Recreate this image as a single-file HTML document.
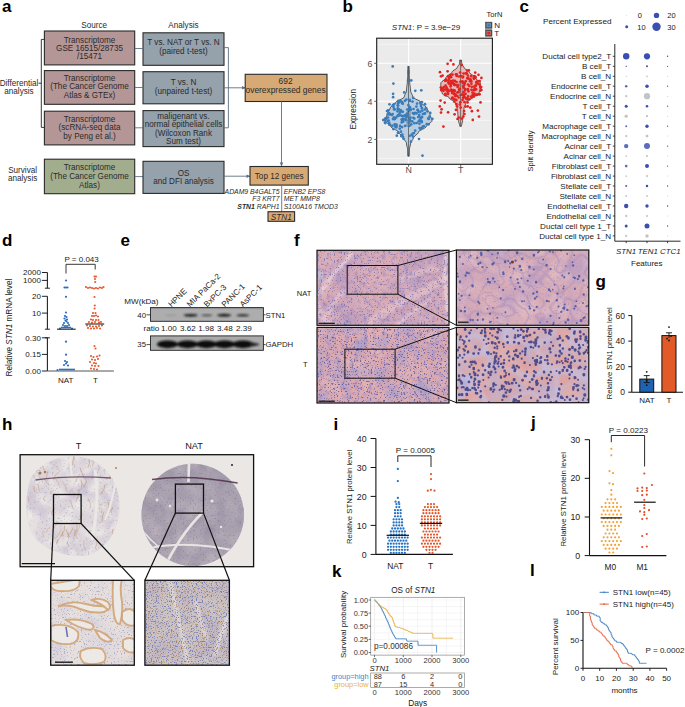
<!DOCTYPE html>
<html><head><meta charset="utf-8"><style>
html,body{margin:0;padding:0;background:#fff;}
svg{display:block;font-family:"Liberation Sans",sans-serif;}
</style></head><body>
<svg width="685" height="707" viewBox="0 0 685 707">
<text x="2.0" y="12.2" font-size="17" text-anchor="start" fill="#000" font-weight="bold">a</text>
<text x="94.2" y="28.2" font-size="8.15" text-anchor="middle" fill="#2b2b2b">Source</text>
<text x="183.5" y="27.6" font-size="8.15" text-anchor="middle" fill="#2b2b2b">Analysis</text>
<rect x="44.4" y="31.0" width="90.3" height="33.9" fill="#b49697" stroke="#2a2a2a" stroke-width="1.1"/>
<text x="89.5" y="42.7" font-size="8.15" text-anchor="middle" fill="#2b2b2b">Transcriptome</text>
<text x="89.5" y="51.1" font-size="8.15" text-anchor="middle" fill="#2b2b2b">GSE 16515/28735</text>
<text x="89.5" y="59.4" font-size="8.15" text-anchor="middle" fill="#2b2b2b">/15471</text>
<rect x="44.4" y="70.6" width="90.3" height="33.7" fill="#b49697" stroke="#2a2a2a" stroke-width="1.1"/>
<text x="89.5" y="80.6" font-size="8.15" text-anchor="middle" fill="#2b2b2b">Transcriptome</text>
<text x="89.5" y="89.1" font-size="8.15" text-anchor="middle" fill="#2b2b2b">(The Cancer Genome</text>
<text x="89.5" y="97.6" font-size="8.15" text-anchor="middle" fill="#2b2b2b">Atlas &amp; GTEx)</text>
<rect x="44.4" y="111.2" width="90.3" height="33.7" fill="#b49697" stroke="#2a2a2a" stroke-width="1.1"/>
<text x="89.5" y="121.5" font-size="8.15" text-anchor="middle" fill="#2b2b2b">Transcriptome</text>
<text x="89.5" y="130.1" font-size="8.15" text-anchor="middle" fill="#2b2b2b">(scRNA-seq data</text>
<text x="89.5" y="138.7" font-size="8.15" text-anchor="middle" fill="#2b2b2b">by Peng et al.)</text>
<rect x="143.0" y="32.8" width="81.0" height="32.5" fill="#95a1ab" stroke="#2a2a2a" stroke-width="1.1"/>
<text x="183.5" y="45.1" font-size="8.15" text-anchor="middle" fill="#2b2b2b">T vs. NAT or T vs. N</text>
<text x="183.5" y="53.8" font-size="8.15" text-anchor="middle" fill="#2b2b2b">(paired t-test)</text>
<rect x="143.0" y="71.7" width="81.0" height="32.1" fill="#95a1ab" stroke="#2a2a2a" stroke-width="1.1"/>
<text x="183.5" y="85.4" font-size="8.15" text-anchor="middle" fill="#2b2b2b">T vs. N</text>
<text x="183.5" y="94.1" font-size="8.15" text-anchor="middle" fill="#2b2b2b">(unpaired t-test)</text>
<rect x="143.0" y="110.6" width="81.0" height="36.0" fill="#95a1ab" stroke="#2a2a2a" stroke-width="1.1"/>
<text x="183.5" y="118.7" font-size="8.15" text-anchor="middle" fill="#2b2b2b">maligenant vs.</text>
<text x="183.5" y="127.1" font-size="8.15" text-anchor="middle" fill="#2b2b2b">normal epithelial cells</text>
<text x="183.5" y="135.6" font-size="8.15" text-anchor="middle" fill="#2b2b2b">(Wilcoxon Rank</text>
<text x="183.5" y="143.9" font-size="8.15" text-anchor="middle" fill="#2b2b2b">Sum test)</text>
<line x1="134.8" y1="48.5" x2="143.0" y2="48.5" stroke="#5f6f82" stroke-width="0.9"/>
<line x1="134.8" y1="87.5" x2="143.0" y2="87.5" stroke="#5f6f82" stroke-width="0.9"/>
<line x1="134.8" y1="127.8" x2="143.0" y2="127.8" stroke="#5f6f82" stroke-width="0.9"/>
<line x1="224.0" y1="47.6" x2="228.4" y2="47.6" stroke="#5f6f82" stroke-width="0.9"/>
<line x1="228.4" y1="47.6" x2="228.4" y2="127.8" stroke="#5f6f82" stroke-width="0.9"/>
<line x1="224.0" y1="127.8" x2="228.4" y2="127.8" stroke="#5f6f82" stroke-width="0.9"/>
<line x1="224.0" y1="87.8" x2="245.0" y2="87.8" stroke="#5f6f82" stroke-width="0.9"/>
<path d="M242,86 L245.5,87.8 L242,89.6" fill="#5f6f82" stroke="none" stroke-width="1"/>
<rect x="245.2" y="74.3" width="81.8" height="27.2" fill="#d7a974" stroke="#2a2a2a" stroke-width="1.1"/>
<text x="285.6" y="84.3" font-size="8.4" text-anchor="middle" fill="#2b2b2b">692</text>
<text x="285.6" y="93.0" font-size="8.4" text-anchor="middle" fill="#2b2b2b">overexpressed genes</text>
<line x1="281.5" y1="101.5" x2="281.5" y2="166.0" stroke="#5f6f82" stroke-width="0.9"/>
<path d="M279.7,162.5 L281.5,166.2 L283.3,162.5" fill="#5f6f82" stroke="none" stroke-width="1"/>
<path d="M44,39.4 L41.3,39.4 L41.3,127.4 L44,127.4" fill="none" stroke="#222" stroke-width="0.9"/>
<line x1="38.5" y1="83.2" x2="41.3" y2="83.2" stroke="#222" stroke-width="0.9"/>
<text x="19.0" y="85.6" font-size="8.15" text-anchor="middle" fill="#2b2b2b">Differential</text>
<text x="19.0" y="93.8" font-size="8.15" text-anchor="middle" fill="#2b2b2b">analysis</text>
<rect x="44.4" y="159.2" width="90.3" height="34.5" fill="#a2ad8e" stroke="#2a2a2a" stroke-width="1.1"/>
<text x="89.5" y="170.0" font-size="8.15" text-anchor="middle" fill="#2b2b2b">Transcriptome</text>
<text x="89.5" y="178.8" font-size="8.15" text-anchor="middle" fill="#2b2b2b">(The Cancer Genome</text>
<text x="89.5" y="187.5" font-size="8.15" text-anchor="middle" fill="#2b2b2b">Atlas)</text>
<text x="22.6" y="173.1" font-size="8.15" text-anchor="middle" fill="#2b2b2b">Survival</text>
<text x="22.6" y="181.4" font-size="8.15" text-anchor="middle" fill="#2b2b2b">analysis</text>
<line x1="134.8" y1="176.6" x2="143.0" y2="176.6" stroke="#5f6f82" stroke-width="0.9"/>
<rect x="143.0" y="161.3" width="81.0" height="32.1" fill="#95a1ab" stroke="#2a2a2a" stroke-width="1.1"/>
<text x="183.5" y="175.6" font-size="8.15" text-anchor="middle" fill="#2b2b2b">OS</text>
<text x="183.5" y="183.9" font-size="8.15" text-anchor="middle" fill="#2b2b2b">and DFI analysis</text>
<line x1="224.0" y1="176.2" x2="250.0" y2="176.2" stroke="#5f6f82" stroke-width="0.9"/>
<path d="M246.5,174.4 L250.2,176.2 L246.5,178" fill="#5f6f82" stroke="none" stroke-width="1"/>
<rect x="250.0" y="166.5" width="58.3" height="18.6" fill="#d7a974" stroke="#2a2a2a" stroke-width="1.1"/>
<text x="279.2" y="178.8" font-size="8.15" text-anchor="middle" fill="#2b2b2b">Top 12 genes</text>
<line x1="281.7" y1="185.1" x2="281.7" y2="211.7" stroke="#5f6f82" stroke-width="0.9"/>
<text x="279.6" y="194.2" font-size="6.85" text-anchor="end" fill="#2b2b2b" font-style="italic">ADAM9 B4GALT5</text>
<text x="279.6" y="200.9" font-size="6.85" text-anchor="end" fill="#2b2b2b" font-style="italic">F3 KRT7</text>
<text x="279.6" y="209.1" font-size="6.85" text-anchor="end" fill="#2b2b2b" font-style="italic"><tspan font-weight="bold">STN1</tspan> RAPH1</text>
<text x="283.8" y="194.2" font-size="6.85" text-anchor="start" fill="#2b2b2b" font-style="italic">EFNB2 EPS8</text>
<text x="283.8" y="200.9" font-size="6.85" text-anchor="start" fill="#2b2b2b" font-style="italic">MET MMP8</text>
<text x="283.8" y="209.1" font-size="6.85" text-anchor="start" fill="#2b2b2b" font-style="italic">S100A16 TMOD3</text>
<rect x="268.0" y="211.7" width="26.6" height="9.6" fill="#d7a974" stroke="#2a2a2a" stroke-width="1.1"/>
<text x="281.3" y="219.6" font-size="8.2" text-anchor="middle" fill="#2b2b2b" font-style="italic">STN1</text>
<text x="342.5" y="11.8" font-size="17" text-anchor="start" fill="#000" font-weight="bold">b</text>
<rect x="376.7" y="38.2" width="115.7" height="126.1" fill="#ebebeb" stroke="none" stroke-width="1"/>
<line x1="376.7" y1="158.4" x2="492.4" y2="158.4" stroke="#fafafa" stroke-width="0.6"/>
<line x1="376.7" y1="120.4" x2="492.4" y2="120.4" stroke="#fafafa" stroke-width="0.6"/>
<line x1="376.7" y1="82.3" x2="492.4" y2="82.3" stroke="#fafafa" stroke-width="0.6"/>
<line x1="376.7" y1="44.2" x2="492.4" y2="44.2" stroke="#fafafa" stroke-width="0.6"/>
<line x1="376.7" y1="139.4" x2="492.4" y2="139.4" stroke="#ffffff" stroke-width="1.1"/>
<line x1="376.7" y1="101.3" x2="492.4" y2="101.3" stroke="#ffffff" stroke-width="1.1"/>
<line x1="376.7" y1="63.3" x2="492.4" y2="63.3" stroke="#ffffff" stroke-width="1.1"/>
<line x1="408.6" y1="38.2" x2="408.6" y2="164.3" stroke="#ffffff" stroke-width="1.1"/>
<line x1="460.7" y1="38.2" x2="460.7" y2="164.3" stroke="#ffffff" stroke-width="1.1"/>
<path d="M408.5,66.4 L409.2,66.4 L409.2,67.5 L409.2,68.6 L409.2,69.8 L409.3,70.9 L409.3,72.0 L409.3,73.1 L409.3,74.3 L409.3,75.4 L409.4,76.5 L409.4,77.6 L409.5,78.7 L409.6,79.9 L409.7,81.0 L409.7,82.1 L409.8,83.2 L409.8,84.4 L410.0,85.5 L410.3,86.6 L410.3,87.7 L410.4,88.8 L410.5,90.0 L410.6,91.1 L410.9,92.2 L411.5,93.3 L412.0,94.5 L412.5,95.6 L412.7,96.7 L413.4,97.8 L415.4,99.0 L417.9,100.1 L420.1,101.2 L421.2,102.3 L421.6,103.4 L423.0,104.6 L424.6,105.7 L426.1,106.8 L426.9,107.9 L427.1,109.1 L427.7,110.2 L428.5,111.3 L429.3,112.4 L429.9,113.5 L430.1,114.7 L430.3,115.8 L430.7,116.9 L431.2,118.0 L431.7,119.2 L432.0,120.3 L431.8,121.4 L430.7,122.5 L429.1,123.6 L427.5,124.8 L426.4,125.9 L426.0,127.0 L424.6,128.1 L422.5,129.3 L420.3,130.4 L418.7,131.5 L418.3,132.6 L417.5,133.8 L416.1,134.9 L414.7,136.0 L413.7,137.1 L413.4,138.2 L412.9,139.4 L412.1,140.5 L411.3,141.6 L410.6,142.7 L410.5,143.9 L410.3,145.0 L410.1,146.1 L409.8,147.2 L409.5,148.3 L409.5,149.5 L409.5,150.6 L409.4,151.7 L409.3,152.8 L409.3,154.0 L409.2,155.1 L409.2,156.2 L407.8,156.2 L407.8,155.1 L407.7,154.0 L407.7,152.8 L407.6,151.7 L407.5,150.6 L407.5,149.5 L407.5,148.3 L407.2,147.2 L406.9,146.1 L406.7,145.0 L406.5,143.9 L406.4,142.7 L405.7,141.6 L404.9,140.5 L404.1,139.4 L403.6,138.2 L403.3,137.1 L402.3,136.0 L400.9,134.9 L399.5,133.8 L398.7,132.6 L398.3,131.5 L396.7,130.4 L394.5,129.3 L392.4,128.1 L391.0,127.0 L390.6,125.9 L389.5,124.8 L387.9,123.6 L386.3,122.5 L385.2,121.4 L385.0,120.3 L385.3,119.2 L385.8,118.0 L386.3,116.9 L386.7,115.8 L386.9,114.7 L387.1,113.5 L387.7,112.4 L388.5,111.3 L389.3,110.2 L389.9,109.1 L390.1,107.9 L390.9,106.8 L392.4,105.7 L394.0,104.6 L395.4,103.4 L395.8,102.3 L396.9,101.2 L399.1,100.1 L401.6,99.0 L403.6,97.8 L404.3,96.7 L404.5,95.6 L405.0,94.5 L405.5,93.3 L406.1,92.2 L406.4,91.1 L406.5,90.0 L406.6,88.8 L406.7,87.7 L406.7,86.6 L407.0,85.5 L407.2,84.4 L407.2,83.2 L407.3,82.1 L407.3,81.0 L407.4,79.9 L407.5,78.7 L407.6,77.6 L407.6,76.5 L407.7,75.4 L407.7,74.3 L407.7,73.1 L407.7,72.0 L407.7,70.9 L407.8,69.8 L407.8,68.6 L407.8,67.5 L407.8,66.4 Z" fill="#b9cde0" stroke="#2a2a2a" stroke-width="0.75"/>
<path d="M460.6,60.1 L461.5,60.1 L461.5,60.9 L461.6,61.8 L461.7,62.6 L461.8,63.4 L461.8,64.2 L462.2,65.1 L463.0,65.9 L463.7,66.7 L464.0,67.5 L464.5,68.4 L465.6,69.2 L467.0,70.0 L468.3,70.9 L469.0,71.7 L469.2,72.5 L470.0,73.3 L471.2,74.2 L472.5,75.0 L473.8,75.8 L474.8,76.7 L475.3,77.5 L475.5,78.3 L476.2,79.1 L477.2,80.0 L478.3,80.8 L479.3,81.6 L480.1,82.4 L480.4,83.3 L480.4,84.1 L480.4,84.9 L480.4,85.8 L480.4,86.6 L480.4,87.4 L480.4,88.2 L480.4,89.1 L480.3,89.9 L479.9,90.7 L479.6,91.5 L479.2,92.4 L479.0,93.2 L478.7,94.0 L477.5,94.9 L475.6,95.7 L473.7,96.5 L472.3,97.3 L471.9,98.2 L471.2,99.0 L469.8,99.8 L468.2,100.6 L466.8,101.5 L466.0,102.3 L465.9,103.1 L465.7,104.0 L465.3,104.8 L464.9,105.6 L464.5,106.4 L464.1,107.3 L464.0,108.1 L464.0,108.9 L463.9,109.8 L463.8,110.6 L463.6,111.4 L463.5,112.2 L463.4,113.1 L463.4,113.9 L463.4,114.7 L463.3,115.5 L463.2,116.4 L463.0,117.2 L462.9,118.0 L462.7,118.9 L462.6,119.7 L462.6,120.5 L462.6,121.3 L462.4,122.2 L462.2,123.0 L461.9,123.8 L461.7,124.6 L461.5,125.5 L461.4,126.3 L459.8,126.3 L459.7,125.5 L459.5,124.6 L459.3,123.8 L459.0,123.0 L458.8,122.2 L458.6,121.3 L458.6,120.5 L458.6,119.7 L458.5,118.9 L458.3,118.0 L458.2,117.2 L458.0,116.4 L457.9,115.5 L457.8,114.7 L457.8,113.9 L457.8,113.1 L457.7,112.2 L457.6,111.4 L457.4,110.6 L457.3,109.8 L457.2,108.9 L457.2,108.1 L457.1,107.3 L456.7,106.4 L456.3,105.6 L455.9,104.8 L455.5,104.0 L455.3,103.1 L455.2,102.3 L454.4,101.5 L453.0,100.6 L451.4,99.8 L450.0,99.0 L449.3,98.2 L448.9,97.3 L447.5,96.5 L445.6,95.7 L443.7,94.9 L442.5,94.0 L442.2,93.2 L442.0,92.4 L441.6,91.5 L441.3,90.7 L440.9,89.9 L440.8,89.1 L440.8,88.2 L440.8,87.4 L440.8,86.6 L440.8,85.8 L440.8,84.9 L440.8,84.1 L440.8,83.3 L441.1,82.4 L441.9,81.6 L442.9,80.8 L444.0,80.0 L445.0,79.1 L445.7,78.3 L445.9,77.5 L446.4,76.7 L447.4,75.8 L448.7,75.0 L450.0,74.2 L451.2,73.3 L452.0,72.5 L452.2,71.7 L452.9,70.9 L454.2,70.0 L455.6,69.2 L456.7,68.4 L457.2,67.5 L457.5,66.7 L458.2,65.9 L459.0,65.1 L459.4,64.2 L459.4,63.4 L459.5,62.6 L459.6,61.8 L459.7,60.9 L459.7,60.1 Z" fill="#ebb6b6" stroke="#2a2a2a" stroke-width="0.75"/>
<line x1="408.5" y1="66.4" x2="408.5" y2="156.2" stroke="#333" stroke-width="0.6"/>
<line x1="460.6" y1="60.1" x2="460.6" y2="126.3" stroke="#333" stroke-width="0.6"/>
<rect x="407.0" y="111.8" width="3.0" height="14.3" fill="none" stroke="#333" stroke-width="0.5"/>
<rect x="459.1" y="81.4" width="3.0" height="14.3" fill="none" stroke="#333" stroke-width="0.5"/>
<circle cx="385.0" cy="122.6" r="1.35" fill="#3b7cb9"/>
<circle cx="394.1" cy="109.2" r="1.35" fill="#3b7cb9"/>
<circle cx="416.5" cy="113.4" r="1.35" fill="#3b7cb9"/>
<circle cx="384.8" cy="119.5" r="1.35" fill="#3b7cb9"/>
<circle cx="408.8" cy="122.7" r="1.35" fill="#3b7cb9"/>
<circle cx="428.8" cy="118.9" r="1.35" fill="#3b7cb9"/>
<circle cx="422.7" cy="126.7" r="1.35" fill="#3b7cb9"/>
<circle cx="394.4" cy="117.5" r="1.35" fill="#3b7cb9"/>
<circle cx="402.3" cy="103.3" r="1.35" fill="#3b7cb9"/>
<circle cx="412.9" cy="113.1" r="1.35" fill="#3b7cb9"/>
<circle cx="429.7" cy="116.6" r="1.35" fill="#3b7cb9"/>
<circle cx="418.4" cy="111.9" r="1.35" fill="#3b7cb9"/>
<circle cx="404.5" cy="115.6" r="1.35" fill="#3b7cb9"/>
<circle cx="414.3" cy="118.5" r="1.35" fill="#3b7cb9"/>
<circle cx="414.4" cy="123.2" r="1.35" fill="#3b7cb9"/>
<circle cx="398.1" cy="132.7" r="1.35" fill="#3b7cb9"/>
<circle cx="401.6" cy="119.6" r="1.35" fill="#3b7cb9"/>
<circle cx="402.3" cy="119.9" r="1.35" fill="#3b7cb9"/>
<circle cx="409.7" cy="135.8" r="1.35" fill="#3b7cb9"/>
<circle cx="393.5" cy="106.9" r="1.35" fill="#3b7cb9"/>
<circle cx="422.9" cy="114.0" r="1.35" fill="#3b7cb9"/>
<circle cx="411.3" cy="80.4" r="1.35" fill="#3b7cb9"/>
<circle cx="400.1" cy="125.9" r="1.35" fill="#3b7cb9"/>
<circle cx="420.7" cy="118.2" r="1.35" fill="#3b7cb9"/>
<circle cx="405.1" cy="125.9" r="1.35" fill="#3b7cb9"/>
<circle cx="407.2" cy="113.7" r="1.35" fill="#3b7cb9"/>
<circle cx="401.3" cy="136.1" r="1.35" fill="#3b7cb9"/>
<circle cx="400.3" cy="111.5" r="1.35" fill="#3b7cb9"/>
<circle cx="393.0" cy="119.1" r="1.35" fill="#3b7cb9"/>
<circle cx="402.8" cy="116.3" r="1.35" fill="#3b7cb9"/>
<circle cx="408.4" cy="105.2" r="1.35" fill="#3b7cb9"/>
<circle cx="399.8" cy="128.7" r="1.35" fill="#3b7cb9"/>
<circle cx="388.3" cy="114.5" r="1.35" fill="#3b7cb9"/>
<circle cx="421.0" cy="104.6" r="1.35" fill="#3b7cb9"/>
<circle cx="401.7" cy="135.9" r="1.35" fill="#3b7cb9"/>
<circle cx="385.4" cy="118.4" r="1.35" fill="#3b7cb9"/>
<circle cx="415.2" cy="130.6" r="1.35" fill="#3b7cb9"/>
<circle cx="403.2" cy="121.7" r="1.35" fill="#3b7cb9"/>
<circle cx="412.8" cy="133.5" r="1.35" fill="#3b7cb9"/>
<circle cx="415.1" cy="112.8" r="1.35" fill="#3b7cb9"/>
<circle cx="394.3" cy="118.9" r="1.35" fill="#3b7cb9"/>
<circle cx="404.9" cy="100.8" r="1.35" fill="#3b7cb9"/>
<circle cx="407.2" cy="109.5" r="1.35" fill="#3b7cb9"/>
<circle cx="419.1" cy="116.4" r="1.35" fill="#3b7cb9"/>
<circle cx="397.7" cy="108.4" r="1.35" fill="#3b7cb9"/>
<circle cx="402.1" cy="127.1" r="1.35" fill="#3b7cb9"/>
<circle cx="398.1" cy="105.6" r="1.35" fill="#3b7cb9"/>
<circle cx="403.0" cy="118.9" r="1.35" fill="#3b7cb9"/>
<circle cx="397.8" cy="115.3" r="1.35" fill="#3b7cb9"/>
<circle cx="423.8" cy="126.2" r="1.35" fill="#3b7cb9"/>
<circle cx="408.2" cy="114.5" r="1.35" fill="#3b7cb9"/>
<circle cx="396.3" cy="127.3" r="1.35" fill="#3b7cb9"/>
<circle cx="394.7" cy="124.4" r="1.35" fill="#3b7cb9"/>
<circle cx="406.5" cy="116.2" r="1.35" fill="#3b7cb9"/>
<circle cx="420.5" cy="111.7" r="1.35" fill="#3b7cb9"/>
<circle cx="401.0" cy="131.7" r="1.35" fill="#3b7cb9"/>
<circle cx="403.4" cy="119.6" r="1.35" fill="#3b7cb9"/>
<circle cx="396.3" cy="117.4" r="1.35" fill="#3b7cb9"/>
<circle cx="413.1" cy="136.6" r="1.35" fill="#3b7cb9"/>
<circle cx="432.4" cy="118.8" r="1.35" fill="#3b7cb9"/>
<circle cx="421.7" cy="128.1" r="1.35" fill="#3b7cb9"/>
<circle cx="418.0" cy="109.9" r="1.35" fill="#3b7cb9"/>
<circle cx="409.4" cy="125.8" r="1.35" fill="#3b7cb9"/>
<circle cx="409.7" cy="107.8" r="1.35" fill="#3b7cb9"/>
<circle cx="411.3" cy="124.4" r="1.35" fill="#3b7cb9"/>
<circle cx="401.7" cy="122.4" r="1.35" fill="#3b7cb9"/>
<circle cx="420.6" cy="128.8" r="1.35" fill="#3b7cb9"/>
<circle cx="419.5" cy="120.4" r="1.35" fill="#3b7cb9"/>
<circle cx="383.2" cy="120.0" r="1.35" fill="#3b7cb9"/>
<circle cx="388.1" cy="110.4" r="1.35" fill="#3b7cb9"/>
<circle cx="416.4" cy="106.6" r="1.35" fill="#3b7cb9"/>
<circle cx="422.0" cy="102.0" r="1.35" fill="#3b7cb9"/>
<circle cx="413.5" cy="109.0" r="1.35" fill="#3b7cb9"/>
<circle cx="389.2" cy="122.9" r="1.35" fill="#3b7cb9"/>
<circle cx="384.7" cy="119.6" r="1.35" fill="#3b7cb9"/>
<circle cx="387.5" cy="120.9" r="1.35" fill="#3b7cb9"/>
<circle cx="417.1" cy="103.6" r="1.35" fill="#3b7cb9"/>
<circle cx="394.7" cy="109.6" r="1.35" fill="#3b7cb9"/>
<circle cx="417.4" cy="110.1" r="1.35" fill="#3b7cb9"/>
<circle cx="406.4" cy="99.6" r="1.35" fill="#3b7cb9"/>
<circle cx="388.0" cy="117.5" r="1.35" fill="#3b7cb9"/>
<circle cx="389.5" cy="124.7" r="1.35" fill="#3b7cb9"/>
<circle cx="394.9" cy="119.0" r="1.35" fill="#3b7cb9"/>
<circle cx="422.1" cy="116.9" r="1.35" fill="#3b7cb9"/>
<circle cx="410.3" cy="120.7" r="1.35" fill="#3b7cb9"/>
<circle cx="421.9" cy="108.2" r="1.35" fill="#3b7cb9"/>
<circle cx="421.6" cy="121.7" r="1.35" fill="#3b7cb9"/>
<circle cx="388.7" cy="120.6" r="1.35" fill="#3b7cb9"/>
<circle cx="419.3" cy="114.8" r="1.35" fill="#3b7cb9"/>
<circle cx="410.7" cy="109.9" r="1.35" fill="#3b7cb9"/>
<circle cx="396.4" cy="124.6" r="1.35" fill="#3b7cb9"/>
<circle cx="419.5" cy="123.8" r="1.35" fill="#3b7cb9"/>
<circle cx="398.1" cy="103.3" r="1.35" fill="#3b7cb9"/>
<circle cx="410.2" cy="108.0" r="1.35" fill="#3b7cb9"/>
<circle cx="403.5" cy="138.8" r="1.35" fill="#3b7cb9"/>
<circle cx="392.7" cy="114.1" r="1.35" fill="#3b7cb9"/>
<circle cx="392.9" cy="105.2" r="1.35" fill="#3b7cb9"/>
<circle cx="399.6" cy="115.4" r="1.35" fill="#3b7cb9"/>
<circle cx="394.2" cy="104.0" r="1.35" fill="#3b7cb9"/>
<circle cx="426.0" cy="108.4" r="1.35" fill="#3b7cb9"/>
<circle cx="401.5" cy="115.5" r="1.35" fill="#3b7cb9"/>
<circle cx="424.9" cy="113.3" r="1.35" fill="#3b7cb9"/>
<circle cx="412.3" cy="121.4" r="1.35" fill="#3b7cb9"/>
<circle cx="398.0" cy="115.8" r="1.35" fill="#3b7cb9"/>
<circle cx="426.8" cy="124.2" r="1.35" fill="#3b7cb9"/>
<circle cx="398.0" cy="101.6" r="1.35" fill="#3b7cb9"/>
<circle cx="424.4" cy="113.7" r="1.35" fill="#3b7cb9"/>
<circle cx="385.3" cy="123.1" r="1.35" fill="#3b7cb9"/>
<circle cx="410.4" cy="109.8" r="1.35" fill="#3b7cb9"/>
<circle cx="389.5" cy="124.5" r="1.35" fill="#3b7cb9"/>
<circle cx="402.3" cy="134.6" r="1.35" fill="#3b7cb9"/>
<circle cx="390.0" cy="114.4" r="1.35" fill="#3b7cb9"/>
<circle cx="400.6" cy="110.0" r="1.35" fill="#3b7cb9"/>
<circle cx="410.4" cy="117.5" r="1.35" fill="#3b7cb9"/>
<circle cx="421.0" cy="106.1" r="1.35" fill="#3b7cb9"/>
<circle cx="389.4" cy="113.6" r="1.35" fill="#3b7cb9"/>
<circle cx="391.8" cy="114.9" r="1.35" fill="#3b7cb9"/>
<circle cx="408.8" cy="120.3" r="1.35" fill="#3b7cb9"/>
<circle cx="401.5" cy="111.4" r="1.35" fill="#3b7cb9"/>
<circle cx="428.6" cy="124.3" r="1.35" fill="#3b7cb9"/>
<circle cx="409.8" cy="107.1" r="1.35" fill="#3b7cb9"/>
<circle cx="414.0" cy="113.9" r="1.35" fill="#3b7cb9"/>
<circle cx="405.2" cy="115.7" r="1.35" fill="#3b7cb9"/>
<circle cx="402.8" cy="111.8" r="1.35" fill="#3b7cb9"/>
<circle cx="394.5" cy="118.9" r="1.35" fill="#3b7cb9"/>
<circle cx="384.5" cy="120.2" r="1.35" fill="#3b7cb9"/>
<circle cx="413.2" cy="97.9" r="1.35" fill="#3b7cb9"/>
<circle cx="392.3" cy="125.7" r="1.35" fill="#3b7cb9"/>
<circle cx="424.9" cy="109.5" r="1.35" fill="#3b7cb9"/>
<circle cx="412.5" cy="101.6" r="1.35" fill="#3b7cb9"/>
<circle cx="389.1" cy="113.4" r="1.35" fill="#3b7cb9"/>
<circle cx="396.6" cy="125.8" r="1.35" fill="#3b7cb9"/>
<circle cx="421.8" cy="122.1" r="1.35" fill="#3b7cb9"/>
<circle cx="398.1" cy="132.7" r="1.35" fill="#3b7cb9"/>
<circle cx="397.8" cy="105.3" r="1.35" fill="#3b7cb9"/>
<circle cx="399.4" cy="102.1" r="1.35" fill="#3b7cb9"/>
<circle cx="418.2" cy="117.1" r="1.35" fill="#3b7cb9"/>
<circle cx="421.3" cy="121.1" r="1.35" fill="#3b7cb9"/>
<circle cx="405.6" cy="120.1" r="1.35" fill="#3b7cb9"/>
<circle cx="428.3" cy="118.4" r="1.35" fill="#3b7cb9"/>
<circle cx="420.2" cy="128.0" r="1.35" fill="#3b7cb9"/>
<circle cx="409.9" cy="118.8" r="1.35" fill="#3b7cb9"/>
<circle cx="406.0" cy="114.8" r="1.35" fill="#3b7cb9"/>
<circle cx="422.4" cy="110.6" r="1.35" fill="#3b7cb9"/>
<circle cx="398.1" cy="109.4" r="1.35" fill="#3b7cb9"/>
<circle cx="409.9" cy="101.0" r="1.35" fill="#3b7cb9"/>
<circle cx="386.4" cy="118.2" r="1.35" fill="#3b7cb9"/>
<circle cx="408.7" cy="109.7" r="1.35" fill="#3b7cb9"/>
<circle cx="402.0" cy="102.1" r="1.35" fill="#3b7cb9"/>
<circle cx="398.7" cy="109.2" r="1.35" fill="#3b7cb9"/>
<circle cx="393.7" cy="117.7" r="1.35" fill="#3b7cb9"/>
<circle cx="411.7" cy="134.9" r="1.35" fill="#3b7cb9"/>
<circle cx="419.6" cy="128.1" r="1.35" fill="#3b7cb9"/>
<circle cx="385.7" cy="119.0" r="1.35" fill="#3b7cb9"/>
<circle cx="409.7" cy="99.9" r="1.35" fill="#3b7cb9"/>
<circle cx="395.1" cy="126.4" r="1.35" fill="#3b7cb9"/>
<circle cx="418.7" cy="121.3" r="1.35" fill="#3b7cb9"/>
<circle cx="393.3" cy="129.1" r="1.35" fill="#3b7cb9"/>
<circle cx="430.3" cy="112.9" r="1.35" fill="#3b7cb9"/>
<circle cx="402.8" cy="103.7" r="1.35" fill="#3b7cb9"/>
<circle cx="413.3" cy="117.8" r="1.35" fill="#3b7cb9"/>
<circle cx="404.2" cy="92.4" r="1.35" fill="#3b7cb9"/>
<circle cx="421.3" cy="117.5" r="1.35" fill="#3b7cb9"/>
<circle cx="420.5" cy="120.4" r="1.35" fill="#3b7cb9"/>
<circle cx="399.6" cy="113.2" r="1.35" fill="#3b7cb9"/>
<circle cx="427.3" cy="111.3" r="1.35" fill="#3b7cb9"/>
<circle cx="405.4" cy="118.7" r="1.35" fill="#3b7cb9"/>
<circle cx="397.4" cy="111.3" r="1.35" fill="#3b7cb9"/>
<circle cx="416.7" cy="123.0" r="1.35" fill="#3b7cb9"/>
<circle cx="406.8" cy="116.7" r="1.35" fill="#3b7cb9"/>
<circle cx="392.7" cy="66.4" r="1.35" fill="#3b7cb9"/>
<circle cx="393.4" cy="83.6" r="1.35" fill="#3b7cb9"/>
<circle cx="393.1" cy="93.8" r="1.35" fill="#3b7cb9"/>
<circle cx="393.1" cy="97.2" r="1.35" fill="#3b7cb9"/>
<circle cx="389.5" cy="104.3" r="1.35" fill="#3b7cb9"/>
<circle cx="387.0" cy="111.0" r="1.35" fill="#3b7cb9"/>
<circle cx="415.3" cy="90.8" r="1.35" fill="#3b7cb9"/>
<circle cx="421.3" cy="90.3" r="1.35" fill="#3b7cb9"/>
<circle cx="414.0" cy="133.0" r="1.35" fill="#3b7cb9"/>
<circle cx="419.0" cy="139.0" r="1.35" fill="#3b7cb9"/>
<circle cx="411.0" cy="141.7" r="1.35" fill="#3b7cb9"/>
<circle cx="422.5" cy="155.7" r="1.35" fill="#3b7cb9"/>
<circle cx="403.0" cy="136.8" r="1.35" fill="#3b7cb9"/>
<circle cx="396.8" cy="135.7" r="1.35" fill="#3b7cb9"/>
<circle cx="425.0" cy="104.2" r="1.35" fill="#3b7cb9"/>
<circle cx="420.3" cy="102.8" r="1.35" fill="#3b7cb9"/>
<circle cx="398.5" cy="100.8" r="1.35" fill="#3b7cb9"/>
<circle cx="400.6" cy="101.2" r="1.35" fill="#3b7cb9"/>
<circle cx="456.3" cy="99.9" r="1.35" fill="#df2422"/>
<circle cx="454.6" cy="91.4" r="1.35" fill="#df2422"/>
<circle cx="448.1" cy="76.1" r="1.35" fill="#df2422"/>
<circle cx="458.7" cy="97.5" r="1.35" fill="#df2422"/>
<circle cx="452.5" cy="74.6" r="1.35" fill="#df2422"/>
<circle cx="457.7" cy="85.2" r="1.35" fill="#df2422"/>
<circle cx="477.7" cy="81.0" r="1.35" fill="#df2422"/>
<circle cx="475.4" cy="76.9" r="1.35" fill="#df2422"/>
<circle cx="479.7" cy="81.1" r="1.35" fill="#df2422"/>
<circle cx="474.0" cy="78.8" r="1.35" fill="#df2422"/>
<circle cx="474.4" cy="76.2" r="1.35" fill="#df2422"/>
<circle cx="448.5" cy="82.2" r="1.35" fill="#df2422"/>
<circle cx="457.3" cy="96.0" r="1.35" fill="#df2422"/>
<circle cx="474.4" cy="93.7" r="1.35" fill="#df2422"/>
<circle cx="449.4" cy="76.7" r="1.35" fill="#df2422"/>
<circle cx="475.5" cy="77.7" r="1.35" fill="#df2422"/>
<circle cx="445.2" cy="80.7" r="1.35" fill="#df2422"/>
<circle cx="464.7" cy="82.9" r="1.35" fill="#df2422"/>
<circle cx="463.1" cy="76.7" r="1.35" fill="#df2422"/>
<circle cx="453.1" cy="82.9" r="1.35" fill="#df2422"/>
<circle cx="455.3" cy="96.1" r="1.35" fill="#df2422"/>
<circle cx="470.5" cy="79.4" r="1.35" fill="#df2422"/>
<circle cx="459.8" cy="89.1" r="1.35" fill="#df2422"/>
<circle cx="475.7" cy="85.4" r="1.35" fill="#df2422"/>
<circle cx="454.8" cy="84.9" r="1.35" fill="#df2422"/>
<circle cx="458.6" cy="91.8" r="1.35" fill="#df2422"/>
<circle cx="447.4" cy="91.4" r="1.35" fill="#df2422"/>
<circle cx="473.4" cy="90.0" r="1.35" fill="#df2422"/>
<circle cx="456.5" cy="104.0" r="1.35" fill="#df2422"/>
<circle cx="460.7" cy="107.5" r="1.35" fill="#df2422"/>
<circle cx="457.0" cy="106.3" r="1.35" fill="#df2422"/>
<circle cx="468.0" cy="89.6" r="1.35" fill="#df2422"/>
<circle cx="449.1" cy="78.7" r="1.35" fill="#df2422"/>
<circle cx="469.3" cy="85.9" r="1.35" fill="#df2422"/>
<circle cx="471.3" cy="81.2" r="1.35" fill="#df2422"/>
<circle cx="457.6" cy="86.9" r="1.35" fill="#df2422"/>
<circle cx="456.7" cy="74.4" r="1.35" fill="#df2422"/>
<circle cx="465.0" cy="90.4" r="1.35" fill="#df2422"/>
<circle cx="473.3" cy="94.7" r="1.35" fill="#df2422"/>
<circle cx="447.6" cy="89.4" r="1.35" fill="#df2422"/>
<circle cx="462.7" cy="77.5" r="1.35" fill="#df2422"/>
<circle cx="452.1" cy="98.3" r="1.35" fill="#df2422"/>
<circle cx="451.5" cy="90.2" r="1.35" fill="#df2422"/>
<circle cx="459.8" cy="104.5" r="1.35" fill="#df2422"/>
<circle cx="472.5" cy="92.5" r="1.35" fill="#df2422"/>
<circle cx="465.7" cy="81.2" r="1.35" fill="#df2422"/>
<circle cx="462.9" cy="82.8" r="1.35" fill="#df2422"/>
<circle cx="453.9" cy="84.2" r="1.35" fill="#df2422"/>
<circle cx="467.1" cy="70.6" r="1.35" fill="#df2422"/>
<circle cx="466.1" cy="98.5" r="1.35" fill="#df2422"/>
<circle cx="464.4" cy="102.1" r="1.35" fill="#df2422"/>
<circle cx="465.5" cy="106.6" r="1.35" fill="#df2422"/>
<circle cx="448.4" cy="80.3" r="1.35" fill="#df2422"/>
<circle cx="468.0" cy="84.5" r="1.35" fill="#df2422"/>
<circle cx="471.4" cy="83.7" r="1.35" fill="#df2422"/>
<circle cx="448.8" cy="83.6" r="1.35" fill="#df2422"/>
<circle cx="461.8" cy="118.6" r="1.35" fill="#df2422"/>
<circle cx="463.5" cy="92.2" r="1.35" fill="#df2422"/>
<circle cx="478.2" cy="83.7" r="1.35" fill="#df2422"/>
<circle cx="464.6" cy="97.2" r="1.35" fill="#df2422"/>
<circle cx="479.6" cy="94.3" r="1.35" fill="#df2422"/>
<circle cx="468.5" cy="78.5" r="1.35" fill="#df2422"/>
<circle cx="464.0" cy="94.7" r="1.35" fill="#df2422"/>
<circle cx="471.5" cy="89.8" r="1.35" fill="#df2422"/>
<circle cx="463.3" cy="116.6" r="1.35" fill="#df2422"/>
<circle cx="446.0" cy="80.7" r="1.35" fill="#df2422"/>
<circle cx="476.8" cy="94.9" r="1.35" fill="#df2422"/>
<circle cx="474.2" cy="94.8" r="1.35" fill="#df2422"/>
<circle cx="457.4" cy="92.4" r="1.35" fill="#df2422"/>
<circle cx="454.9" cy="80.9" r="1.35" fill="#df2422"/>
<circle cx="467.0" cy="99.2" r="1.35" fill="#df2422"/>
<circle cx="481.2" cy="87.1" r="1.35" fill="#df2422"/>
<circle cx="466.7" cy="73.4" r="1.35" fill="#df2422"/>
<circle cx="474.4" cy="90.2" r="1.35" fill="#df2422"/>
<circle cx="440.8" cy="87.6" r="1.35" fill="#df2422"/>
<circle cx="454.3" cy="101.6" r="1.35" fill="#df2422"/>
<circle cx="442.7" cy="88.3" r="1.35" fill="#df2422"/>
<circle cx="448.3" cy="76.6" r="1.35" fill="#df2422"/>
<circle cx="443.8" cy="87.1" r="1.35" fill="#df2422"/>
<circle cx="467.9" cy="75.6" r="1.35" fill="#df2422"/>
<circle cx="451.8" cy="91.2" r="1.35" fill="#df2422"/>
<circle cx="451.0" cy="81.0" r="1.35" fill="#df2422"/>
<circle cx="445.6" cy="85.5" r="1.35" fill="#df2422"/>
<circle cx="468.1" cy="96.3" r="1.35" fill="#df2422"/>
<circle cx="462.5" cy="81.3" r="1.35" fill="#df2422"/>
<circle cx="463.3" cy="86.4" r="1.35" fill="#df2422"/>
<circle cx="449.2" cy="90.8" r="1.35" fill="#df2422"/>
<circle cx="452.3" cy="92.9" r="1.35" fill="#df2422"/>
<circle cx="460.1" cy="72.5" r="1.35" fill="#df2422"/>
<circle cx="455.7" cy="94.5" r="1.35" fill="#df2422"/>
<circle cx="468.8" cy="70.3" r="1.35" fill="#df2422"/>
<circle cx="446.5" cy="87.3" r="1.35" fill="#df2422"/>
<circle cx="454.2" cy="84.8" r="1.35" fill="#df2422"/>
<circle cx="471.8" cy="86.8" r="1.35" fill="#df2422"/>
<circle cx="458.9" cy="76.5" r="1.35" fill="#df2422"/>
<circle cx="473.9" cy="96.6" r="1.35" fill="#df2422"/>
<circle cx="476.3" cy="82.6" r="1.35" fill="#df2422"/>
<circle cx="471.2" cy="76.2" r="1.35" fill="#df2422"/>
<circle cx="476.5" cy="82.1" r="1.35" fill="#df2422"/>
<circle cx="446.5" cy="89.4" r="1.35" fill="#df2422"/>
<circle cx="448.0" cy="93.4" r="1.35" fill="#df2422"/>
<circle cx="471.8" cy="97.4" r="1.35" fill="#df2422"/>
<circle cx="463.5" cy="73.5" r="1.35" fill="#df2422"/>
<circle cx="453.4" cy="90.2" r="1.35" fill="#df2422"/>
<circle cx="476.1" cy="89.3" r="1.35" fill="#df2422"/>
<circle cx="452.5" cy="97.6" r="1.35" fill="#df2422"/>
<circle cx="454.1" cy="93.9" r="1.35" fill="#df2422"/>
<circle cx="445.3" cy="89.5" r="1.35" fill="#df2422"/>
<circle cx="462.0" cy="94.7" r="1.35" fill="#df2422"/>
<circle cx="456.0" cy="74.4" r="1.35" fill="#df2422"/>
<circle cx="463.7" cy="87.7" r="1.35" fill="#df2422"/>
<circle cx="461.8" cy="65.2" r="1.35" fill="#df2422"/>
<circle cx="467.3" cy="78.2" r="1.35" fill="#df2422"/>
<circle cx="450.7" cy="85.0" r="1.35" fill="#df2422"/>
<circle cx="450.5" cy="74.8" r="1.35" fill="#df2422"/>
<circle cx="480.6" cy="87.7" r="1.35" fill="#df2422"/>
<circle cx="460.8" cy="76.0" r="1.35" fill="#df2422"/>
<circle cx="451.1" cy="77.2" r="1.35" fill="#df2422"/>
<circle cx="468.4" cy="91.3" r="1.35" fill="#df2422"/>
<circle cx="480.2" cy="90.7" r="1.35" fill="#df2422"/>
<circle cx="443.1" cy="89.2" r="1.35" fill="#df2422"/>
<circle cx="467.5" cy="98.3" r="1.35" fill="#df2422"/>
<circle cx="472.6" cy="95.1" r="1.35" fill="#df2422"/>
<circle cx="451.0" cy="89.7" r="1.35" fill="#df2422"/>
<circle cx="456.7" cy="76.0" r="1.35" fill="#df2422"/>
<circle cx="460.4" cy="102.3" r="1.35" fill="#df2422"/>
<circle cx="474.8" cy="88.3" r="1.35" fill="#df2422"/>
<circle cx="450.7" cy="86.4" r="1.35" fill="#df2422"/>
<circle cx="441.3" cy="90.2" r="1.35" fill="#df2422"/>
<circle cx="447.9" cy="94.1" r="1.35" fill="#df2422"/>
<circle cx="451.2" cy="83.2" r="1.35" fill="#df2422"/>
<circle cx="454.8" cy="94.6" r="1.35" fill="#df2422"/>
<circle cx="460.8" cy="81.5" r="1.35" fill="#df2422"/>
<circle cx="462.6" cy="99.8" r="1.35" fill="#df2422"/>
<circle cx="469.5" cy="99.1" r="1.35" fill="#df2422"/>
<circle cx="443.5" cy="90.8" r="1.35" fill="#df2422"/>
<circle cx="465.2" cy="89.2" r="1.35" fill="#df2422"/>
<circle cx="459.1" cy="89.6" r="1.35" fill="#df2422"/>
<circle cx="464.4" cy="84.8" r="1.35" fill="#df2422"/>
<circle cx="464.1" cy="111.1" r="1.35" fill="#df2422"/>
<circle cx="453.0" cy="80.6" r="1.35" fill="#df2422"/>
<circle cx="445.3" cy="93.8" r="1.35" fill="#df2422"/>
<circle cx="446.0" cy="79.3" r="1.35" fill="#df2422"/>
<circle cx="475.9" cy="85.6" r="1.35" fill="#df2422"/>
<circle cx="454.4" cy="99.2" r="1.35" fill="#df2422"/>
<circle cx="478.2" cy="94.3" r="1.35" fill="#df2422"/>
<circle cx="464.5" cy="114.0" r="1.35" fill="#df2422"/>
<circle cx="456.5" cy="82.1" r="1.35" fill="#df2422"/>
<circle cx="468.3" cy="78.5" r="1.35" fill="#df2422"/>
<circle cx="454.4" cy="90.3" r="1.35" fill="#df2422"/>
<circle cx="463.1" cy="97.7" r="1.35" fill="#df2422"/>
<circle cx="445.5" cy="95.2" r="1.35" fill="#df2422"/>
<circle cx="463.9" cy="95.9" r="1.35" fill="#df2422"/>
<circle cx="474.2" cy="86.6" r="1.35" fill="#df2422"/>
<circle cx="455.6" cy="85.0" r="1.35" fill="#df2422"/>
<circle cx="465.7" cy="73.4" r="1.35" fill="#df2422"/>
<circle cx="456.0" cy="109.9" r="1.35" fill="#df2422"/>
<circle cx="470.0" cy="81.2" r="1.35" fill="#df2422"/>
<circle cx="471.2" cy="96.6" r="1.35" fill="#df2422"/>
<circle cx="467.8" cy="89.1" r="1.35" fill="#df2422"/>
<circle cx="480.3" cy="86.9" r="1.35" fill="#df2422"/>
<circle cx="452.2" cy="92.9" r="1.35" fill="#df2422"/>
<circle cx="473.7" cy="78.1" r="1.35" fill="#df2422"/>
<circle cx="452.3" cy="98.1" r="1.35" fill="#df2422"/>
<circle cx="476.3" cy="94.8" r="1.35" fill="#df2422"/>
<circle cx="450.8" cy="60.4" r="1.35" fill="#df2422"/>
<circle cx="447.6" cy="63.8" r="1.35" fill="#df2422"/>
<circle cx="453.4" cy="64.4" r="1.35" fill="#df2422"/>
<circle cx="440.0" cy="72.2" r="1.35" fill="#df2422"/>
<circle cx="447.6" cy="71.3" r="1.35" fill="#df2422"/>
<circle cx="441.0" cy="76.3" r="1.35" fill="#df2422"/>
<circle cx="442.6" cy="75.6" r="1.35" fill="#df2422"/>
<circle cx="475.2" cy="72.6" r="1.35" fill="#df2422"/>
<circle cx="478.5" cy="74.8" r="1.35" fill="#df2422"/>
<circle cx="481.4" cy="77.9" r="1.35" fill="#df2422"/>
<circle cx="440.6" cy="100.6" r="1.35" fill="#df2422"/>
<circle cx="444.7" cy="102.6" r="1.35" fill="#df2422"/>
<circle cx="439.8" cy="106.4" r="1.35" fill="#df2422"/>
<circle cx="441.6" cy="109.3" r="1.35" fill="#df2422"/>
<circle cx="441.0" cy="112.6" r="1.35" fill="#df2422"/>
<circle cx="448.1" cy="112.3" r="1.35" fill="#df2422"/>
<circle cx="454.6" cy="114.3" r="1.35" fill="#df2422"/>
<circle cx="467.7" cy="106.4" r="1.35" fill="#df2422"/>
<circle cx="470.3" cy="107.6" r="1.35" fill="#df2422"/>
<circle cx="471.9" cy="111.2" r="1.35" fill="#df2422"/>
<circle cx="477.9" cy="110.6" r="1.35" fill="#df2422"/>
<circle cx="479.0" cy="116.6" r="1.35" fill="#df2422"/>
<circle cx="472.8" cy="119.9" r="1.35" fill="#df2422"/>
<circle cx="443.4" cy="126.6" r="1.35" fill="#df2422"/>
<circle cx="458.8" cy="117.6" r="1.35" fill="#df2422"/>
<circle cx="457.5" cy="119.0" r="1.35" fill="#df2422"/>
<circle cx="467.6" cy="102.4" r="1.35" fill="#df2422"/>
<circle cx="465.6" cy="93.8" r="1.35" fill="#df2422"/>
<circle cx="480.5" cy="102.4" r="1.35" fill="#df2422"/>
<circle cx="479.5" cy="84.6" r="1.35" fill="#df2422"/>
<circle cx="481.4" cy="90.0" r="1.35" fill="#df2422"/>
<rect x="376.7" y="38.2" width="115.7" height="126.1" fill="none" stroke="#1a1a1a" stroke-width="1.1"/>
<line x1="374.2" y1="139.4" x2="376.7" y2="139.4" stroke="#444" stroke-width="0.8"/>
<text x="370.0" y="143.0" font-size="8.8" text-anchor="middle" fill="#4d4d4d">2</text>
<line x1="374.2" y1="101.3" x2="376.7" y2="101.3" stroke="#444" stroke-width="0.8"/>
<text x="370.0" y="104.9" font-size="8.8" text-anchor="middle" fill="#4d4d4d">4</text>
<line x1="374.2" y1="63.3" x2="376.7" y2="63.3" stroke="#444" stroke-width="0.8"/>
<text x="370.0" y="66.9" font-size="8.8" text-anchor="middle" fill="#4d4d4d">6</text>
<line x1="408.6" y1="164.3" x2="408.6" y2="166.8" stroke="#333" stroke-width="0.8"/>
<text x="408.6" y="173.3" font-size="8.8" text-anchor="middle" fill="#4d4d4d">N</text>
<line x1="460.7" y1="164.3" x2="460.7" y2="166.8" stroke="#333" stroke-width="0.8"/>
<text x="460.7" y="173.3" font-size="8.8" text-anchor="middle" fill="#4d4d4d">T</text>
<text x="356.2" y="109.3" font-size="8.2" text-anchor="middle" fill="#222" transform="rotate(-90 356.2 109.3)">Expression</text>
<text x="426" y="30" font-size="8" text-anchor="middle" fill="#222"><tspan font-style="italic">STN1</tspan>: P = 3.9e−29</text>
<text x="494.5" y="17.0" font-size="7.5" text-anchor="middle" fill="#222">TorN</text>
<rect x="485.4" y="22.1" width="6.6" height="6.2" fill="#505050" stroke="#444" stroke-width="0.5"/>
<rect x="486.6" y="23.2" width="4.2" height="4.0" fill="#7aa0c8" stroke="none" stroke-width="1"/>
<circle cx="488.7" cy="25.2" r="1.50" fill="#3a7dbb"/>
<rect x="485.4" y="29.8" width="6.6" height="6.4" fill="#505050" stroke="#444" stroke-width="0.5"/>
<rect x="486.6" y="31.0" width="4.2" height="4.0" fill="#d87070" stroke="none" stroke-width="1"/>
<circle cx="488.7" cy="33.0" r="1.50" fill="#e0231f"/>
<text x="494.2" y="27.8" font-size="8" text-anchor="start" fill="#222">N</text>
<text x="494.2" y="36.4" font-size="8" text-anchor="start" fill="#222">T</text>
<text x="519.5" y="12.2" font-size="17" text-anchor="start" fill="#000" font-weight="bold">c</text>
<text x="577.2" y="24.4" font-size="8.1" text-anchor="middle" fill="#1a1a1a">Percent Expressed</text>
<circle cx="626.7" cy="15.4" r="0.40" fill="#aaa"/>
<circle cx="656.5" cy="15.4" r="2.70" fill="#3a4fb0"/>
<circle cx="626.7" cy="26.8" r="1.50" fill="#3a4fb0"/>
<circle cx="656.5" cy="26.8" r="4.20" fill="#3a4fb0"/>
<text x="639.8" y="18.2" font-size="7.5" text-anchor="middle" fill="#1a1a1a">0</text>
<text x="671.4" y="18.2" font-size="7.5" text-anchor="middle" fill="#1a1a1a">20</text>
<text x="641.5" y="29.6" font-size="7.5" text-anchor="middle" fill="#1a1a1a">10</text>
<text x="671.4" y="29.6" font-size="7.5" text-anchor="middle" fill="#1a1a1a">30</text>
<line x1="614.8" y1="44.0" x2="614.8" y2="241.2" stroke="#111" stroke-width="0.9"/>
<line x1="614.8" y1="241.2" x2="680.5" y2="241.2" stroke="#111" stroke-width="0.9"/>
<text x="611.2" y="59.1" font-size="8.1" text-anchor="end" fill="#1a1a1a">Ductal cell type2_T</text>
<line x1="612.8" y1="56.3" x2="614.8" y2="56.3" stroke="#111" stroke-width="0.8"/>
<circle cx="626.2" cy="56.3" r="3.20" fill="#3a4fb0"/>
<circle cx="647.0" cy="56.3" r="3.10" fill="#3a4fb0"/>
<circle cx="667.6" cy="56.3" r="0.70" fill="#3a4fb0"/>
<text x="611.2" y="69.1" font-size="8.1" text-anchor="end" fill="#1a1a1a">B cell_T</text>
<line x1="612.8" y1="66.3" x2="614.8" y2="66.3" stroke="#111" stroke-width="0.8"/>
<circle cx="626.2" cy="66.3" r="0.75" fill="#5b6bbf"/>
<circle cx="647.0" cy="66.3" r="1.00" fill="#3a4fb0"/>
<circle cx="667.6" cy="66.3" r="0.65" fill="#3a4fb0"/>
<text x="611.2" y="79.1" font-size="8.1" text-anchor="end" fill="#1a1a1a">B cell_N</text>
<line x1="612.8" y1="76.3" x2="614.8" y2="76.3" stroke="#111" stroke-width="0.8"/>
<circle cx="626.2" cy="76.3" r="0.65" fill="#c4c4c4"/>
<circle cx="647.0" cy="76.3" r="0.90" fill="#c4c4c4"/>
<circle cx="667.6" cy="76.3" r="0.50" fill="#c4c4c4"/>
<text x="611.2" y="89.0" font-size="8.1" text-anchor="end" fill="#1a1a1a">Endocrine cell_T</text>
<line x1="612.8" y1="86.2" x2="614.8" y2="86.2" stroke="#111" stroke-width="0.8"/>
<circle cx="626.2" cy="86.2" r="1.25" fill="#5b6bbf"/>
<circle cx="647.0" cy="86.2" r="1.75" fill="#3a4fb0"/>
<circle cx="667.6" cy="86.2" r="0.65" fill="#3a4fb0"/>
<text x="611.2" y="99.0" font-size="8.1" text-anchor="end" fill="#1a1a1a">Endocrine cell_N</text>
<line x1="612.8" y1="96.2" x2="614.8" y2="96.2" stroke="#111" stroke-width="0.8"/>
<circle cx="626.2" cy="96.2" r="1.15" fill="#c4c4c4"/>
<circle cx="647.0" cy="96.2" r="3.15" fill="#c4c4c4"/>
<circle cx="667.6" cy="96.2" r="0.55" fill="#c4c4c4"/>
<text x="611.2" y="109.0" font-size="8.1" text-anchor="end" fill="#1a1a1a">T cell_T</text>
<line x1="612.8" y1="106.2" x2="614.8" y2="106.2" stroke="#111" stroke-width="0.8"/>
<circle cx="626.2" cy="106.2" r="1.50" fill="#3a4fb0"/>
<circle cx="647.0" cy="106.2" r="1.25" fill="#3a4fb0"/>
<circle cx="667.6" cy="106.2" r="0.65" fill="#3a4fb0"/>
<text x="611.2" y="119.0" font-size="8.1" text-anchor="end" fill="#1a1a1a">T cell_N</text>
<line x1="612.8" y1="116.2" x2="614.8" y2="116.2" stroke="#111" stroke-width="0.8"/>
<circle cx="626.2" cy="116.2" r="1.65" fill="#c4c4c4"/>
<circle cx="647.0" cy="116.2" r="1.15" fill="#c4c4c4"/>
<circle cx="667.6" cy="116.2" r="0.50" fill="#c4c4c4"/>
<text x="611.2" y="129.0" font-size="8.1" text-anchor="end" fill="#1a1a1a">Macrophage cell_T</text>
<line x1="612.8" y1="126.2" x2="614.8" y2="126.2" stroke="#111" stroke-width="0.8"/>
<circle cx="626.2" cy="126.2" r="1.00" fill="#5b6bbf"/>
<circle cx="647.0" cy="126.2" r="1.70" fill="#3a4fb0"/>
<circle cx="667.6" cy="126.2" r="0.65" fill="#3a4fb0"/>
<text x="611.2" y="138.9" font-size="8.1" text-anchor="end" fill="#1a1a1a">Macrophage cell_N</text>
<line x1="612.8" y1="136.1" x2="614.8" y2="136.1" stroke="#111" stroke-width="0.8"/>
<circle cx="626.2" cy="136.1" r="1.15" fill="#c4c4c4"/>
<circle cx="647.0" cy="136.1" r="1.40" fill="#c4c4c4"/>
<circle cx="667.6" cy="136.1" r="0.50" fill="#c4c4c4"/>
<text x="611.2" y="148.9" font-size="8.1" text-anchor="end" fill="#1a1a1a">Acinar cell_T</text>
<line x1="612.8" y1="146.1" x2="614.8" y2="146.1" stroke="#111" stroke-width="0.8"/>
<circle cx="626.2" cy="146.1" r="2.20" fill="#5b6bbf"/>
<circle cx="647.0" cy="146.1" r="3.00" fill="#5b6bbf"/>
<circle cx="667.6" cy="146.1" r="0.70" fill="#3a4fb0"/>
<text x="611.2" y="158.9" font-size="8.1" text-anchor="end" fill="#1a1a1a">Acinar cell_N</text>
<line x1="612.8" y1="156.1" x2="614.8" y2="156.1" stroke="#111" stroke-width="0.8"/>
<circle cx="626.2" cy="156.1" r="0.90" fill="#c4c4c4"/>
<circle cx="647.0" cy="156.1" r="1.05" fill="#c4c4c4"/>
<circle cx="667.6" cy="156.1" r="0.50" fill="#c4c4c4"/>
<text x="611.2" y="168.9" font-size="8.1" text-anchor="end" fill="#1a1a1a">Fibroblast cell_T</text>
<line x1="612.8" y1="166.1" x2="614.8" y2="166.1" stroke="#111" stroke-width="0.8"/>
<circle cx="626.2" cy="166.1" r="1.35" fill="#5b6bbf"/>
<circle cx="647.0" cy="166.1" r="2.00" fill="#3a4fb0"/>
<circle cx="667.6" cy="166.1" r="0.65" fill="#3a4fb0"/>
<text x="611.2" y="178.9" font-size="8.1" text-anchor="end" fill="#1a1a1a">Fibroblast cell_N</text>
<line x1="612.8" y1="176.1" x2="614.8" y2="176.1" stroke="#111" stroke-width="0.8"/>
<circle cx="626.2" cy="176.1" r="0.90" fill="#c4c4c4"/>
<circle cx="647.0" cy="176.1" r="1.05" fill="#c4c4c4"/>
<circle cx="667.6" cy="176.1" r="0.50" fill="#c4c4c4"/>
<text x="611.2" y="188.8" font-size="8.1" text-anchor="end" fill="#1a1a1a">Stellate cell_T</text>
<line x1="612.8" y1="186.0" x2="614.8" y2="186.0" stroke="#111" stroke-width="0.8"/>
<circle cx="626.2" cy="186.0" r="1.10" fill="#5b6bbf"/>
<circle cx="647.0" cy="186.0" r="1.25" fill="#3a4fb0"/>
<circle cx="667.6" cy="186.0" r="0.65" fill="#3a4fb0"/>
<text x="611.2" y="198.8" font-size="8.1" text-anchor="end" fill="#1a1a1a">Stellate cell_N</text>
<line x1="612.8" y1="196.0" x2="614.8" y2="196.0" stroke="#111" stroke-width="0.8"/>
<circle cx="626.2" cy="196.0" r="0.90" fill="#c4c4c4"/>
<circle cx="647.0" cy="196.0" r="0.90" fill="#c4c4c4"/>
<circle cx="667.6" cy="196.0" r="0.50" fill="#c4c4c4"/>
<text x="611.2" y="208.8" font-size="8.1" text-anchor="end" fill="#1a1a1a">Endothelial cell_T</text>
<line x1="612.8" y1="206.0" x2="614.8" y2="206.0" stroke="#111" stroke-width="0.8"/>
<circle cx="626.2" cy="206.0" r="2.20" fill="#3a4fb0"/>
<circle cx="647.0" cy="206.0" r="1.70" fill="#3a4fb0"/>
<circle cx="667.6" cy="206.0" r="0.70" fill="#3a4fb0"/>
<text x="611.2" y="218.8" font-size="8.1" text-anchor="end" fill="#1a1a1a">Endothelial cell_N</text>
<line x1="612.8" y1="216.0" x2="614.8" y2="216.0" stroke="#111" stroke-width="0.8"/>
<circle cx="626.2" cy="216.0" r="1.15" fill="#c4c4c4"/>
<circle cx="647.0" cy="216.0" r="1.05" fill="#c4c4c4"/>
<circle cx="667.6" cy="216.0" r="0.50" fill="#c4c4c4"/>
<text x="611.2" y="228.8" font-size="8.1" text-anchor="end" fill="#1a1a1a">Ductal cell type 1_T</text>
<line x1="612.8" y1="226.0" x2="614.8" y2="226.0" stroke="#111" stroke-width="0.8"/>
<circle cx="626.2" cy="226.0" r="1.50" fill="#3a4fb0"/>
<circle cx="647.0" cy="226.0" r="2.50" fill="#3a4fb0"/>
<circle cx="667.6" cy="226.0" r="0.65" fill="#3a4fb0"/>
<text x="611.2" y="238.7" font-size="8.1" text-anchor="end" fill="#1a1a1a">Ductal cell type 1_N</text>
<line x1="612.8" y1="235.9" x2="614.8" y2="235.9" stroke="#111" stroke-width="0.8"/>
<circle cx="626.2" cy="235.9" r="1.15" fill="#c4c4c4"/>
<circle cx="647.0" cy="235.9" r="1.75" fill="#c4c4c4"/>
<circle cx="667.6" cy="235.9" r="0.50" fill="#c4c4c4"/>
<line x1="626.2" y1="241.2" x2="626.2" y2="243.2" stroke="#111" stroke-width="0.8"/>
<text x="626.1" y="253.5" font-size="7.9" text-anchor="middle" fill="#1a1a1a" font-style="italic">STN1</text>
<line x1="647.0" y1="241.2" x2="647.0" y2="243.2" stroke="#111" stroke-width="0.8"/>
<text x="647.8" y="253.5" font-size="7.9" text-anchor="middle" fill="#1a1a1a" font-style="italic">TEN1</text>
<line x1="667.6" y1="241.2" x2="667.6" y2="243.2" stroke="#111" stroke-width="0.8"/>
<text x="670.4" y="253.5" font-size="7.9" text-anchor="middle" fill="#1a1a1a" font-style="italic">CTC1</text>
<text x="646.8" y="266.0" font-size="8.0" text-anchor="middle" fill="#1a1a1a">Features</text>
<text x="533.0" y="151.0" font-size="7.5" text-anchor="middle" fill="#1a1a1a" transform="rotate(-90 533.0 151.0)">Split Identity</text>
<text x="2.0" y="246.0" font-size="17" text-anchor="start" fill="#000" font-weight="bold">d</text>
<line x1="47.4" y1="272.5" x2="47.4" y2="288.2" stroke="#222" stroke-width="1.1"/>
<line x1="47.4" y1="296.3" x2="47.4" y2="329.2" stroke="#222" stroke-width="1.1"/>
<line x1="47.4" y1="337.8" x2="47.4" y2="371.0" stroke="#222" stroke-width="1.1"/>
<line x1="41.9" y1="272.5" x2="47.4" y2="272.5" stroke="#222" stroke-width="1.0"/>
<text x="40.9" y="275.3" font-size="8" text-anchor="end" fill="#1a1a1a">2000</text>
<line x1="41.9" y1="280.4" x2="47.4" y2="280.4" stroke="#222" stroke-width="1.0"/>
<text x="40.9" y="283.2" font-size="8" text-anchor="end" fill="#1a1a1a">1000</text>
<line x1="41.9" y1="296.3" x2="47.4" y2="296.3" stroke="#222" stroke-width="1.0"/>
<text x="40.9" y="299.1" font-size="8" text-anchor="end" fill="#1a1a1a">20</text>
<line x1="41.9" y1="313.1" x2="47.4" y2="313.1" stroke="#222" stroke-width="1.0"/>
<text x="40.9" y="315.9" font-size="8" text-anchor="end" fill="#1a1a1a">10</text>
<line x1="41.9" y1="337.8" x2="47.4" y2="337.8" stroke="#222" stroke-width="1.0"/>
<text x="40.9" y="340.6" font-size="8" text-anchor="end" fill="#1a1a1a">0.30</text>
<line x1="41.9" y1="354.4" x2="47.4" y2="354.4" stroke="#222" stroke-width="1.0"/>
<text x="40.9" y="357.2" font-size="8" text-anchor="end" fill="#1a1a1a">0.15</text>
<line x1="41.9" y1="371.0" x2="47.4" y2="371.0" stroke="#222" stroke-width="1.0"/>
<text x="40.9" y="373.8" font-size="8" text-anchor="end" fill="#1a1a1a">0.00</text>
<line x1="44.9" y1="288.2" x2="49.9" y2="288.2" stroke="#222" stroke-width="1.0"/>
<line x1="44.9" y1="329.2" x2="49.9" y2="329.2" stroke="#222" stroke-width="1.0"/>
<line x1="44.9" y1="337.8" x2="49.9" y2="337.8" stroke="#222" stroke-width="1.0"/>
<line x1="47.4" y1="371.0" x2="113.9" y2="371.0" stroke="#555" stroke-width="1.1"/>
<text x="65.7" y="383.0" font-size="8" text-anchor="middle" fill="#1a1a1a">NAT</text>
<text x="95.5" y="383.0" font-size="8" text-anchor="middle" fill="#1a1a1a">T</text>
<text x="11.8" y="327.6" font-size="8.2" text-anchor="middle" fill="#1a1a1a" transform="rotate(-90 11.8 327.6)">Relative <tspan font-style="italic">STN1</tspan> mRNA level</text>
<text x="81.6" y="261.8" font-size="8.0" text-anchor="middle" fill="#1a1a1a">P = 0.043</text>
<path d="M66,273.5 L66,264.3 L95.2,264.3 L95.2,269.5" fill="none" stroke="#222" stroke-width="0.9"/>
<circle cx="66.0" cy="280.5" r="1.10" fill="#2e6fbf"/>
<circle cx="66.0" cy="287.5" r="1.10" fill="#2e6fbf"/>
<circle cx="64.5" cy="287.5" r="1.10" fill="#2e6fbf"/>
<circle cx="67.5" cy="287.5" r="1.10" fill="#2e6fbf"/>
<circle cx="66.0" cy="296.8" r="1.10" fill="#2e6fbf"/>
<circle cx="66.0" cy="312.5" r="1.10" fill="#2e6fbf"/>
<circle cx="65.0" cy="316.0" r="1.10" fill="#2e6fbf"/>
<circle cx="66.5" cy="317.0" r="1.10" fill="#2e6fbf"/>
<circle cx="64.5" cy="318.5" r="1.10" fill="#2e6fbf"/>
<circle cx="67.0" cy="319.5" r="1.10" fill="#2e6fbf"/>
<circle cx="65.5" cy="320.5" r="1.10" fill="#2e6fbf"/>
<circle cx="66.5" cy="321.5" r="1.10" fill="#2e6fbf"/>
<circle cx="64.0" cy="323.0" r="1.10" fill="#2e6fbf"/>
<circle cx="68.0" cy="323.0" r="1.10" fill="#2e6fbf"/>
<circle cx="63.0" cy="325.0" r="1.10" fill="#2e6fbf"/>
<circle cx="69.0" cy="325.0" r="1.10" fill="#2e6fbf"/>
<circle cx="65.0" cy="326.0" r="1.10" fill="#2e6fbf"/>
<circle cx="67.0" cy="326.0" r="1.10" fill="#2e6fbf"/>
<circle cx="62.0" cy="327.5" r="1.10" fill="#2e6fbf"/>
<circle cx="64.0" cy="327.5" r="1.10" fill="#2e6fbf"/>
<circle cx="66.0" cy="327.5" r="1.10" fill="#2e6fbf"/>
<circle cx="68.0" cy="327.5" r="1.10" fill="#2e6fbf"/>
<circle cx="70.0" cy="327.5" r="1.10" fill="#2e6fbf"/>
<circle cx="72.0" cy="328.5" r="1.10" fill="#2e6fbf"/>
<circle cx="60.0" cy="328.5" r="1.10" fill="#2e6fbf"/>
<circle cx="66.0" cy="341.7" r="1.10" fill="#2e6fbf"/>
<circle cx="66.0" cy="354.7" r="1.10" fill="#2e6fbf"/>
<circle cx="65.0" cy="361.0" r="1.10" fill="#2e6fbf"/>
<circle cx="67.0" cy="362.0" r="1.10" fill="#2e6fbf"/>
<circle cx="66.0" cy="363.5" r="1.10" fill="#2e6fbf"/>
<circle cx="64.0" cy="365.0" r="1.10" fill="#2e6fbf"/>
<circle cx="68.0" cy="365.5" r="1.10" fill="#2e6fbf"/>
<circle cx="62.0" cy="369.5" r="1.10" fill="#2e6fbf"/>
<circle cx="64.0" cy="369.5" r="1.10" fill="#2e6fbf"/>
<circle cx="66.0" cy="369.5" r="1.10" fill="#2e6fbf"/>
<circle cx="68.0" cy="369.5" r="1.10" fill="#2e6fbf"/>
<circle cx="70.0" cy="369.5" r="1.10" fill="#2e6fbf"/>
<circle cx="72.0" cy="369.5" r="1.10" fill="#2e6fbf"/>
<circle cx="60.0" cy="369.5" r="1.10" fill="#2e6fbf"/>
<circle cx="74.0" cy="369.5" r="1.10" fill="#2e6fbf"/>
<circle cx="57.5" cy="370.0" r="1.10" fill="#2e6fbf"/>
<circle cx="94.5" cy="276.5" r="1.05" fill="#e4572e"/>
<circle cx="96.0" cy="276.5" r="1.05" fill="#e4572e"/>
<circle cx="95.0" cy="279.0" r="1.05" fill="#e4572e"/>
<circle cx="95.2" cy="282.0" r="1.05" fill="#e4572e"/>
<circle cx="86.0" cy="287.0" r="1.05" fill="#e4572e"/>
<circle cx="88.0" cy="288.0" r="1.05" fill="#e4572e"/>
<circle cx="90.0" cy="287.5" r="1.05" fill="#e4572e"/>
<circle cx="92.0" cy="288.0" r="1.05" fill="#e4572e"/>
<circle cx="94.0" cy="288.5" r="1.05" fill="#e4572e"/>
<circle cx="96.0" cy="288.0" r="1.05" fill="#e4572e"/>
<circle cx="98.0" cy="288.5" r="1.05" fill="#e4572e"/>
<circle cx="100.0" cy="287.5" r="1.05" fill="#e4572e"/>
<circle cx="102.0" cy="288.0" r="1.05" fill="#e4572e"/>
<circle cx="103.5" cy="287.0" r="1.05" fill="#e4572e"/>
<circle cx="94.5" cy="297.0" r="1.05" fill="#e4572e"/>
<circle cx="94.8" cy="305.5" r="1.05" fill="#e4572e"/>
<circle cx="94.6" cy="308.5" r="1.05" fill="#e4572e"/>
<circle cx="93.0" cy="313.0" r="1.05" fill="#e4572e"/>
<circle cx="95.5" cy="313.0" r="1.05" fill="#e4572e"/>
<circle cx="92.0" cy="316.0" r="1.05" fill="#e4572e"/>
<circle cx="94.0" cy="316.0" r="1.05" fill="#e4572e"/>
<circle cx="96.0" cy="315.5" r="1.05" fill="#e4572e"/>
<circle cx="98.0" cy="316.5" r="1.05" fill="#e4572e"/>
<circle cx="91.0" cy="319.5" r="1.05" fill="#e4572e"/>
<circle cx="93.0" cy="320.0" r="1.05" fill="#e4572e"/>
<circle cx="96.0" cy="320.0" r="1.05" fill="#e4572e"/>
<circle cx="98.5" cy="320.0" r="1.05" fill="#e4572e"/>
<circle cx="89.0" cy="322.0" r="1.05" fill="#e4572e"/>
<circle cx="92.0" cy="322.5" r="1.05" fill="#e4572e"/>
<circle cx="95.0" cy="322.0" r="1.05" fill="#e4572e"/>
<circle cx="99.0" cy="322.5" r="1.05" fill="#e4572e"/>
<circle cx="101.0" cy="322.0" r="1.05" fill="#e4572e"/>
<circle cx="87.0" cy="325.5" r="1.05" fill="#e4572e"/>
<circle cx="90.0" cy="326.0" r="1.05" fill="#e4572e"/>
<circle cx="93.0" cy="326.5" r="1.05" fill="#e4572e"/>
<circle cx="96.0" cy="326.5" r="1.05" fill="#e4572e"/>
<circle cx="99.0" cy="326.0" r="1.05" fill="#e4572e"/>
<circle cx="102.0" cy="325.5" r="1.05" fill="#e4572e"/>
<circle cx="88.0" cy="328.0" r="1.05" fill="#e4572e"/>
<circle cx="91.0" cy="328.5" r="1.05" fill="#e4572e"/>
<circle cx="94.0" cy="328.5" r="1.05" fill="#e4572e"/>
<circle cx="97.0" cy="328.0" r="1.05" fill="#e4572e"/>
<circle cx="100.0" cy="328.5" r="1.05" fill="#e4572e"/>
<circle cx="94.5" cy="346.0" r="1.05" fill="#e4572e"/>
<circle cx="95.5" cy="348.5" r="1.05" fill="#e4572e"/>
<circle cx="91.0" cy="356.0" r="1.05" fill="#e4572e"/>
<circle cx="93.5" cy="357.0" r="1.05" fill="#e4572e"/>
<circle cx="97.0" cy="356.5" r="1.05" fill="#e4572e"/>
<circle cx="99.5" cy="355.5" r="1.05" fill="#e4572e"/>
<circle cx="92.0" cy="359.5" r="1.05" fill="#e4572e"/>
<circle cx="95.0" cy="360.0" r="1.05" fill="#e4572e"/>
<circle cx="98.0" cy="359.0" r="1.05" fill="#e4572e"/>
<circle cx="90.0" cy="362.0" r="1.05" fill="#e4572e"/>
<circle cx="94.0" cy="363.0" r="1.05" fill="#e4572e"/>
<circle cx="96.0" cy="363.5" r="1.05" fill="#e4572e"/>
<circle cx="92.0" cy="365.5" r="1.05" fill="#e4572e"/>
<circle cx="95.0" cy="366.0" r="1.05" fill="#e4572e"/>
<circle cx="98.5" cy="366.0" r="1.05" fill="#e4572e"/>
<circle cx="91.0" cy="368.5" r="1.05" fill="#e4572e"/>
<circle cx="94.0" cy="369.0" r="1.05" fill="#e4572e"/>
<circle cx="97.0" cy="369.5" r="1.05" fill="#e4572e"/>
<line x1="57.0" y1="329.2" x2="75.7" y2="329.2" stroke="#222" stroke-width="1.1"/>
<line x1="85.3" y1="324.0" x2="104.2" y2="324.0" stroke="#222" stroke-width="1.1"/>
<text x="120.5" y="246.0" font-size="17" text-anchor="start" fill="#000" font-weight="bold">e</text>
<text x="141.4" y="303.5" font-size="8.1" text-anchor="middle" fill="#1a1a1a">MW(kDa)</text>
<text x="171.4" y="307.6" font-size="8.1" text-anchor="start" fill="#1a1a1a" transform="rotate(-45 171.4 307.6)">HPNE</text>
<text x="190.1" y="307.6" font-size="8.1" text-anchor="start" fill="#1a1a1a" transform="rotate(-45 190.1 307.6)">MIA PaCa-2</text>
<text x="207.1" y="307.6" font-size="8.1" text-anchor="start" fill="#1a1a1a" transform="rotate(-45 207.1 307.6)">BxPC-3</text>
<text x="224.8" y="307.6" font-size="8.1" text-anchor="start" fill="#1a1a1a" transform="rotate(-45 224.8 307.6)">PANC-1</text>
<text x="242.9" y="307.6" font-size="8.1" text-anchor="start" fill="#1a1a1a" transform="rotate(-45 242.9 307.6)">AsPC-1</text>
<defs><linearGradient id="bl1" x1="0" y1="0" x2="0" y2="1"><stop offset="0" stop-color="#a9a9a9"/><stop offset="1" stop-color="#b4b4b4"/></linearGradient><filter id="blur1" x="-20%" y="-50%" width="140%" height="200%"><feGaussianBlur stdDeviation="1.1"/></filter></defs>
<rect x="150.5" y="307.6" width="112.9" height="13.7" fill="#adadad" stroke="#222" stroke-width="0.9"/>
<line x1="151.0" y1="308.6" x2="263.0" y2="308.6" stroke="#8a8a8a" stroke-width="0.8"/>
<ellipse cx="170.8" cy="315.3" rx="5.5" ry="0.9" fill="#999" filter="url(#blur1)"/>
<ellipse cx="190.7" cy="315.3" rx="7.0" ry="1.4" fill="#1e1e1e" filter="url(#blur1)"/>
<ellipse cx="206.8" cy="315.3" rx="5.5" ry="1.1" fill="#555" filter="url(#blur1)"/>
<ellipse cx="224.2" cy="315.3" rx="7.0" ry="1.5" fill="#1c1c1c" filter="url(#blur1)"/>
<ellipse cx="242.8" cy="315.3" rx="6.5" ry="1.3" fill="#333" filter="url(#blur1)"/>
<line x1="146.5" y1="314.8" x2="150.5" y2="314.8" stroke="#222" stroke-width="0.8"/>
<text x="146.0" y="317.6" font-size="7.8" text-anchor="end" fill="#1a1a1a">40</text>
<line x1="263.4" y1="314.8" x2="265.5" y2="314.8" stroke="#222" stroke-width="0.8"/>
<text x="265.5" y="317.6" font-size="7.8" text-anchor="start" fill="#1a1a1a">STN1</text>
<text x="143.5" y="331.3" font-size="8.1" text-anchor="start" fill="#1a1a1a">ratio</text>
<text x="169.0" y="331.3" font-size="8.1" text-anchor="middle" fill="#1a1a1a">1.00</text>
<text x="187.8" y="331.3" font-size="8.1" text-anchor="middle" fill="#1a1a1a">3.62</text>
<text x="206.2" y="331.3" font-size="8.1" text-anchor="middle" fill="#1a1a1a">1.98</text>
<text x="224.9" y="331.3" font-size="8.1" text-anchor="middle" fill="#1a1a1a">3.48</text>
<text x="244.0" y="331.3" font-size="8.1" text-anchor="middle" fill="#1a1a1a">2.39</text>
<rect x="150.5" y="335.9" width="112.9" height="14.4" fill="#ababab" stroke="#222" stroke-width="0.9"/>
<g filter="url(#blur1)">
<ellipse cx="167.5" cy="344.3" rx="10.6" ry="3.9" fill="#0e0e0e"/>
<ellipse cx="187.5" cy="344.3" rx="10.6" ry="3.9" fill="#0e0e0e"/>
<ellipse cx="206.5" cy="344.3" rx="10.6" ry="3.9" fill="#0e0e0e"/>
<ellipse cx="224.5" cy="344.3" rx="10.6" ry="3.9" fill="#0e0e0e"/>
<ellipse cx="243" cy="344.3" rx="10.6" ry="3.9" fill="#0e0e0e"/>
<path d="M250,342 L259,343.8 L259,345 L250,347 Z" fill="#222"/>
</g>
<line x1="146.5" y1="344.6" x2="150.5" y2="344.6" stroke="#222" stroke-width="0.8"/>
<text x="146.0" y="347.4" font-size="7.8" text-anchor="end" fill="#1a1a1a">35</text>
<line x1="263.4" y1="344.6" x2="265.5" y2="344.6" stroke="#222" stroke-width="0.8"/>
<text x="265.5" y="347.4" font-size="7.8" text-anchor="start" fill="#1a1a1a">GAPDH</text>
<text x="294.0" y="246.0" font-size="17" text-anchor="start" fill="#000" font-weight="bold">f</text>
<text x="304.0" y="295.5" font-size="7.5" text-anchor="middle" fill="#1a1a1a">NAT</text>
<text x="305.2" y="366.5" font-size="7.5" text-anchor="middle" fill="#1a1a1a">T</text>
<defs><filter id="sb" x="-20%" y="-20%" width="140%" height="140%"><feGaussianBlur stdDeviation="1.3"/></filter><filter id="sb2" x="-20%" y="-20%" width="140%" height="140%"><feGaussianBlur stdDeviation="0.7"/></filter></defs>
<clipPath id="cp1"><rect x="317" y="250.3" width="132" height="75"/></clipPath><g clip-path="url(#cp1)">
<rect x="317.0" y="250.3" width="132.0" height="75.0" fill="#d8aab6" stroke="none" stroke-width="1"/>
<filter id="nf2" x="317" y="250.3" width="132" height="75" filterUnits="userSpaceOnUse"><feTurbulence type="fractalNoise" baseFrequency="0.03" numOctaves="2" seed="3" result="n"/><feColorMatrix in="n" type="matrix" values="0 0 0 0 0  0 0 0 0 0  0 0 0 0 0  0 0 0 2.40 -0.96" result="a"/><feFlood flood-color="#b498c0"/><feComposite in2="a" operator="in"/></filter>
<rect x="317" y="250.3" width="132" height="75" filter="url(#nf2)"/>
<filter id="nf3" x="317" y="250.3" width="132" height="75" filterUnits="userSpaceOnUse"><feTurbulence type="fractalNoise" baseFrequency="0.045" numOctaves="2" seed="9" result="n"/><feColorMatrix in="n" type="matrix" values="0 0 0 0 0  0 0 0 0 0  0 0 0 0 0  0 0 0 2.00 -0.80" result="a"/><feFlood flood-color="#e0b4bc"/><feComposite in2="a" operator="in"/></filter>
<rect x="317" y="250.3" width="132" height="75" filter="url(#nf3)"/>
<g filter="url(#sb)" opacity="0.85">
<path d="M317,300 Q330,320 340,327 L317,327 Z" fill="#e2bcc4" stroke="none" stroke-width="1"/>
<path d="M317,296 L328,282 L336,271 L346,261 L352,252" fill="none" stroke="#eedadf" stroke-width="3.2"/>
<path d="M322,327 Q332,300 345,290" fill="none" stroke="#e4c2ca" stroke-width="5"/>
<path d="M365,327 Q385,310 405,300 Q425,292 449,275" fill="none" stroke="#e2bec6" stroke-width="8"/>
<path d="M395,327 Q410,312 430,300" fill="none" stroke="#ead2d8" stroke-width="2.5"/>
<path d="M400,280 Q420,270 440,268" fill="none" stroke="#dfbcc4" stroke-width="6"/>
<path d="M446,252 Q444,280 447,310 L449,327" fill="none" stroke="#efdfe3" stroke-width="2.5"/>
<path d="M317,270 Q322,275 321,282" fill="none" stroke="#b8bce0" stroke-width="4"/>
</g>
<filter id="sf4" x="317" y="250.3" width="132" height="75" filterUnits="userSpaceOnUse"><feTurbulence type="fractalNoise" baseFrequency="0.22" numOctaves="1" seed="31" result="n"/><feColorMatrix in="n" type="matrix" values="0 0 0 0 0  0 0 0 0 0  0 0 0 0 0  4 0 0 0 -2.00" result="a"/><feFlood flood-color="#a08ec2"/><feComposite in2="a" operator="in"/><feGaussianBlur stdDeviation="0.7"/></filter>
<rect x="317" y="250.3" width="132" height="75" filter="url(#sf4)" opacity="0.65"/>
<filter id="sf5" x="317" y="250.3" width="132" height="75" filterUnits="userSpaceOnUse"><feTurbulence type="fractalNoise" baseFrequency="0.7" numOctaves="1" seed="4" result="n"/><feColorMatrix in="n" type="matrix" values="0 0 0 0 0  0 0 0 0 0  0 0 0 0 0  9 0 0 0 -5.40" result="a"/><feFlood flood-color="#7070b4"/><feComposite in2="a" operator="in"/><feGaussianBlur stdDeviation="0.5"/></filter>
<rect x="317" y="250.3" width="132" height="75" filter="url(#sf5)" opacity="0.75"/>
<filter id="sf6" x="317" y="250.3" width="132" height="75" filterUnits="userSpaceOnUse"><feTurbulence type="fractalNoise" baseFrequency="0.35" numOctaves="1" seed="8" result="n"/><feColorMatrix in="n" type="matrix" values="0 0 0 0 0  0 0 0 0 0  0 0 0 0 0  9 0 0 0 -6.03" result="a"/><feFlood flood-color="#6466ac"/><feComposite in2="a" operator="in"/><feGaussianBlur stdDeviation="0.4"/></filter>
<rect x="317" y="250.3" width="132" height="75" filter="url(#sf6)" opacity="0.55"/>
</g>
<rect x="317.0" y="250.3" width="132.0" height="75.0" fill="none" stroke="#111" stroke-width="1.2"/>
<rect x="347.2" y="265.5" width="50.7" height="28.7" fill="none" stroke="#111" stroke-width="1.0"/>
<line x1="318.5" y1="323.3" x2="334.8" y2="323.3" stroke="#111" stroke-width="1.2"/>
<clipPath id="cp7"><rect x="456.4" y="250" width="132.4" height="75.3"/></clipPath><g clip-path="url(#cp7)">
<rect x="456.4" y="250.0" width="132.4" height="75.3" fill="#d8abb6" stroke="none" stroke-width="1"/>
<filter id="nf8" x="456.4" y="250" width="132.4" height="75.3" filterUnits="userSpaceOnUse"><feTurbulence type="fractalNoise" baseFrequency="0.035" numOctaves="2" seed="5" result="n"/><feColorMatrix in="n" type="matrix" values="0 0 0 0 0  0 0 0 0 0  0 0 0 0 0  0 0 0 2.40 -0.96" result="a"/><feFlood flood-color="#bc9ec2"/><feComposite in2="a" operator="in"/></filter>
<rect x="456.4" y="250" width="132.4" height="75.3" filter="url(#nf8)"/>
<filter id="nf9" x="456.4" y="250" width="132.4" height="75.3" filterUnits="userSpaceOnUse"><feTurbulence type="fractalNoise" baseFrequency="0.06" numOctaves="2" seed="12" result="n"/><feColorMatrix in="n" type="matrix" values="0 0 0 0 0  0 0 0 0 0  0 0 0 0 0  0 0 0 1.80 -0.72" result="a"/><feFlood flood-color="#e4c0c6"/><feComposite in2="a" operator="in"/></filter>
<rect x="456.4" y="250" width="132.4" height="75.3" filter="url(#nf9)"/>
<filter id="sf10" x="456.4" y="250" width="132.4" height="75.3" filterUnits="userSpaceOnUse"><feTurbulence type="fractalNoise" baseFrequency="0.12" numOctaves="1" seed="14" result="n"/><feColorMatrix in="n" type="matrix" values="0 0 0 0 0  0 0 0 0 0  0 0 0 0 0  5 0 0 0 -3.00" result="a"/><feFlood flood-color="#c0a4c8"/><feComposite in2="a" operator="in"/><feGaussianBlur stdDeviation="0.6"/></filter>
<rect x="456.4" y="250" width="132.4" height="75.3" filter="url(#sf10)" opacity="0.8"/>
<filter id="sf11" x="456.4" y="250" width="132.4" height="75.3" filterUnits="userSpaceOnUse"><feTurbulence type="fractalNoise" baseFrequency="0.6" numOctaves="1" seed="15" result="n"/><feColorMatrix in="n" type="matrix" values="0 0 0 0 0  0 0 0 0 0  0 0 0 0 0  8 0 0 0 -4.96" result="a"/><feFlood flood-color="#a890c0"/><feComposite in2="a" operator="in"/><feGaussianBlur stdDeviation="0.5"/></filter>
<rect x="456.4" y="250" width="132.4" height="75.3" filter="url(#sf11)" opacity="0.5"/>
<filter id="vf12" x="456.4" y="250" width="132.4" height="75.3" filterUnits="userSpaceOnUse"><feTurbulence type="turbulence" baseFrequency="0.07" numOctaves="1" seed="25" result="n"/><feColorMatrix in="n" type="matrix" values="0 0 0 0 0  0 0 0 0 0  0 0 0 0 0  -10 0 0 0 1.0" result="a"/><feFlood flood-color="#a088bc"/><feComposite in2="a" operator="in"/><feGaussianBlur stdDeviation="0.6"/></filter>
<rect x="456.4" y="250" width="132.4" height="75.3" filter="url(#vf12)" opacity="0.4"/>
<path d="M477.2,301.9a1.1,1.1 0 1,0 2.2,0a1.1,1.1 0 1,0 -2.2,0M518.7,266.3a1.2,1.2 0 1,0 2.3,0a1.2,1.2 0 1,0 -2.3,0M562.3,288.6a1.0,1.0 0 1,0 2.1,0a1.0,1.0 0 1,0 -2.1,0M486.7,250.2a1.0,1.0 0 1,0 1.9,0a1.0,1.0 0 1,0 -1.9,0M532.7,255.2a1.2,1.2 0 1,0 2.3,0a1.2,1.2 0 1,0 -2.3,0M486.3,267.5a0.8,0.8 0 1,0 1.6,0a0.8,0.8 0 1,0 -1.6,0M587.3,305.6a1.2,1.2 0 1,0 2.4,0a1.2,1.2 0 1,0 -2.4,0M537.0,252.6a0.9,0.9 0 1,0 1.9,0a0.9,0.9 0 1,0 -1.9,0M521.0,258.7a1.2,1.2 0 1,0 2.5,0a1.2,1.2 0 1,0 -2.5,0M504.0,261.7a1.2,1.2 0 1,0 2.3,0a1.2,1.2 0 1,0 -2.3,0M471.9,319.9a1.0,1.0 0 1,0 2.0,0a1.0,1.0 0 1,0 -2.0,0M528.5,275.8a1.0,1.0 0 1,0 2.0,0a1.0,1.0 0 1,0 -2.0,0M480.0,252.8a1.2,1.2 0 1,0 2.4,0a1.2,1.2 0 1,0 -2.4,0M486.6,308.8a0.9,0.9 0 1,0 1.8,0a0.9,0.9 0 1,0 -1.8,0M583.5,317.3a1.1,1.1 0 1,0 2.3,0a1.1,1.1 0 1,0 -2.3,0M556.3,293.7a1.1,1.1 0 1,0 2.3,0a1.1,1.1 0 1,0 -2.3,0M471.4,285.9a1.2,1.2 0 1,0 2.3,0a1.2,1.2 0 1,0 -2.3,0M481.8,319.5a1.2,1.2 0 1,0 2.4,0a1.2,1.2 0 1,0 -2.4,0M509.6,277.5a1.0,1.0 0 1,0 2.0,0a1.0,1.0 0 1,0 -2.0,0M506.5,324.9a1.0,1.0 0 1,0 1.9,0a1.0,1.0 0 1,0 -1.9,0M458.8,257.0a1.1,1.1 0 1,0 2.2,0a1.1,1.1 0 1,0 -2.2,0M586.8,287.3a1.0,1.0 0 1,0 2.0,0a1.0,1.0 0 1,0 -2.0,0M528.4,306.3a0.9,0.9 0 1,0 1.8,0a0.9,0.9 0 1,0 -1.8,0M535.9,291.9a1.1,1.1 0 1,0 2.2,0a1.1,1.1 0 1,0 -2.2,0M479.4,262.8a1.0,1.0 0 1,0 1.9,0a1.0,1.0 0 1,0 -1.9,0M578.1,276.1a1.1,1.1 0 1,0 2.1,0a1.1,1.1 0 1,0 -2.1,0M496.2,257.8a0.8,0.8 0 1,0 1.7,0a0.8,0.8 0 1,0 -1.7,0M563.2,308.5a1.0,1.0 0 1,0 1.9,0a1.0,1.0 0 1,0 -1.9,0M545.7,300.9a1.2,1.2 0 1,0 2.4,0a1.2,1.2 0 1,0 -2.4,0M582.0,280.6a1.2,1.2 0 1,0 2.5,0a1.2,1.2 0 1,0 -2.5,0M582.5,294.5a1.2,1.2 0 1,0 2.4,0a1.2,1.2 0 1,0 -2.4,0M520.5,278.3a0.9,0.9 0 1,0 1.8,0a0.9,0.9 0 1,0 -1.8,0M571.6,262.2a0.8,0.8 0 1,0 1.7,0a0.8,0.8 0 1,0 -1.7,0M562.0,308.3a1.0,1.0 0 1,0 2.0,0a1.0,1.0 0 1,0 -2.0,0M566.3,253.9a0.9,0.9 0 1,0 1.8,0a0.9,0.9 0 1,0 -1.8,0M493.9,281.6a0.9,0.9 0 1,0 1.8,0a0.9,0.9 0 1,0 -1.8,0M464.4,275.5a1.2,1.2 0 1,0 2.4,0a1.2,1.2 0 1,0 -2.4,0M585.6,306.2a1.0,1.0 0 1,0 2.0,0a1.0,1.0 0 1,0 -2.0,0M488.8,322.2a1.0,1.0 0 1,0 2.1,0a1.0,1.0 0 1,0 -2.1,0M552.0,252.1a0.9,0.9 0 1,0 1.8,0a0.9,0.9 0 1,0 -1.8,0M566.2,309.9a1.2,1.2 0 1,0 2.4,0a1.2,1.2 0 1,0 -2.4,0M535.0,282.1a1.1,1.1 0 1,0 2.1,0a1.1,1.1 0 1,0 -2.1,0M567.8,273.2a1.0,1.0 0 1,0 2.1,0a1.0,1.0 0 1,0 -2.1,0M492.1,307.8a0.8,0.8 0 1,0 1.6,0a0.8,0.8 0 1,0 -1.6,0M546.3,321.8a0.8,0.8 0 1,0 1.6,0a0.8,0.8 0 1,0 -1.6,0M533.8,298.5a1.2,1.2 0 1,0 2.4,0a1.2,1.2 0 1,0 -2.4,0M532.8,269.4a1.0,1.0 0 1,0 2.0,0a1.0,1.0 0 1,0 -2.0,0M582.5,318.2a0.9,0.9 0 1,0 1.7,0a0.9,0.9 0 1,0 -1.7,0M468.1,257.1a0.8,0.8 0 1,0 1.6,0a0.8,0.8 0 1,0 -1.6,0M514.4,260.6a1.2,1.2 0 1,0 2.4,0a1.2,1.2 0 1,0 -2.4,0M542.1,259.5a1.0,1.0 0 1,0 2.1,0a1.0,1.0 0 1,0 -2.1,0M498.4,287.2a0.9,0.9 0 1,0 1.8,0a0.9,0.9 0 1,0 -1.8,0M477.4,263.9a1.0,1.0 0 1,0 1.9,0a1.0,1.0 0 1,0 -1.9,0M549.6,291.4a0.8,0.8 0 1,0 1.6,0a0.8,0.8 0 1,0 -1.6,0M549.4,315.8a1.1,1.1 0 1,0 2.3,0a1.1,1.1 0 1,0 -2.3,0M560.1,250.6a1.0,1.0 0 1,0 2.0,0a1.0,1.0 0 1,0 -2.0,0M463.9,307.5a0.9,0.9 0 1,0 1.8,0a0.9,0.9 0 1,0 -1.8,0M549.5,269.0a1.1,1.1 0 1,0 2.2,0a1.1,1.1 0 1,0 -2.2,0M496.9,253.2a1.0,1.0 0 1,0 1.9,0a1.0,1.0 0 1,0 -1.9,0M496.4,317.8a0.9,0.9 0 1,0 1.9,0a0.9,0.9 0 1,0 -1.9,0M521.8,291.4a1.2,1.2 0 1,0 2.5,0a1.2,1.2 0 1,0 -2.5,0M468.4,295.3a1.0,1.0 0 1,0 2.1,0a1.0,1.0 0 1,0 -2.1,0M552.7,322.8a0.9,0.9 0 1,0 1.9,0a0.9,0.9 0 1,0 -1.9,0M548.0,289.6a1.1,1.1 0 1,0 2.1,0a1.1,1.1 0 1,0 -2.1,0M463.6,311.3a1.2,1.2 0 1,0 2.5,0a1.2,1.2 0 1,0 -2.5,0M502.2,274.0a1.2,1.2 0 1,0 2.5,0a1.2,1.2 0 1,0 -2.5,0M469.8,255.7a0.8,0.8 0 1,0 1.7,0a0.8,0.8 0 1,0 -1.7,0M563.2,307.2a1.0,1.0 0 1,0 2.0,0a1.0,1.0 0 1,0 -2.0,0M537.6,251.5a1.1,1.1 0 1,0 2.2,0a1.1,1.1 0 1,0 -2.2,0M514.0,289.0a1.0,1.0 0 1,0 2.0,0a1.0,1.0 0 1,0 -2.0,0M508.7,267.0a0.8,0.8 0 1,0 1.6,0a0.8,0.8 0 1,0 -1.6,0M512.7,268.6a1.1,1.1 0 1,0 2.2,0a1.1,1.1 0 1,0 -2.2,0M563.6,304.5a1.0,1.0 0 1,0 2.0,0a1.0,1.0 0 1,0 -2.0,0M486.7,279.0a1.0,1.0 0 1,0 2.0,0a1.0,1.0 0 1,0 -2.0,0M539.2,322.5a0.8,0.8 0 1,0 1.7,0a0.8,0.8 0 1,0 -1.7,0M518.8,287.0a1.1,1.1 0 1,0 2.2,0a1.1,1.1 0 1,0 -2.2,0M573.2,308.7a1.1,1.1 0 1,0 2.2,0a1.1,1.1 0 1,0 -2.2,0M555.6,300.3a1.2,1.2 0 1,0 2.4,0a1.2,1.2 0 1,0 -2.4,0M548.0,301.4a0.9,0.9 0 1,0 1.8,0a0.9,0.9 0 1,0 -1.8,0M576.7,279.1a1.1,1.1 0 1,0 2.2,0a1.1,1.1 0 1,0 -2.2,0M564.4,322.6a1.2,1.2 0 1,0 2.5,0a1.2,1.2 0 1,0 -2.5,0M456.3,273.5a0.9,0.9 0 1,0 1.9,0a0.9,0.9 0 1,0 -1.9,0M507.1,261.0a1.0,1.0 0 1,0 2.1,0a1.0,1.0 0 1,0 -2.1,0M465.7,272.8a1.2,1.2 0 1,0 2.4,0a1.2,1.2 0 1,0 -2.4,0M553.8,284.8a0.8,0.8 0 1,0 1.7,0a0.8,0.8 0 1,0 -1.7,0M582.1,303.0a0.9,0.9 0 1,0 1.8,0a0.9,0.9 0 1,0 -1.8,0M499.7,298.3a1.1,1.1 0 1,0 2.2,0a1.1,1.1 0 1,0 -2.2,0M490.0,321.6a0.9,0.9 0 1,0 1.9,0a0.9,0.9 0 1,0 -1.9,0M489.2,313.7a0.9,0.9 0 1,0 1.7,0a0.9,0.9 0 1,0 -1.7,0M545.5,265.1a1.1,1.1 0 1,0 2.1,0a1.1,1.1 0 1,0 -2.1,0M491.9,278.5a1.2,1.2 0 1,0 2.4,0a1.2,1.2 0 1,0 -2.4,0M517.1,282.9a1.1,1.1 0 1,0 2.2,0a1.1,1.1 0 1,0 -2.2,0M492.6,263.1a1.0,1.0 0 1,0 1.9,0a1.0,1.0 0 1,0 -1.9,0M491.2,264.2a1.2,1.2 0 1,0 2.5,0a1.2,1.2 0 1,0 -2.5,0M459.7,311.0a1.2,1.2 0 1,0 2.4,0a1.2,1.2 0 1,0 -2.4,0M548.7,251.4a1.0,1.0 0 1,0 2.1,0a1.0,1.0 0 1,0 -2.1,0M460.5,295.8a1.1,1.1 0 1,0 2.2,0a1.1,1.1 0 1,0 -2.2,0M487.2,250.6a1.0,1.0 0 1,0 2.1,0a1.0,1.0 0 1,0 -2.1,0M467.9,273.3a1.0,1.0 0 1,0 2.0,0a1.0,1.0 0 1,0 -2.0,0M574.0,277.9a0.9,0.9 0 1,0 1.7,0a0.9,0.9 0 1,0 -1.7,0M560.2,311.9a1.0,1.0 0 1,0 2.1,0a1.0,1.0 0 1,0 -2.1,0M461.9,264.1a1.0,1.0 0 1,0 2.0,0a1.0,1.0 0 1,0 -2.0,0M528.3,267.0a1.2,1.2 0 1,0 2.3,0a1.2,1.2 0 1,0 -2.3,0M566.9,319.7a1.2,1.2 0 1,0 2.4,0a1.2,1.2 0 1,0 -2.4,0M457.9,293.8a0.8,0.8 0 1,0 1.7,0a0.8,0.8 0 1,0 -1.7,0M574.4,306.2a1.1,1.1 0 1,0 2.3,0a1.1,1.1 0 1,0 -2.3,0M480.2,254.5a1.2,1.2 0 1,0 2.3,0a1.2,1.2 0 1,0 -2.3,0M535.7,296.7a1.0,1.0 0 1,0 2.0,0a1.0,1.0 0 1,0 -2.0,0M561.4,275.5a0.9,0.9 0 1,0 1.8,0a0.9,0.9 0 1,0 -1.8,0M502.1,272.4a1.1,1.1 0 1,0 2.2,0a1.1,1.1 0 1,0 -2.2,0M573.4,255.3a0.8,0.8 0 1,0 1.7,0a0.8,0.8 0 1,0 -1.7,0M523.3,301.1a0.9,0.9 0 1,0 1.8,0a0.9,0.9 0 1,0 -1.8,0M491.3,254.4a0.8,0.8 0 1,0 1.6,0a0.8,0.8 0 1,0 -1.6,0M520.9,301.3a1.1,1.1 0 1,0 2.2,0a1.1,1.1 0 1,0 -2.2,0M476.1,257.8a1.2,1.2 0 1,0 2.4,0a1.2,1.2 0 1,0 -2.4,0M526.6,280.8a1.1,1.1 0 1,0 2.2,0a1.1,1.1 0 1,0 -2.2,0M551.9,289.5a0.8,0.8 0 1,0 1.7,0a0.8,0.8 0 1,0 -1.7,0M565.1,266.1a0.8,0.8 0 1,0 1.6,0a0.8,0.8 0 1,0 -1.6,0M502.0,290.1a1.1,1.1 0 1,0 2.2,0a1.1,1.1 0 1,0 -2.2,0M478.4,303.4a1.0,1.0 0 1,0 2.0,0a1.0,1.0 0 1,0 -2.0,0M476.7,314.1a1.2,1.2 0 1,0 2.3,0a1.2,1.2 0 1,0 -2.3,0M575.5,301.2a0.9,0.9 0 1,0 1.8,0a0.9,0.9 0 1,0 -1.8,0M558.3,318.0a1.0,1.0 0 1,0 2.1,0a1.0,1.0 0 1,0 -2.1,0M575.7,323.1a1.0,1.0 0 1,0 2.0,0a1.0,1.0 0 1,0 -2.0,0M579.9,320.5a1.2,1.2 0 1,0 2.3,0a1.2,1.2 0 1,0 -2.3,0M456.8,276.5a1.1,1.1 0 1,0 2.2,0a1.1,1.1 0 1,0 -2.2,0M535.7,306.9a1.1,1.1 0 1,0 2.2,0a1.1,1.1 0 1,0 -2.2,0M476.7,320.1a1.0,1.0 0 1,0 2.1,0a1.0,1.0 0 1,0 -2.1,0M571.9,265.6a1.2,1.2 0 1,0 2.5,0a1.2,1.2 0 1,0 -2.5,0M528.7,308.4a1.1,1.1 0 1,0 2.3,0a1.1,1.1 0 1,0 -2.3,0M572.4,277.3a0.8,0.8 0 1,0 1.7,0a0.8,0.8 0 1,0 -1.7,0M509.1,263.4a1.0,1.0 0 1,0 2.1,0a1.0,1.0 0 1,0 -2.1,0M563.4,277.3a0.9,0.9 0 1,0 1.7,0a0.9,0.9 0 1,0 -1.7,0M458.9,281.8a1.1,1.1 0 1,0 2.1,0a1.1,1.1 0 1,0 -2.1,0M459.0,300.1a0.9,0.9 0 1,0 1.8,0a0.9,0.9 0 1,0 -1.8,0M469.5,319.9a1.0,1.0 0 1,0 2.1,0a1.0,1.0 0 1,0 -2.1,0M574.1,288.7a0.9,0.9 0 1,0 1.7,0a0.9,0.9 0 1,0 -1.7,0M487.1,281.9a1.1,1.1 0 1,0 2.2,0a1.1,1.1 0 1,0 -2.2,0M557.4,306.6a1.1,1.1 0 1,0 2.2,0a1.1,1.1 0 1,0 -2.2,0M488.9,282.4a1.0,1.0 0 1,0 1.9,0a1.0,1.0 0 1,0 -1.9,0M520.2,270.0a1.0,1.0 0 1,0 2.1,0a1.0,1.0 0 1,0 -2.1,0M516.0,252.7a1.2,1.2 0 1,0 2.3,0a1.2,1.2 0 1,0 -2.3,0M532.9,310.4a1.1,1.1 0 1,0 2.3,0a1.1,1.1 0 1,0 -2.3,0M552.2,324.8a1.0,1.0 0 1,0 1.9,0a1.0,1.0 0 1,0 -1.9,0M507.4,250.3a1.1,1.1 0 1,0 2.2,0a1.1,1.1 0 1,0 -2.2,0M532.1,293.4a1.2,1.2 0 1,0 2.5,0a1.2,1.2 0 1,0 -2.5,0M481.3,267.1a1.1,1.1 0 1,0 2.3,0a1.1,1.1 0 1,0 -2.3,0M563.1,286.4a0.8,0.8 0 1,0 1.6,0a0.8,0.8 0 1,0 -1.6,0M504.4,312.2a1.0,1.0 0 1,0 2.0,0a1.0,1.0 0 1,0 -2.0,0M516.4,279.3a1.1,1.1 0 1,0 2.2,0a1.1,1.1 0 1,0 -2.2,0" fill="#4452a4" stroke="none" stroke-width="1" opacity="0.85"/>
<circle cx="512.4" cy="262.0" r="1.60" fill="#7a3a30"/>
</g>
<rect x="456.4" y="250.0" width="132.4" height="75.3" fill="none" stroke="#111" stroke-width="1.2"/>
<line x1="458.0" y1="322.3" x2="468.5" y2="322.3" stroke="#333" stroke-width="1.6"/>
<clipPath id="cp13"><rect x="317" y="327.4" width="132" height="75.6"/></clipPath><g clip-path="url(#cp13)">
<rect x="317.0" y="327.4" width="132.0" height="75.6" fill="#dca8b0" stroke="none" stroke-width="1"/>
<filter id="nf14" x="317" y="327.4" width="132" height="75.6" filterUnits="userSpaceOnUse"><feTurbulence type="fractalNoise" baseFrequency="0.06" numOctaves="2" seed="7" result="n"/><feColorMatrix in="n" type="matrix" values="0 0 0 0 0  0 0 0 0 0  0 0 0 0 0  0 0 0 2.20 -0.88" result="a"/><feFlood flood-color="#aca0cc"/><feComposite in2="a" operator="in"/></filter>
<rect x="317" y="327.4" width="132" height="75.6" filter="url(#nf14)"/>
<filter id="nf15" x="317" y="327.4" width="132" height="75.6" filterUnits="userSpaceOnUse"><feTurbulence type="fractalNoise" baseFrequency="0.05" numOctaves="2" seed="17" result="n"/><feColorMatrix in="n" type="matrix" values="0 0 0 0 0  0 0 0 0 0  0 0 0 0 0  0 0 0 1.80 -0.72" result="a"/><feFlood flood-color="#e6b8b6"/><feComposite in2="a" operator="in"/></filter>
<rect x="317" y="327.4" width="132" height="75.6" filter="url(#nf15)"/>
<filter id="sf16" x="317" y="327.4" width="132" height="75.6" filterUnits="userSpaceOnUse"><feTurbulence type="fractalNoise" baseFrequency="0.22" numOctaves="1" seed="33" result="n"/><feColorMatrix in="n" type="matrix" values="0 0 0 0 0  0 0 0 0 0  0 0 0 0 0  4 0 0 0 -2.08" result="a"/><feFlood flood-color="#9c8cc4"/><feComposite in2="a" operator="in"/><feGaussianBlur stdDeviation="0.7"/></filter>
<rect x="317" y="327.4" width="132" height="75.6" filter="url(#sf16)" opacity="0.6"/>
<filter id="sf17" x="317" y="327.4" width="132" height="75.6" filterUnits="userSpaceOnUse"><feTurbulence type="fractalNoise" baseFrequency="0.7" numOctaves="1" seed="6" result="n"/><feColorMatrix in="n" type="matrix" values="0 0 0 0 0  0 0 0 0 0  0 0 0 0 0  9 0 0 0 -5.31" result="a"/><feFlood flood-color="#5a5ea8"/><feComposite in2="a" operator="in"/><feGaussianBlur stdDeviation="0.5"/></filter>
<rect x="317" y="327.4" width="132" height="75.6" filter="url(#sf17)" opacity="0.85"/>
<filter id="sf18" x="317" y="327.4" width="132" height="75.6" filterUnits="userSpaceOnUse"><feTurbulence type="fractalNoise" baseFrequency="0.35" numOctaves="1" seed="16" result="n"/><feColorMatrix in="n" type="matrix" values="0 0 0 0 0  0 0 0 0 0  0 0 0 0 0  9 0 0 0 -5.94" result="a"/><feFlood flood-color="#50549e"/><feComposite in2="a" operator="in"/><feGaussianBlur stdDeviation="0.4"/></filter>
<rect x="317" y="327.4" width="132" height="75.6" filter="url(#sf18)" opacity="0.65"/>
</g>
<rect x="317.0" y="327.4" width="132.0" height="75.6" fill="none" stroke="#111" stroke-width="1.2"/>
<rect x="344.9" y="349.2" width="50.2" height="29.0" fill="none" stroke="#111" stroke-width="1.0"/>
<line x1="318.5" y1="401.2" x2="334.8" y2="401.2" stroke="#111" stroke-width="1.2"/>
<clipPath id="cp19"><rect x="456.4" y="327.4" width="132.4" height="75.3"/></clipPath><g clip-path="url(#cp19)">
<rect x="456.4" y="327.4" width="132.4" height="75.3" fill="#dcaeae" stroke="none" stroke-width="1"/>
<filter id="nf20" x="456.4" y="327.4" width="132.4" height="75.3" filterUnits="userSpaceOnUse"><feTurbulence type="fractalNoise" baseFrequency="0.05" numOctaves="2" seed="11" result="n"/><feColorMatrix in="n" type="matrix" values="0 0 0 0 0  0 0 0 0 0  0 0 0 0 0  0 0 0 2.40 -0.96" result="a"/><feFlood flood-color="#b4b0d8"/><feComposite in2="a" operator="in"/></filter>
<rect x="456.4" y="327.4" width="132.4" height="75.3" filter="url(#nf20)"/>
<filter id="nf21" x="456.4" y="327.4" width="132.4" height="75.3" filterUnits="userSpaceOnUse"><feTurbulence type="fractalNoise" baseFrequency="0.07" numOctaves="2" seed="19" result="n"/><feColorMatrix in="n" type="matrix" values="0 0 0 0 0  0 0 0 0 0  0 0 0 0 0  0 0 0 1.80 -0.72" result="a"/><feFlood flood-color="#e49c94"/><feComposite in2="a" operator="in"/></filter>
<rect x="456.4" y="327.4" width="132.4" height="75.3" filter="url(#nf21)"/>
<filter id="vf22" x="456.4" y="327.4" width="132.4" height="75.3" filterUnits="userSpaceOnUse"><feTurbulence type="turbulence" baseFrequency="0.035" numOctaves="1" seed="27" result="n"/><feColorMatrix in="n" type="matrix" values="0 0 0 0 0  0 0 0 0 0  0 0 0 0 0  -6 0 0 0 0.9" result="a"/><feFlood flood-color="#c4c0e4"/><feComposite in2="a" operator="in"/><feGaussianBlur stdDeviation="0.8"/></filter>
<rect x="456.4" y="327.4" width="132.4" height="75.3" filter="url(#vf22)" opacity="0.8"/>
<path d="M554.5,355.6a1.3,1.3 0 1,0 2.7,0a1.3,1.3 0 1,0 -2.7,0M560.0,397.3a1.4,1.4 0 1,0 2.7,0a1.4,1.4 0 1,0 -2.7,0M573.0,333.2a1.3,1.3 0 1,0 2.5,0a1.3,1.3 0 1,0 -2.5,0M474.5,390.0a1.3,1.3 0 1,0 2.6,0a1.3,1.3 0 1,0 -2.6,0M494.4,343.8a1.2,1.2 0 1,0 2.4,0a1.2,1.2 0 1,0 -2.4,0M499.7,376.3a1.0,1.0 0 1,0 2.1,0a1.0,1.0 0 1,0 -2.1,0M533.7,360.8a1.4,1.4 0 1,0 2.9,0a1.4,1.4 0 1,0 -2.9,0M504.8,375.3a1.1,1.1 0 1,0 2.3,0a1.1,1.1 0 1,0 -2.3,0M515.6,366.1a1.3,1.3 0 1,0 2.7,0a1.3,1.3 0 1,0 -2.7,0M458.0,375.8a1.1,1.1 0 1,0 2.1,0a1.1,1.1 0 1,0 -2.1,0M532.9,371.3a1.2,1.2 0 1,0 2.4,0a1.2,1.2 0 1,0 -2.4,0M477.1,387.6a1.1,1.1 0 1,0 2.2,0a1.1,1.1 0 1,0 -2.2,0M483.9,331.0a1.0,1.0 0 1,0 2.1,0a1.0,1.0 0 1,0 -2.1,0M538.0,391.2a1.0,1.0 0 1,0 2.0,0a1.0,1.0 0 1,0 -2.0,0M525.8,336.1a1.3,1.3 0 1,0 2.7,0a1.3,1.3 0 1,0 -2.7,0M482.3,380.1a1.0,1.0 0 1,0 2.0,0a1.0,1.0 0 1,0 -2.0,0M487.5,372.5a1.1,1.1 0 1,0 2.1,0a1.1,1.1 0 1,0 -2.1,0M531.5,389.0a1.3,1.3 0 1,0 2.6,0a1.3,1.3 0 1,0 -2.6,0M456.2,350.2a1.4,1.4 0 1,0 2.8,0a1.4,1.4 0 1,0 -2.8,0M502.5,386.5a1.2,1.2 0 1,0 2.4,0a1.2,1.2 0 1,0 -2.4,0M479.1,397.1a1.4,1.4 0 1,0 2.9,0a1.4,1.4 0 1,0 -2.9,0M462.4,349.0a1.1,1.1 0 1,0 2.2,0a1.1,1.1 0 1,0 -2.2,0M560.3,384.1a1.1,1.1 0 1,0 2.2,0a1.1,1.1 0 1,0 -2.2,0M470.2,377.2a1.1,1.1 0 1,0 2.1,0a1.1,1.1 0 1,0 -2.1,0M504.6,392.6a1.3,1.3 0 1,0 2.6,0a1.3,1.3 0 1,0 -2.6,0M538.4,363.1a1.1,1.1 0 1,0 2.3,0a1.1,1.1 0 1,0 -2.3,0M481.5,364.6a1.1,1.1 0 1,0 2.2,0a1.1,1.1 0 1,0 -2.2,0M480.0,396.2a1.1,1.1 0 1,0 2.1,0a1.1,1.1 0 1,0 -2.1,0M499.7,377.6a1.3,1.3 0 1,0 2.6,0a1.3,1.3 0 1,0 -2.6,0M514.9,382.9a1.1,1.1 0 1,0 2.3,0a1.1,1.1 0 1,0 -2.3,0M546.6,363.6a1.4,1.4 0 1,0 2.8,0a1.4,1.4 0 1,0 -2.8,0M567.1,338.4a1.3,1.3 0 1,0 2.7,0a1.3,1.3 0 1,0 -2.7,0M487.8,402.5a1.1,1.1 0 1,0 2.3,0a1.1,1.1 0 1,0 -2.3,0M584.4,340.0a1.3,1.3 0 1,0 2.5,0a1.3,1.3 0 1,0 -2.5,0M536.1,383.4a1.4,1.4 0 1,0 2.8,0a1.4,1.4 0 1,0 -2.8,0M521.1,380.2a1.4,1.4 0 1,0 2.9,0a1.4,1.4 0 1,0 -2.9,0M494.4,337.1a1.0,1.0 0 1,0 2.0,0a1.0,1.0 0 1,0 -2.0,0M455.6,334.4a1.3,1.3 0 1,0 2.7,0a1.3,1.3 0 1,0 -2.7,0M461.6,375.3a1.2,1.2 0 1,0 2.4,0a1.2,1.2 0 1,0 -2.4,0M494.4,361.0a1.2,1.2 0 1,0 2.3,0a1.2,1.2 0 1,0 -2.3,0M507.1,382.3a1.1,1.1 0 1,0 2.2,0a1.1,1.1 0 1,0 -2.2,0M489.1,374.5a1.3,1.3 0 1,0 2.6,0a1.3,1.3 0 1,0 -2.6,0M567.0,337.6a1.4,1.4 0 1,0 2.8,0a1.4,1.4 0 1,0 -2.8,0M492.2,386.4a1.1,1.1 0 1,0 2.2,0a1.1,1.1 0 1,0 -2.2,0M477.5,353.4a1.0,1.0 0 1,0 1.9,0a1.0,1.0 0 1,0 -1.9,0M561.5,340.5a1.2,1.2 0 1,0 2.5,0a1.2,1.2 0 1,0 -2.5,0M477.4,384.7a1.4,1.4 0 1,0 2.8,0a1.4,1.4 0 1,0 -2.8,0M496.1,346.4a1.1,1.1 0 1,0 2.3,0a1.1,1.1 0 1,0 -2.3,0M551.9,345.8a1.1,1.1 0 1,0 2.2,0a1.1,1.1 0 1,0 -2.2,0M571.7,396.0a1.3,1.3 0 1,0 2.6,0a1.3,1.3 0 1,0 -2.6,0M519.6,395.9a1.2,1.2 0 1,0 2.4,0a1.2,1.2 0 1,0 -2.4,0M471.4,388.0a1.0,1.0 0 1,0 1.9,0a1.0,1.0 0 1,0 -1.9,0M496.1,338.1a1.3,1.3 0 1,0 2.5,0a1.3,1.3 0 1,0 -2.5,0M513.5,370.6a1.3,1.3 0 1,0 2.5,0a1.3,1.3 0 1,0 -2.5,0M508.1,360.6a1.0,1.0 0 1,0 2.1,0a1.0,1.0 0 1,0 -2.1,0M494.9,384.9a1.0,1.0 0 1,0 2.0,0a1.0,1.0 0 1,0 -2.0,0M576.0,339.4a1.1,1.1 0 1,0 2.2,0a1.1,1.1 0 1,0 -2.2,0M490.0,353.9a1.0,1.0 0 1,0 2.0,0a1.0,1.0 0 1,0 -2.0,0M526.0,331.2a1.1,1.1 0 1,0 2.1,0a1.1,1.1 0 1,0 -2.1,0M486.8,353.1a1.4,1.4 0 1,0 2.7,0a1.4,1.4 0 1,0 -2.7,0M538.9,397.3a1.3,1.3 0 1,0 2.6,0a1.3,1.3 0 1,0 -2.6,0M467.6,381.9a1.3,1.3 0 1,0 2.7,0a1.3,1.3 0 1,0 -2.7,0M511.4,367.7a1.1,1.1 0 1,0 2.2,0a1.1,1.1 0 1,0 -2.2,0M558.7,345.2a1.2,1.2 0 1,0 2.3,0a1.2,1.2 0 1,0 -2.3,0M545.6,378.2a1.3,1.3 0 1,0 2.6,0a1.3,1.3 0 1,0 -2.6,0M512.4,328.5a1.1,1.1 0 1,0 2.3,0a1.1,1.1 0 1,0 -2.3,0M463.2,354.7a1.1,1.1 0 1,0 2.2,0a1.1,1.1 0 1,0 -2.2,0M582.0,345.0a1.1,1.1 0 1,0 2.2,0a1.1,1.1 0 1,0 -2.2,0M534.6,340.1a1.4,1.4 0 1,0 2.7,0a1.4,1.4 0 1,0 -2.7,0M516.8,330.6a1.0,1.0 0 1,0 2.1,0a1.0,1.0 0 1,0 -2.1,0M532.8,375.9a1.2,1.2 0 1,0 2.3,0a1.2,1.2 0 1,0 -2.3,0M582.8,353.2a1.1,1.1 0 1,0 2.1,0a1.1,1.1 0 1,0 -2.1,0M523.3,340.9a1.1,1.1 0 1,0 2.2,0a1.1,1.1 0 1,0 -2.2,0M528.1,387.3a1.0,1.0 0 1,0 2.0,0a1.0,1.0 0 1,0 -2.0,0M584.4,366.9a1.1,1.1 0 1,0 2.3,0a1.1,1.1 0 1,0 -2.3,0M521.3,351.4a1.1,1.1 0 1,0 2.3,0a1.1,1.1 0 1,0 -2.3,0M572.2,387.7a1.3,1.3 0 1,0 2.5,0a1.3,1.3 0 1,0 -2.5,0M462.5,387.2a1.1,1.1 0 1,0 2.2,0a1.1,1.1 0 1,0 -2.2,0M557.9,356.0a1.4,1.4 0 1,0 2.8,0a1.4,1.4 0 1,0 -2.8,0M574.8,341.7a1.3,1.3 0 1,0 2.7,0a1.3,1.3 0 1,0 -2.7,0M582.4,334.2a1.3,1.3 0 1,0 2.6,0a1.3,1.3 0 1,0 -2.6,0M575.2,398.7a1.3,1.3 0 1,0 2.7,0a1.3,1.3 0 1,0 -2.7,0M584.1,352.2a1.1,1.1 0 1,0 2.2,0a1.1,1.1 0 1,0 -2.2,0M558.6,337.9a1.4,1.4 0 1,0 2.8,0a1.4,1.4 0 1,0 -2.8,0M481.6,374.7a1.4,1.4 0 1,0 2.9,0a1.4,1.4 0 1,0 -2.9,0M520.6,358.7a1.1,1.1 0 1,0 2.2,0a1.1,1.1 0 1,0 -2.2,0M482.7,340.1a1.0,1.0 0 1,0 2.0,0a1.0,1.0 0 1,0 -2.0,0M534.4,372.4a1.2,1.2 0 1,0 2.5,0a1.2,1.2 0 1,0 -2.5,0M577.9,348.6a1.2,1.2 0 1,0 2.5,0a1.2,1.2 0 1,0 -2.5,0M546.2,390.2a1.2,1.2 0 1,0 2.4,0a1.2,1.2 0 1,0 -2.4,0M505.9,353.4a1.2,1.2 0 1,0 2.4,0a1.2,1.2 0 1,0 -2.4,0M542.0,329.3a1.0,1.0 0 1,0 2.0,0a1.0,1.0 0 1,0 -2.0,0M583.6,368.9a1.1,1.1 0 1,0 2.2,0a1.1,1.1 0 1,0 -2.2,0M532.3,347.7a1.0,1.0 0 1,0 2.0,0a1.0,1.0 0 1,0 -2.0,0M472.9,372.4a1.0,1.0 0 1,0 1.9,0a1.0,1.0 0 1,0 -1.9,0M560.2,353.5a1.3,1.3 0 1,0 2.7,0a1.3,1.3 0 1,0 -2.7,0M488.2,364.0a1.4,1.4 0 1,0 2.8,0a1.4,1.4 0 1,0 -2.8,0M487.6,377.5a1.0,1.0 0 1,0 2.1,0a1.0,1.0 0 1,0 -2.1,0M474.2,347.0a1.3,1.3 0 1,0 2.5,0a1.3,1.3 0 1,0 -2.5,0M472.2,353.6a1.4,1.4 0 1,0 2.9,0a1.4,1.4 0 1,0 -2.9,0M494.6,356.4a1.4,1.4 0 1,0 2.7,0a1.4,1.4 0 1,0 -2.7,0M479.5,391.2a1.2,1.2 0 1,0 2.4,0a1.2,1.2 0 1,0 -2.4,0M571.2,347.5a1.3,1.3 0 1,0 2.5,0a1.3,1.3 0 1,0 -2.5,0M531.8,358.1a1.1,1.1 0 1,0 2.2,0a1.1,1.1 0 1,0 -2.2,0M475.7,328.1a1.2,1.2 0 1,0 2.5,0a1.2,1.2 0 1,0 -2.5,0M475.0,393.1a1.0,1.0 0 1,0 1.9,0a1.0,1.0 0 1,0 -1.9,0M492.9,328.8a1.2,1.2 0 1,0 2.4,0a1.2,1.2 0 1,0 -2.4,0M544.3,332.4a1.3,1.3 0 1,0 2.6,0a1.3,1.3 0 1,0 -2.6,0M512.8,379.7a1.4,1.4 0 1,0 2.7,0a1.4,1.4 0 1,0 -2.7,0M550.8,364.3a1.1,1.1 0 1,0 2.3,0a1.1,1.1 0 1,0 -2.3,0M465.2,394.0a1.3,1.3 0 1,0 2.7,0a1.3,1.3 0 1,0 -2.7,0M517.9,401.2a1.1,1.1 0 1,0 2.3,0a1.1,1.1 0 1,0 -2.3,0M530.7,389.0a1.3,1.3 0 1,0 2.7,0a1.3,1.3 0 1,0 -2.7,0M455.1,350.2a1.3,1.3 0 1,0 2.7,0a1.3,1.3 0 1,0 -2.7,0M477.6,381.6a1.1,1.1 0 1,0 2.1,0a1.1,1.1 0 1,0 -2.1,0M547.2,397.0a1.3,1.3 0 1,0 2.5,0a1.3,1.3 0 1,0 -2.5,0M508.1,374.2a1.0,1.0 0 1,0 1.9,0a1.0,1.0 0 1,0 -1.9,0M465.6,394.5a1.3,1.3 0 1,0 2.5,0a1.3,1.3 0 1,0 -2.5,0M500.8,386.2a1.3,1.3 0 1,0 2.5,0a1.3,1.3 0 1,0 -2.5,0M468.0,340.7a1.1,1.1 0 1,0 2.3,0a1.1,1.1 0 1,0 -2.3,0M515.1,350.4a1.2,1.2 0 1,0 2.3,0a1.2,1.2 0 1,0 -2.3,0M539.5,362.0a1.3,1.3 0 1,0 2.5,0a1.3,1.3 0 1,0 -2.5,0M496.3,363.6a1.4,1.4 0 1,0 2.8,0a1.4,1.4 0 1,0 -2.8,0M568.4,355.1a1.0,1.0 0 1,0 2.1,0a1.0,1.0 0 1,0 -2.1,0M550.9,377.0a1.1,1.1 0 1,0 2.2,0a1.1,1.1 0 1,0 -2.2,0M514.1,335.1a1.0,1.0 0 1,0 2.1,0a1.0,1.0 0 1,0 -2.1,0M534.7,361.0a1.2,1.2 0 1,0 2.3,0a1.2,1.2 0 1,0 -2.3,0M503.0,360.1a1.1,1.1 0 1,0 2.3,0a1.1,1.1 0 1,0 -2.3,0M491.9,391.7a1.1,1.1 0 1,0 2.3,0a1.1,1.1 0 1,0 -2.3,0M534.3,363.5a1.2,1.2 0 1,0 2.4,0a1.2,1.2 0 1,0 -2.4,0M463.3,350.5a1.3,1.3 0 1,0 2.7,0a1.3,1.3 0 1,0 -2.7,0M512.3,358.7a1.1,1.1 0 1,0 2.2,0a1.1,1.1 0 1,0 -2.2,0M528.0,342.1a1.2,1.2 0 1,0 2.4,0a1.2,1.2 0 1,0 -2.4,0M513.9,355.0a1.4,1.4 0 1,0 2.8,0a1.4,1.4 0 1,0 -2.8,0M581.7,388.0a1.0,1.0 0 1,0 2.0,0a1.0,1.0 0 1,0 -2.0,0M500.1,330.5a1.0,1.0 0 1,0 2.0,0a1.0,1.0 0 1,0 -2.0,0M562.9,367.3a1.4,1.4 0 1,0 2.8,0a1.4,1.4 0 1,0 -2.8,0M535.5,360.4a1.3,1.3 0 1,0 2.5,0a1.3,1.3 0 1,0 -2.5,0M584.6,337.3a1.4,1.4 0 1,0 2.7,0a1.4,1.4 0 1,0 -2.7,0M487.7,366.7a1.4,1.4 0 1,0 2.9,0a1.4,1.4 0 1,0 -2.9,0M513.6,337.5a1.4,1.4 0 1,0 2.8,0a1.4,1.4 0 1,0 -2.8,0M504.2,382.2a1.4,1.4 0 1,0 2.8,0a1.4,1.4 0 1,0 -2.8,0M519.8,329.6a1.4,1.4 0 1,0 2.8,0a1.4,1.4 0 1,0 -2.8,0M509.7,389.6a1.1,1.1 0 1,0 2.3,0a1.1,1.1 0 1,0 -2.3,0M493.5,347.7a1.2,1.2 0 1,0 2.4,0a1.2,1.2 0 1,0 -2.4,0M584.7,338.3a1.4,1.4 0 1,0 2.8,0a1.4,1.4 0 1,0 -2.8,0M577.0,379.7a1.0,1.0 0 1,0 2.0,0a1.0,1.0 0 1,0 -2.0,0M525.2,335.7a1.0,1.0 0 1,0 1.9,0a1.0,1.0 0 1,0 -1.9,0M523.5,362.6a1.1,1.1 0 1,0 2.1,0a1.1,1.1 0 1,0 -2.1,0M463.7,329.5a1.4,1.4 0 1,0 2.9,0a1.4,1.4 0 1,0 -2.9,0M459.5,381.3a1.2,1.2 0 1,0 2.5,0a1.2,1.2 0 1,0 -2.5,0M475.9,393.2a1.2,1.2 0 1,0 2.5,0a1.2,1.2 0 1,0 -2.5,0M525.9,371.9a1.1,1.1 0 1,0 2.1,0a1.1,1.1 0 1,0 -2.1,0M501.9,344.1a1.3,1.3 0 1,0 2.6,0a1.3,1.3 0 1,0 -2.6,0M510.8,383.2a1.4,1.4 0 1,0 2.8,0a1.4,1.4 0 1,0 -2.8,0M487.4,366.0a1.3,1.3 0 1,0 2.7,0a1.3,1.3 0 1,0 -2.7,0M472.5,368.5a1.3,1.3 0 1,0 2.5,0a1.3,1.3 0 1,0 -2.5,0M558.6,336.1a1.0,1.0 0 1,0 2.0,0a1.0,1.0 0 1,0 -2.0,0M468.3,366.7a1.3,1.3 0 1,0 2.6,0a1.3,1.3 0 1,0 -2.6,0M455.8,387.8a1.4,1.4 0 1,0 2.8,0a1.4,1.4 0 1,0 -2.8,0M535.4,361.9a1.4,1.4 0 1,0 2.8,0a1.4,1.4 0 1,0 -2.8,0M568.6,399.7a1.4,1.4 0 1,0 2.8,0a1.4,1.4 0 1,0 -2.8,0M573.6,377.6a1.3,1.3 0 1,0 2.5,0a1.3,1.3 0 1,0 -2.5,0M500.5,388.7a1.4,1.4 0 1,0 2.8,0a1.4,1.4 0 1,0 -2.8,0M573.4,384.2a1.1,1.1 0 1,0 2.2,0a1.1,1.1 0 1,0 -2.2,0M466.6,352.6a1.1,1.1 0 1,0 2.2,0a1.1,1.1 0 1,0 -2.2,0M577.3,385.5a1.1,1.1 0 1,0 2.2,0a1.1,1.1 0 1,0 -2.2,0M457.9,394.7a1.4,1.4 0 1,0 2.9,0a1.4,1.4 0 1,0 -2.9,0M564.1,358.6a1.3,1.3 0 1,0 2.7,0a1.3,1.3 0 1,0 -2.7,0M572.1,389.7a1.1,1.1 0 1,0 2.2,0a1.1,1.1 0 1,0 -2.2,0M469.2,390.1a1.0,1.0 0 1,0 2.1,0a1.0,1.0 0 1,0 -2.1,0M464.4,346.4a1.3,1.3 0 1,0 2.6,0a1.3,1.3 0 1,0 -2.6,0M574.4,339.8a1.2,1.2 0 1,0 2.3,0a1.2,1.2 0 1,0 -2.3,0M578.9,331.9a1.3,1.3 0 1,0 2.5,0a1.3,1.3 0 1,0 -2.5,0M556.0,361.4a1.2,1.2 0 1,0 2.5,0a1.2,1.2 0 1,0 -2.5,0M468.2,333.0a1.4,1.4 0 1,0 2.8,0a1.4,1.4 0 1,0 -2.8,0M529.7,342.0a1.4,1.4 0 1,0 2.9,0a1.4,1.4 0 1,0 -2.9,0M563.8,399.9a1.0,1.0 0 1,0 2.0,0a1.0,1.0 0 1,0 -2.0,0M493.9,368.8a1.2,1.2 0 1,0 2.3,0a1.2,1.2 0 1,0 -2.3,0M556.4,339.0a1.3,1.3 0 1,0 2.6,0a1.3,1.3 0 1,0 -2.6,0M502.4,396.1a1.4,1.4 0 1,0 2.7,0a1.4,1.4 0 1,0 -2.7,0M583.3,389.3a1.0,1.0 0 1,0 2.0,0a1.0,1.0 0 1,0 -2.0,0M536.3,337.5a1.2,1.2 0 1,0 2.5,0a1.2,1.2 0 1,0 -2.5,0M582.6,398.3a1.0,1.0 0 1,0 2.0,0a1.0,1.0 0 1,0 -2.0,0M581.8,400.1a1.0,1.0 0 1,0 2.1,0a1.0,1.0 0 1,0 -2.1,0M549.7,334.7a1.0,1.0 0 1,0 2.1,0a1.0,1.0 0 1,0 -2.1,0M505.0,372.9a1.0,1.0 0 1,0 2.0,0a1.0,1.0 0 1,0 -2.0,0M578.4,360.6a1.4,1.4 0 1,0 2.8,0a1.4,1.4 0 1,0 -2.8,0M457.9,347.5a1.3,1.3 0 1,0 2.6,0a1.3,1.3 0 1,0 -2.6,0M586.9,341.0a1.3,1.3 0 1,0 2.7,0a1.3,1.3 0 1,0 -2.7,0M560.6,361.1a1.0,1.0 0 1,0 2.0,0a1.0,1.0 0 1,0 -2.0,0M508.7,390.7a1.4,1.4 0 1,0 2.9,0a1.4,1.4 0 1,0 -2.9,0M502.4,363.2a1.4,1.4 0 1,0 2.8,0a1.4,1.4 0 1,0 -2.8,0M567.2,359.2a1.0,1.0 0 1,0 2.0,0a1.0,1.0 0 1,0 -2.0,0M526.6,389.1a1.1,1.1 0 1,0 2.2,0a1.1,1.1 0 1,0 -2.2,0M463.7,361.6a1.4,1.4 0 1,0 2.9,0a1.4,1.4 0 1,0 -2.9,0M544.0,396.5a1.2,1.2 0 1,0 2.3,0a1.2,1.2 0 1,0 -2.3,0M548.1,333.0a1.3,1.3 0 1,0 2.5,0a1.3,1.3 0 1,0 -2.5,0M476.7,375.4a1.1,1.1 0 1,0 2.3,0a1.1,1.1 0 1,0 -2.3,0M571.0,357.3a1.4,1.4 0 1,0 2.7,0a1.4,1.4 0 1,0 -2.7,0M528.4,335.1a1.4,1.4 0 1,0 2.9,0a1.4,1.4 0 1,0 -2.9,0M490.0,371.9a1.3,1.3 0 1,0 2.6,0a1.3,1.3 0 1,0 -2.6,0M546.5,394.4a1.0,1.0 0 1,0 2.0,0a1.0,1.0 0 1,0 -2.0,0M524.0,351.8a1.2,1.2 0 1,0 2.5,0a1.2,1.2 0 1,0 -2.5,0M547.7,375.0a1.2,1.2 0 1,0 2.4,0a1.2,1.2 0 1,0 -2.4,0M526.3,328.3a1.4,1.4 0 1,0 2.7,0a1.4,1.4 0 1,0 -2.7,0M561.7,363.1a1.0,1.0 0 1,0 2.1,0a1.0,1.0 0 1,0 -2.1,0M575.2,385.9a1.2,1.2 0 1,0 2.5,0a1.2,1.2 0 1,0 -2.5,0M458.8,339.5a1.0,1.0 0 1,0 2.0,0a1.0,1.0 0 1,0 -2.0,0M497.6,366.5a1.0,1.0 0 1,0 2.1,0a1.0,1.0 0 1,0 -2.1,0M461.4,340.1a1.1,1.1 0 1,0 2.2,0a1.1,1.1 0 1,0 -2.2,0M534.7,364.9a1.0,1.0 0 1,0 2.1,0a1.0,1.0 0 1,0 -2.1,0M553.1,402.4a1.0,1.0 0 1,0 2.0,0a1.0,1.0 0 1,0 -2.0,0M547.2,387.6a1.3,1.3 0 1,0 2.5,0a1.3,1.3 0 1,0 -2.5,0M569.5,363.5a1.0,1.0 0 1,0 2.1,0a1.0,1.0 0 1,0 -2.1,0M565.9,370.4a1.3,1.3 0 1,0 2.5,0a1.3,1.3 0 1,0 -2.5,0M564.3,361.0a1.3,1.3 0 1,0 2.6,0a1.3,1.3 0 1,0 -2.6,0M587.0,399.8a1.2,1.2 0 1,0 2.4,0a1.2,1.2 0 1,0 -2.4,0M493.2,363.4a1.2,1.2 0 1,0 2.5,0a1.2,1.2 0 1,0 -2.5,0M586.5,342.7a1.0,1.0 0 1,0 2.0,0a1.0,1.0 0 1,0 -2.0,0M548.6,348.9a1.3,1.3 0 1,0 2.5,0a1.3,1.3 0 1,0 -2.5,0M578.5,367.1a1.3,1.3 0 1,0 2.7,0a1.3,1.3 0 1,0 -2.7,0M483.9,332.6a1.3,1.3 0 1,0 2.6,0a1.3,1.3 0 1,0 -2.6,0M539.2,358.3a1.0,1.0 0 1,0 2.1,0a1.0,1.0 0 1,0 -2.1,0M534.6,364.6a1.3,1.3 0 1,0 2.6,0a1.3,1.3 0 1,0 -2.6,0M524.1,354.5a1.1,1.1 0 1,0 2.1,0a1.1,1.1 0 1,0 -2.1,0M478.7,381.6a1.0,1.0 0 1,0 1.9,0a1.0,1.0 0 1,0 -1.9,0M507.4,351.6a1.0,1.0 0 1,0 1.9,0a1.0,1.0 0 1,0 -1.9,0M534.4,344.4a1.1,1.1 0 1,0 2.2,0a1.1,1.1 0 1,0 -2.2,0M485.9,352.2a1.0,1.0 0 1,0 2.0,0a1.0,1.0 0 1,0 -2.0,0M546.7,383.3a1.3,1.3 0 1,0 2.6,0a1.3,1.3 0 1,0 -2.6,0M481.5,365.6a1.4,1.4 0 1,0 2.8,0a1.4,1.4 0 1,0 -2.8,0M524.8,376.2a1.1,1.1 0 1,0 2.3,0a1.1,1.1 0 1,0 -2.3,0M549.9,372.0a1.0,1.0 0 1,0 1.9,0a1.0,1.0 0 1,0 -1.9,0M461.3,394.6a1.0,1.0 0 1,0 2.0,0a1.0,1.0 0 1,0 -2.0,0M494.0,343.3a1.0,1.0 0 1,0 1.9,0a1.0,1.0 0 1,0 -1.9,0M534.1,345.6a1.3,1.3 0 1,0 2.6,0a1.3,1.3 0 1,0 -2.6,0M493.0,389.6a1.2,1.2 0 1,0 2.4,0a1.2,1.2 0 1,0 -2.4,0M574.1,377.4a1.1,1.1 0 1,0 2.3,0a1.1,1.1 0 1,0 -2.3,0M492.4,384.0a1.4,1.4 0 1,0 2.7,0a1.4,1.4 0 1,0 -2.7,0M547.4,390.0a1.1,1.1 0 1,0 2.2,0a1.1,1.1 0 1,0 -2.2,0M546.2,360.2a1.2,1.2 0 1,0 2.4,0a1.2,1.2 0 1,0 -2.4,0M479.7,332.9a1.4,1.4 0 1,0 2.9,0a1.4,1.4 0 1,0 -2.9,0M543.8,360.1a1.1,1.1 0 1,0 2.3,0a1.1,1.1 0 1,0 -2.3,0M529.6,347.0a1.3,1.3 0 1,0 2.7,0a1.3,1.3 0 1,0 -2.7,0M513.9,369.3a1.3,1.3 0 1,0 2.7,0a1.3,1.3 0 1,0 -2.7,0M565.6,397.1a1.4,1.4 0 1,0 2.8,0a1.4,1.4 0 1,0 -2.8,0M484.0,335.8a1.3,1.3 0 1,0 2.5,0a1.3,1.3 0 1,0 -2.5,0M558.4,389.7a1.1,1.1 0 1,0 2.2,0a1.1,1.1 0 1,0 -2.2,0M587.1,347.3a1.3,1.3 0 1,0 2.5,0a1.3,1.3 0 1,0 -2.5,0M584.1,361.3a1.0,1.0 0 1,0 2.0,0a1.0,1.0 0 1,0 -2.0,0M474.4,363.2a1.3,1.3 0 1,0 2.6,0a1.3,1.3 0 1,0 -2.6,0M480.8,330.6a1.2,1.2 0 1,0 2.4,0a1.2,1.2 0 1,0 -2.4,0M555.5,370.9a1.0,1.0 0 1,0 2.0,0a1.0,1.0 0 1,0 -2.0,0M568.4,378.6a1.0,1.0 0 1,0 2.0,0a1.0,1.0 0 1,0 -2.0,0M577.5,402.2a1.0,1.0 0 1,0 2.1,0a1.0,1.0 0 1,0 -2.1,0M516.8,335.8a1.4,1.4 0 1,0 2.7,0a1.4,1.4 0 1,0 -2.7,0M489.6,389.0a1.4,1.4 0 1,0 2.7,0a1.4,1.4 0 1,0 -2.7,0M465.2,336.4a1.2,1.2 0 1,0 2.5,0a1.2,1.2 0 1,0 -2.5,0M458.0,379.7a1.4,1.4 0 1,0 2.8,0a1.4,1.4 0 1,0 -2.8,0M506.2,390.2a1.1,1.1 0 1,0 2.3,0a1.1,1.1 0 1,0 -2.3,0M558.4,372.6a1.2,1.2 0 1,0 2.3,0a1.2,1.2 0 1,0 -2.3,0M512.2,401.4a1.4,1.4 0 1,0 2.8,0a1.4,1.4 0 1,0 -2.8,0M529.3,334.8a1.0,1.0 0 1,0 2.1,0a1.0,1.0 0 1,0 -2.1,0M579.3,338.8a1.2,1.2 0 1,0 2.4,0a1.2,1.2 0 1,0 -2.4,0M459.6,336.8a1.1,1.1 0 1,0 2.1,0a1.1,1.1 0 1,0 -2.1,0M534.6,343.1a1.3,1.3 0 1,0 2.5,0a1.3,1.3 0 1,0 -2.5,0M497.7,358.8a1.0,1.0 0 1,0 1.9,0a1.0,1.0 0 1,0 -1.9,0M468.9,374.3a1.0,1.0 0 1,0 1.9,0a1.0,1.0 0 1,0 -1.9,0M470.5,364.7a1.0,1.0 0 1,0 2.1,0a1.0,1.0 0 1,0 -2.1,0M473.2,384.4a1.4,1.4 0 1,0 2.7,0a1.4,1.4 0 1,0 -2.7,0M557.0,393.8a1.4,1.4 0 1,0 2.9,0a1.4,1.4 0 1,0 -2.9,0M485.4,343.9a1.0,1.0 0 1,0 2.1,0a1.0,1.0 0 1,0 -2.1,0M490.9,342.7a1.4,1.4 0 1,0 2.7,0a1.4,1.4 0 1,0 -2.7,0M577.6,368.3a1.0,1.0 0 1,0 1.9,0a1.0,1.0 0 1,0 -1.9,0M582.5,374.7a1.4,1.4 0 1,0 2.7,0a1.4,1.4 0 1,0 -2.7,0M465.6,388.1a1.4,1.4 0 1,0 2.9,0a1.4,1.4 0 1,0 -2.9,0M555.0,401.6a1.3,1.3 0 1,0 2.6,0a1.3,1.3 0 1,0 -2.6,0M508.1,383.9a1.2,1.2 0 1,0 2.4,0a1.2,1.2 0 1,0 -2.4,0M561.7,398.2a1.1,1.1 0 1,0 2.2,0a1.1,1.1 0 1,0 -2.2,0M586.8,352.8a1.2,1.2 0 1,0 2.4,0a1.2,1.2 0 1,0 -2.4,0M493.6,361.7a1.2,1.2 0 1,0 2.3,0a1.2,1.2 0 1,0 -2.3,0M578.7,347.5a1.3,1.3 0 1,0 2.6,0a1.3,1.3 0 1,0 -2.6,0M529.9,398.0a1.1,1.1 0 1,0 2.3,0a1.1,1.1 0 1,0 -2.3,0M472.9,381.6a1.1,1.1 0 1,0 2.2,0a1.1,1.1 0 1,0 -2.2,0M499.8,363.9a1.2,1.2 0 1,0 2.4,0a1.2,1.2 0 1,0 -2.4,0M537.6,328.9a1.2,1.2 0 1,0 2.4,0a1.2,1.2 0 1,0 -2.4,0M542.9,372.0a1.2,1.2 0 1,0 2.3,0a1.2,1.2 0 1,0 -2.3,0M575.9,385.2a1.2,1.2 0 1,0 2.5,0a1.2,1.2 0 1,0 -2.5,0M561.7,348.5a1.2,1.2 0 1,0 2.4,0a1.2,1.2 0 1,0 -2.4,0M522.0,331.3a1.4,1.4 0 1,0 2.8,0a1.4,1.4 0 1,0 -2.8,0M569.8,368.0a1.1,1.1 0 1,0 2.3,0a1.1,1.1 0 1,0 -2.3,0M464.6,389.3a1.3,1.3 0 1,0 2.5,0a1.3,1.3 0 1,0 -2.5,0M536.3,400.8a1.2,1.2 0 1,0 2.5,0a1.2,1.2 0 1,0 -2.5,0M460.7,387.4a1.1,1.1 0 1,0 2.2,0a1.1,1.1 0 1,0 -2.2,0M458.9,355.4a1.0,1.0 0 1,0 1.9,0a1.0,1.0 0 1,0 -1.9,0M496.2,348.5a1.0,1.0 0 1,0 2.1,0a1.0,1.0 0 1,0 -2.1,0M473.7,374.6a1.4,1.4 0 1,0 2.7,0a1.4,1.4 0 1,0 -2.7,0M557.9,388.9a1.3,1.3 0 1,0 2.6,0a1.3,1.3 0 1,0 -2.6,0M495.3,353.4a1.1,1.1 0 1,0 2.3,0a1.1,1.1 0 1,0 -2.3,0M512.3,365.5a1.2,1.2 0 1,0 2.4,0a1.2,1.2 0 1,0 -2.4,0M578.1,353.7a1.4,1.4 0 1,0 2.8,0a1.4,1.4 0 1,0 -2.8,0M585.3,350.3a1.3,1.3 0 1,0 2.6,0a1.3,1.3 0 1,0 -2.6,0M561.6,370.4a1.2,1.2 0 1,0 2.3,0a1.2,1.2 0 1,0 -2.3,0M579.1,336.3a1.3,1.3 0 1,0 2.7,0a1.3,1.3 0 1,0 -2.7,0M483.8,370.2a1.3,1.3 0 1,0 2.6,0a1.3,1.3 0 1,0 -2.6,0M539.6,357.5a1.4,1.4 0 1,0 2.8,0a1.4,1.4 0 1,0 -2.8,0M566.5,361.8a1.1,1.1 0 1,0 2.2,0a1.1,1.1 0 1,0 -2.2,0M556.6,396.1a1.2,1.2 0 1,0 2.4,0a1.2,1.2 0 1,0 -2.4,0M535.5,384.4a1.3,1.3 0 1,0 2.5,0a1.3,1.3 0 1,0 -2.5,0M489.0,333.3a1.0,1.0 0 1,0 2.1,0a1.0,1.0 0 1,0 -2.1,0M546.1,356.3a1.2,1.2 0 1,0 2.3,0a1.2,1.2 0 1,0 -2.3,0M506.2,390.3a1.1,1.1 0 1,0 2.2,0a1.1,1.1 0 1,0 -2.2,0M574.6,377.9a1.0,1.0 0 1,0 2.0,0a1.0,1.0 0 1,0 -2.0,0M517.9,385.8a1.2,1.2 0 1,0 2.4,0a1.2,1.2 0 1,0 -2.4,0M473.3,372.9a1.1,1.1 0 1,0 2.3,0a1.1,1.1 0 1,0 -2.3,0M548.9,379.9a1.4,1.4 0 1,0 2.9,0a1.4,1.4 0 1,0 -2.9,0M460.3,383.0a1.4,1.4 0 1,0 2.7,0a1.4,1.4 0 1,0 -2.7,0M518.2,396.7a1.0,1.0 0 1,0 1.9,0a1.0,1.0 0 1,0 -1.9,0M467.1,351.8a1.1,1.1 0 1,0 2.1,0a1.1,1.1 0 1,0 -2.1,0M578.2,354.0a1.2,1.2 0 1,0 2.4,0a1.2,1.2 0 1,0 -2.4,0M535.1,382.3a1.0,1.0 0 1,0 1.9,0a1.0,1.0 0 1,0 -1.9,0M496.8,328.3a1.4,1.4 0 1,0 2.9,0a1.4,1.4 0 1,0 -2.9,0M530.8,379.5a1.4,1.4 0 1,0 2.9,0a1.4,1.4 0 1,0 -2.9,0M477.4,370.4a1.2,1.2 0 1,0 2.4,0a1.2,1.2 0 1,0 -2.4,0M484.1,386.3a1.1,1.1 0 1,0 2.2,0a1.1,1.1 0 1,0 -2.2,0M568.3,328.7a1.4,1.4 0 1,0 2.8,0a1.4,1.4 0 1,0 -2.8,0M543.4,342.6a1.3,1.3 0 1,0 2.6,0a1.3,1.3 0 1,0 -2.6,0M513.4,367.4a1.0,1.0 0 1,0 1.9,0a1.0,1.0 0 1,0 -1.9,0M523.5,376.0a1.4,1.4 0 1,0 2.9,0a1.4,1.4 0 1,0 -2.9,0M466.9,389.8a1.2,1.2 0 1,0 2.3,0a1.2,1.2 0 1,0 -2.3,0M555.7,363.0a1.0,1.0 0 1,0 2.1,0a1.0,1.0 0 1,0 -2.1,0M567.8,366.4a1.4,1.4 0 1,0 2.7,0a1.4,1.4 0 1,0 -2.7,0M489.1,374.8a1.3,1.3 0 1,0 2.7,0a1.3,1.3 0 1,0 -2.7,0M490.7,329.2a1.1,1.1 0 1,0 2.2,0a1.1,1.1 0 1,0 -2.2,0M517.3,343.3a1.4,1.4 0 1,0 2.9,0a1.4,1.4 0 1,0 -2.9,0M505.5,383.8a1.0,1.0 0 1,0 2.0,0a1.0,1.0 0 1,0 -2.0,0M458.2,364.7a1.1,1.1 0 1,0 2.1,0a1.1,1.1 0 1,0 -2.1,0M550.1,342.2a1.0,1.0 0 1,0 2.1,0a1.0,1.0 0 1,0 -2.1,0M461.5,357.8a1.0,1.0 0 1,0 2.1,0a1.0,1.0 0 1,0 -2.1,0M492.6,352.6a1.4,1.4 0 1,0 2.8,0a1.4,1.4 0 1,0 -2.8,0M565.4,336.4a1.4,1.4 0 1,0 2.8,0a1.4,1.4 0 1,0 -2.8,0M456.9,357.7a1.1,1.1 0 1,0 2.2,0a1.1,1.1 0 1,0 -2.2,0M471.4,361.9a1.3,1.3 0 1,0 2.6,0a1.3,1.3 0 1,0 -2.6,0M583.5,369.0a1.1,1.1 0 1,0 2.2,0a1.1,1.1 0 1,0 -2.2,0M512.9,351.3a1.1,1.1 0 1,0 2.2,0a1.1,1.1 0 1,0 -2.2,0M497.6,329.5a1.4,1.4 0 1,0 2.8,0a1.4,1.4 0 1,0 -2.8,0M501.2,399.9a1.1,1.1 0 1,0 2.3,0a1.1,1.1 0 1,0 -2.3,0M573.4,360.9a1.3,1.3 0 1,0 2.7,0a1.3,1.3 0 1,0 -2.7,0M506.3,342.6a1.4,1.4 0 1,0 2.8,0a1.4,1.4 0 1,0 -2.8,0M570.6,372.0a1.2,1.2 0 1,0 2.5,0a1.2,1.2 0 1,0 -2.5,0M519.4,335.0a1.1,1.1 0 1,0 2.2,0a1.1,1.1 0 1,0 -2.2,0M577.2,351.6a1.1,1.1 0 1,0 2.3,0a1.1,1.1 0 1,0 -2.3,0M503.3,370.9a1.3,1.3 0 1,0 2.6,0a1.3,1.3 0 1,0 -2.6,0M463.3,376.1a1.1,1.1 0 1,0 2.2,0a1.1,1.1 0 1,0 -2.2,0M558.8,351.2a1.2,1.2 0 1,0 2.3,0a1.2,1.2 0 1,0 -2.3,0M503.7,389.2a1.1,1.1 0 1,0 2.3,0a1.1,1.1 0 1,0 -2.3,0M558.6,362.2a1.0,1.0 0 1,0 2.0,0a1.0,1.0 0 1,0 -2.0,0M501.5,367.3a1.4,1.4 0 1,0 2.9,0a1.4,1.4 0 1,0 -2.9,0M463.0,341.7a1.4,1.4 0 1,0 2.8,0a1.4,1.4 0 1,0 -2.8,0M518.9,353.4a1.2,1.2 0 1,0 2.4,0a1.2,1.2 0 1,0 -2.4,0M535.4,380.9a1.4,1.4 0 1,0 2.8,0a1.4,1.4 0 1,0 -2.8,0M497.5,361.5a1.0,1.0 0 1,0 2.1,0a1.0,1.0 0 1,0 -2.1,0M514.6,400.1a1.2,1.2 0 1,0 2.3,0a1.2,1.2 0 1,0 -2.3,0M469.4,362.1a1.4,1.4 0 1,0 2.9,0a1.4,1.4 0 1,0 -2.9,0M568.1,349.5a1.4,1.4 0 1,0 2.9,0a1.4,1.4 0 1,0 -2.9,0M457.0,380.0a1.1,1.1 0 1,0 2.2,0a1.1,1.1 0 1,0 -2.2,0M540.9,378.3a1.1,1.1 0 1,0 2.1,0a1.1,1.1 0 1,0 -2.1,0M508.4,391.7a1.2,1.2 0 1,0 2.4,0a1.2,1.2 0 1,0 -2.4,0M516.4,356.4a1.4,1.4 0 1,0 2.7,0a1.4,1.4 0 1,0 -2.7,0M569.2,365.8a1.4,1.4 0 1,0 2.8,0a1.4,1.4 0 1,0 -2.8,0M533.1,332.7a1.3,1.3 0 1,0 2.6,0a1.3,1.3 0 1,0 -2.6,0M536.3,356.1a1.0,1.0 0 1,0 2.0,0a1.0,1.0 0 1,0 -2.0,0M473.7,379.1a1.3,1.3 0 1,0 2.5,0a1.3,1.3 0 1,0 -2.5,0M512.8,342.2a1.4,1.4 0 1,0 2.8,0a1.4,1.4 0 1,0 -2.8,0M493.9,358.8a1.0,1.0 0 1,0 1.9,0a1.0,1.0 0 1,0 -1.9,0M497.6,342.3a1.4,1.4 0 1,0 2.8,0a1.4,1.4 0 1,0 -2.8,0M478.2,349.5a1.3,1.3 0 1,0 2.7,0a1.3,1.3 0 1,0 -2.7,0M487.3,338.9a1.1,1.1 0 1,0 2.2,0a1.1,1.1 0 1,0 -2.2,0M537.5,346.5a1.2,1.2 0 1,0 2.5,0a1.2,1.2 0 1,0 -2.5,0M487.5,342.9a1.0,1.0 0 1,0 2.0,0a1.0,1.0 0 1,0 -2.0,0M549.6,352.3a1.0,1.0 0 1,0 1.9,0a1.0,1.0 0 1,0 -1.9,0M568.3,374.6a1.3,1.3 0 1,0 2.7,0a1.3,1.3 0 1,0 -2.7,0M573.3,331.5a1.3,1.3 0 1,0 2.6,0a1.3,1.3 0 1,0 -2.6,0M499.5,356.2a1.2,1.2 0 1,0 2.5,0a1.2,1.2 0 1,0 -2.5,0M543.7,330.0a1.4,1.4 0 1,0 2.9,0a1.4,1.4 0 1,0 -2.9,0M528.7,382.1a1.1,1.1 0 1,0 2.2,0a1.1,1.1 0 1,0 -2.2,0M522.4,337.3a1.3,1.3 0 1,0 2.5,0a1.3,1.3 0 1,0 -2.5,0M539.8,385.6a1.0,1.0 0 1,0 2.0,0a1.0,1.0 0 1,0 -2.0,0M494.5,372.3a1.1,1.1 0 1,0 2.2,0a1.1,1.1 0 1,0 -2.2,0M548.5,330.4a1.4,1.4 0 1,0 2.8,0a1.4,1.4 0 1,0 -2.8,0M582.8,385.4a1.1,1.1 0 1,0 2.2,0a1.1,1.1 0 1,0 -2.2,0M502.9,347.0a1.0,1.0 0 1,0 2.0,0a1.0,1.0 0 1,0 -2.0,0M462.6,343.8a1.1,1.1 0 1,0 2.3,0a1.1,1.1 0 1,0 -2.3,0M519.0,390.3a1.2,1.2 0 1,0 2.4,0a1.2,1.2 0 1,0 -2.4,0M583.4,394.9a1.4,1.4 0 1,0 2.7,0a1.4,1.4 0 1,0 -2.7,0M577.7,345.0a1.3,1.3 0 1,0 2.6,0a1.3,1.3 0 1,0 -2.6,0M516.7,401.2a1.3,1.3 0 1,0 2.6,0a1.3,1.3 0 1,0 -2.6,0M473.5,388.3a1.1,1.1 0 1,0 2.1,0a1.1,1.1 0 1,0 -2.1,0M512.7,399.4a1.3,1.3 0 1,0 2.7,0a1.3,1.3 0 1,0 -2.7,0M532.7,342.5a1.3,1.3 0 1,0 2.6,0a1.3,1.3 0 1,0 -2.6,0M483.8,328.4a1.2,1.2 0 1,0 2.3,0a1.2,1.2 0 1,0 -2.3,0M492.5,366.8a1.2,1.2 0 1,0 2.3,0a1.2,1.2 0 1,0 -2.3,0M576.8,390.0a1.2,1.2 0 1,0 2.3,0a1.2,1.2 0 1,0 -2.3,0M528.6,387.7a1.1,1.1 0 1,0 2.3,0a1.1,1.1 0 1,0 -2.3,0M473.3,361.7a1.3,1.3 0 1,0 2.6,0a1.3,1.3 0 1,0 -2.6,0M503.2,376.5a1.2,1.2 0 1,0 2.5,0a1.2,1.2 0 1,0 -2.5,0M512.0,358.9a1.3,1.3 0 1,0 2.5,0a1.3,1.3 0 1,0 -2.5,0M508.1,356.4a1.2,1.2 0 1,0 2.4,0a1.2,1.2 0 1,0 -2.4,0M573.8,349.9a1.4,1.4 0 1,0 2.7,0a1.4,1.4 0 1,0 -2.7,0M489.2,328.6a1.2,1.2 0 1,0 2.4,0a1.2,1.2 0 1,0 -2.4,0M569.9,362.5a1.2,1.2 0 1,0 2.5,0a1.2,1.2 0 1,0 -2.5,0M559.9,397.1a1.0,1.0 0 1,0 2.1,0a1.0,1.0 0 1,0 -2.1,0M528.9,365.1a1.0,1.0 0 1,0 2.0,0a1.0,1.0 0 1,0 -2.0,0M460.8,394.7a1.3,1.3 0 1,0 2.5,0a1.3,1.3 0 1,0 -2.5,0M470.1,330.3a1.0,1.0 0 1,0 2.0,0a1.0,1.0 0 1,0 -2.0,0M505.8,336.7a1.4,1.4 0 1,0 2.8,0a1.4,1.4 0 1,0 -2.8,0M548.3,348.7a1.0,1.0 0 1,0 2.0,0a1.0,1.0 0 1,0 -2.0,0M496.2,332.3a1.4,1.4 0 1,0 2.9,0a1.4,1.4 0 1,0 -2.9,0M498.6,389.9a1.0,1.0 0 1,0 2.1,0a1.0,1.0 0 1,0 -2.1,0M568.0,354.9a1.1,1.1 0 1,0 2.3,0a1.1,1.1 0 1,0 -2.3,0M524.3,348.9a1.3,1.3 0 1,0 2.5,0a1.3,1.3 0 1,0 -2.5,0M506.7,342.3a1.0,1.0 0 1,0 1.9,0a1.0,1.0 0 1,0 -1.9,0M505.3,396.6a1.1,1.1 0 1,0 2.2,0a1.1,1.1 0 1,0 -2.2,0M517.7,367.4a1.2,1.2 0 1,0 2.4,0a1.2,1.2 0 1,0 -2.4,0M491.2,335.6a1.1,1.1 0 1,0 2.2,0a1.1,1.1 0 1,0 -2.2,0M550.2,331.1a1.2,1.2 0 1,0 2.5,0a1.2,1.2 0 1,0 -2.5,0M549.5,402.2a1.3,1.3 0 1,0 2.6,0a1.3,1.3 0 1,0 -2.6,0M579.9,367.4a1.0,1.0 0 1,0 2.0,0a1.0,1.0 0 1,0 -2.0,0M493.9,357.2a1.0,1.0 0 1,0 2.0,0a1.0,1.0 0 1,0 -2.0,0" fill="#363c86" stroke="none" stroke-width="1" opacity="0.85"/>
</g>
<rect x="456.4" y="327.4" width="132.4" height="75.3" fill="none" stroke="#111" stroke-width="1.2"/>
<line x1="458.0" y1="400.2" x2="468.5" y2="400.2" stroke="#333" stroke-width="1.6"/>
<line x1="397.9" y1="265.5" x2="456.4" y2="250.0" stroke="#111" stroke-width="1.0"/>
<line x1="397.9" y1="294.2" x2="456.4" y2="325.3" stroke="#111" stroke-width="1.0"/>
<line x1="395.1" y1="349.2" x2="456.4" y2="327.4" stroke="#111" stroke-width="1.0"/>
<line x1="395.1" y1="378.2" x2="456.4" y2="402.7" stroke="#111" stroke-width="1.0"/>
<text x="595.5" y="286.5" font-size="17" text-anchor="start" fill="#000" font-weight="bold">g</text>
<line x1="631.8" y1="315.6" x2="631.8" y2="392.2" stroke="#111" stroke-width="1.1"/>
<line x1="631.8" y1="392.2" x2="683.0" y2="392.2" stroke="#111" stroke-width="1.1"/>
<line x1="628.3" y1="392.2" x2="631.8" y2="392.2" stroke="#111" stroke-width="1.0"/>
<text x="625.0" y="395.2" font-size="8.5" text-anchor="end" fill="#1a1a1a">0</text>
<line x1="628.3" y1="366.7" x2="631.8" y2="366.7" stroke="#111" stroke-width="1.0"/>
<text x="625.0" y="369.7" font-size="8.5" text-anchor="end" fill="#1a1a1a">20</text>
<line x1="628.3" y1="341.1" x2="631.8" y2="341.1" stroke="#111" stroke-width="1.0"/>
<text x="625.0" y="344.1" font-size="8.5" text-anchor="end" fill="#1a1a1a">40</text>
<line x1="628.3" y1="315.6" x2="631.8" y2="315.6" stroke="#111" stroke-width="1.0"/>
<text x="625.0" y="318.6" font-size="8.5" text-anchor="end" fill="#1a1a1a">60</text>
<rect x="639.8" y="379.1" width="13.9" height="13.1" fill="#1f63b0" stroke="#111" stroke-width="1.0"/>
<rect x="661.9" y="335.6" width="14.1" height="56.6" fill="#e25a27" stroke="#111" stroke-width="1.0"/>
<line x1="646.7" y1="375.6" x2="646.7" y2="382.6" stroke="#111" stroke-width="0.9"/>
<line x1="643.7" y1="375.6" x2="649.7" y2="375.6" stroke="#111" stroke-width="0.9"/>
<line x1="643.7" y1="382.6" x2="649.7" y2="382.6" stroke="#111" stroke-width="0.9"/>
<line x1="669.0" y1="332.8" x2="669.0" y2="337.9" stroke="#111" stroke-width="0.9"/>
<line x1="666.0" y1="332.8" x2="672.0" y2="332.8" stroke="#111" stroke-width="0.9"/>
<circle cx="646.7" cy="371.8" r="0.90" fill="#111"/>
<circle cx="646.7" cy="385.2" r="0.90" fill="#111"/>
<circle cx="646.7" cy="380.7" r="0.90" fill="#111"/>
<circle cx="669.0" cy="327.1" r="0.90" fill="#111"/>
<circle cx="667.0" cy="338.6" r="0.90" fill="#111"/>
<circle cx="671.0" cy="336.0" r="0.90" fill="#111"/>
<circle cx="669.0" cy="340.5" r="0.90" fill="#111"/>
<text x="647.0" y="402.5" font-size="8" text-anchor="middle" fill="#1a1a1a">NAT</text>
<text x="669.0" y="402.5" font-size="8" text-anchor="middle" fill="#1a1a1a">T</text>
<text x="612.0" y="353.3" font-size="7.6" text-anchor="middle" fill="#1a1a1a" transform="rotate(-90 612.0 353.3)">Relative STN1 protein level</text>
<text x="333.5" y="429.5" font-size="17" text-anchor="start" fill="#000" font-weight="bold">i</text>
<line x1="375.9" y1="438.5" x2="375.9" y2="554.4" stroke="#111" stroke-width="1.1"/>
<line x1="375.9" y1="554.4" x2="452.9" y2="554.4" stroke="#111" stroke-width="1.1"/>
<line x1="370.6" y1="554.4" x2="375.9" y2="554.4" stroke="#111" stroke-width="1.0"/>
<text x="366.6" y="557.5" font-size="8.8" text-anchor="end" fill="#1a1a1a">0</text>
<line x1="370.6" y1="525.4" x2="375.9" y2="525.4" stroke="#111" stroke-width="1.0"/>
<text x="366.6" y="528.5" font-size="8.8" text-anchor="end" fill="#1a1a1a">10</text>
<line x1="370.6" y1="496.4" x2="375.9" y2="496.4" stroke="#111" stroke-width="1.0"/>
<text x="366.6" y="499.6" font-size="8.8" text-anchor="end" fill="#1a1a1a">20</text>
<line x1="370.6" y1="467.5" x2="375.9" y2="467.5" stroke="#111" stroke-width="1.0"/>
<text x="366.6" y="470.6" font-size="8.8" text-anchor="end" fill="#1a1a1a">30</text>
<line x1="370.6" y1="438.5" x2="375.9" y2="438.5" stroke="#111" stroke-width="1.0"/>
<text x="366.6" y="441.6" font-size="8.8" text-anchor="end" fill="#1a1a1a">40</text>
<text x="415.3" y="453.0" font-size="8.1" text-anchor="middle" fill="#1a1a1a">P = 0.0005</text>
<path d="M397.8,462 L397.8,455.8 L431,455.8 L431,467" fill="none" stroke="#111" stroke-width="0.9"/>
<path d="M389.7,552.9a1.1,1.1 0 1,0 2.3,0a1.1,1.1 0 1,0 -2.3,0M392.5,552.9a1.1,1.1 0 1,0 2.3,0a1.1,1.1 0 1,0 -2.3,0M395.3,552.9a1.1,1.1 0 1,0 2.3,0a1.1,1.1 0 1,0 -2.3,0M398.1,552.9a1.1,1.1 0 1,0 2.3,0a1.1,1.1 0 1,0 -2.3,0M400.9,552.9a1.1,1.1 0 1,0 2.3,0a1.1,1.1 0 1,0 -2.3,0M403.7,552.9a1.1,1.1 0 1,0 2.3,0a1.1,1.1 0 1,0 -2.3,0M386.9,549.8a1.1,1.1 0 1,0 2.3,0a1.1,1.1 0 1,0 -2.3,0M389.7,549.8a1.1,1.1 0 1,0 2.3,0a1.1,1.1 0 1,0 -2.3,0M392.5,549.8a1.1,1.1 0 1,0 2.3,0a1.1,1.1 0 1,0 -2.3,0M395.3,549.8a1.1,1.1 0 1,0 2.3,0a1.1,1.1 0 1,0 -2.3,0M398.1,549.8a1.1,1.1 0 1,0 2.3,0a1.1,1.1 0 1,0 -2.3,0M400.9,549.8a1.1,1.1 0 1,0 2.3,0a1.1,1.1 0 1,0 -2.3,0M403.7,549.8a1.1,1.1 0 1,0 2.3,0a1.1,1.1 0 1,0 -2.3,0M406.5,549.8a1.1,1.1 0 1,0 2.3,0a1.1,1.1 0 1,0 -2.3,0M386.9,546.8a1.1,1.1 0 1,0 2.3,0a1.1,1.1 0 1,0 -2.3,0M389.7,546.8a1.1,1.1 0 1,0 2.3,0a1.1,1.1 0 1,0 -2.3,0M392.5,546.8a1.1,1.1 0 1,0 2.3,0a1.1,1.1 0 1,0 -2.3,0M395.3,546.8a1.1,1.1 0 1,0 2.3,0a1.1,1.1 0 1,0 -2.3,0M398.1,546.8a1.1,1.1 0 1,0 2.3,0a1.1,1.1 0 1,0 -2.3,0M400.9,546.8a1.1,1.1 0 1,0 2.3,0a1.1,1.1 0 1,0 -2.3,0M403.7,546.8a1.1,1.1 0 1,0 2.3,0a1.1,1.1 0 1,0 -2.3,0M406.5,546.8a1.1,1.1 0 1,0 2.3,0a1.1,1.1 0 1,0 -2.3,0M386.9,543.7a1.1,1.1 0 1,0 2.3,0a1.1,1.1 0 1,0 -2.3,0M389.7,543.7a1.1,1.1 0 1,0 2.3,0a1.1,1.1 0 1,0 -2.3,0M392.5,543.7a1.1,1.1 0 1,0 2.3,0a1.1,1.1 0 1,0 -2.3,0M395.3,543.7a1.1,1.1 0 1,0 2.3,0a1.1,1.1 0 1,0 -2.3,0M398.1,543.7a1.1,1.1 0 1,0 2.3,0a1.1,1.1 0 1,0 -2.3,0M400.9,543.7a1.1,1.1 0 1,0 2.3,0a1.1,1.1 0 1,0 -2.3,0M403.7,543.7a1.1,1.1 0 1,0 2.3,0a1.1,1.1 0 1,0 -2.3,0M406.5,543.7a1.1,1.1 0 1,0 2.3,0a1.1,1.1 0 1,0 -2.3,0M388.3,540.7a1.1,1.1 0 1,0 2.3,0a1.1,1.1 0 1,0 -2.3,0M391.1,540.7a1.1,1.1 0 1,0 2.3,0a1.1,1.1 0 1,0 -2.3,0M393.9,540.7a1.1,1.1 0 1,0 2.3,0a1.1,1.1 0 1,0 -2.3,0M396.7,540.7a1.1,1.1 0 1,0 2.3,0a1.1,1.1 0 1,0 -2.3,0M399.5,540.7a1.1,1.1 0 1,0 2.3,0a1.1,1.1 0 1,0 -2.3,0M402.3,540.7a1.1,1.1 0 1,0 2.3,0a1.1,1.1 0 1,0 -2.3,0M405.1,540.7a1.1,1.1 0 1,0 2.3,0a1.1,1.1 0 1,0 -2.3,0M386.9,537.6a1.1,1.1 0 1,0 2.3,0a1.1,1.1 0 1,0 -2.3,0M389.7,537.6a1.1,1.1 0 1,0 2.3,0a1.1,1.1 0 1,0 -2.3,0M392.5,537.6a1.1,1.1 0 1,0 2.3,0a1.1,1.1 0 1,0 -2.3,0M395.3,537.6a1.1,1.1 0 1,0 2.3,0a1.1,1.1 0 1,0 -2.3,0M398.1,537.6a1.1,1.1 0 1,0 2.3,0a1.1,1.1 0 1,0 -2.3,0M400.9,537.6a1.1,1.1 0 1,0 2.3,0a1.1,1.1 0 1,0 -2.3,0M403.7,537.6a1.1,1.1 0 1,0 2.3,0a1.1,1.1 0 1,0 -2.3,0M406.5,537.6a1.1,1.1 0 1,0 2.3,0a1.1,1.1 0 1,0 -2.3,0M389.7,534.6a1.1,1.1 0 1,0 2.3,0a1.1,1.1 0 1,0 -2.3,0M392.5,534.6a1.1,1.1 0 1,0 2.3,0a1.1,1.1 0 1,0 -2.3,0M395.3,534.6a1.1,1.1 0 1,0 2.3,0a1.1,1.1 0 1,0 -2.3,0M398.1,534.6a1.1,1.1 0 1,0 2.3,0a1.1,1.1 0 1,0 -2.3,0M400.9,534.6a1.1,1.1 0 1,0 2.3,0a1.1,1.1 0 1,0 -2.3,0M403.7,534.6a1.1,1.1 0 1,0 2.3,0a1.1,1.1 0 1,0 -2.3,0M389.7,531.5a1.1,1.1 0 1,0 2.3,0a1.1,1.1 0 1,0 -2.3,0M392.5,531.5a1.1,1.1 0 1,0 2.3,0a1.1,1.1 0 1,0 -2.3,0M395.3,531.5a1.1,1.1 0 1,0 2.3,0a1.1,1.1 0 1,0 -2.3,0M398.1,531.5a1.1,1.1 0 1,0 2.3,0a1.1,1.1 0 1,0 -2.3,0M400.9,531.5a1.1,1.1 0 1,0 2.3,0a1.1,1.1 0 1,0 -2.3,0M403.7,531.5a1.1,1.1 0 1,0 2.3,0a1.1,1.1 0 1,0 -2.3,0M391.1,528.5a1.1,1.1 0 1,0 2.3,0a1.1,1.1 0 1,0 -2.3,0M393.9,528.5a1.1,1.1 0 1,0 2.3,0a1.1,1.1 0 1,0 -2.3,0M396.7,528.5a1.1,1.1 0 1,0 2.3,0a1.1,1.1 0 1,0 -2.3,0M399.5,528.5a1.1,1.1 0 1,0 2.3,0a1.1,1.1 0 1,0 -2.3,0M402.3,528.5a1.1,1.1 0 1,0 2.3,0a1.1,1.1 0 1,0 -2.3,0M392.5,525.4a1.1,1.1 0 1,0 2.3,0a1.1,1.1 0 1,0 -2.3,0M395.3,525.4a1.1,1.1 0 1,0 2.3,0a1.1,1.1 0 1,0 -2.3,0M398.1,525.4a1.1,1.1 0 1,0 2.3,0a1.1,1.1 0 1,0 -2.3,0M400.9,525.4a1.1,1.1 0 1,0 2.3,0a1.1,1.1 0 1,0 -2.3,0M392.5,522.4a1.1,1.1 0 1,0 2.3,0a1.1,1.1 0 1,0 -2.3,0M395.3,522.4a1.1,1.1 0 1,0 2.3,0a1.1,1.1 0 1,0 -2.3,0M398.1,522.4a1.1,1.1 0 1,0 2.3,0a1.1,1.1 0 1,0 -2.3,0M400.9,522.4a1.1,1.1 0 1,0 2.3,0a1.1,1.1 0 1,0 -2.3,0M392.5,519.3a1.1,1.1 0 1,0 2.3,0a1.1,1.1 0 1,0 -2.3,0M395.3,519.3a1.1,1.1 0 1,0 2.3,0a1.1,1.1 0 1,0 -2.3,0M398.1,519.3a1.1,1.1 0 1,0 2.3,0a1.1,1.1 0 1,0 -2.3,0M400.9,519.3a1.1,1.1 0 1,0 2.3,0a1.1,1.1 0 1,0 -2.3,0M393.9,516.3a1.1,1.1 0 1,0 2.3,0a1.1,1.1 0 1,0 -2.3,0M396.7,516.3a1.1,1.1 0 1,0 2.3,0a1.1,1.1 0 1,0 -2.3,0M399.5,516.3a1.1,1.1 0 1,0 2.3,0a1.1,1.1 0 1,0 -2.3,0M393.9,513.2a1.1,1.1 0 1,0 2.3,0a1.1,1.1 0 1,0 -2.3,0M396.7,513.2a1.1,1.1 0 1,0 2.3,0a1.1,1.1 0 1,0 -2.3,0M399.5,513.2a1.1,1.1 0 1,0 2.3,0a1.1,1.1 0 1,0 -2.3,0M393.9,510.2a1.1,1.1 0 1,0 2.3,0a1.1,1.1 0 1,0 -2.3,0M396.7,510.2a1.1,1.1 0 1,0 2.3,0a1.1,1.1 0 1,0 -2.3,0M399.5,510.2a1.1,1.1 0 1,0 2.3,0a1.1,1.1 0 1,0 -2.3,0M395.3,507.1a1.1,1.1 0 1,0 2.3,0a1.1,1.1 0 1,0 -2.3,0M398.1,507.1a1.1,1.1 0 1,0 2.3,0a1.1,1.1 0 1,0 -2.3,0M395.3,504.1a1.1,1.1 0 1,0 2.3,0a1.1,1.1 0 1,0 -2.3,0M398.1,504.1a1.1,1.1 0 1,0 2.3,0a1.1,1.1 0 1,0 -2.3,0M396.7,468.9a1.1,1.1 0 1,0 2.3,0a1.1,1.1 0 1,0 -2.3,0M396.7,481.1a1.1,1.1 0 1,0 2.3,0a1.1,1.1 0 1,0 -2.3,0M396.7,497.9a1.1,1.1 0 1,0 2.3,0a1.1,1.1 0 1,0 -2.3,0M394.4,501.7a1.1,1.1 0 1,0 2.3,0a1.1,1.1 0 1,0 -2.3,0M397.6,502.2a1.1,1.1 0 1,0 2.3,0a1.1,1.1 0 1,0 -2.3,0" fill="#2873c0" stroke="none" stroke-width="1"/>
<path d="M428.4,552.9a1.1,1.1 0 1,0 2.2,0a1.1,1.1 0 1,0 -2.2,0M431.4,552.9a1.1,1.1 0 1,0 2.2,0a1.1,1.1 0 1,0 -2.2,0M425.3,549.8a1.1,1.1 0 1,0 2.2,0a1.1,1.1 0 1,0 -2.2,0M428.4,549.8a1.1,1.1 0 1,0 2.2,0a1.1,1.1 0 1,0 -2.2,0M431.4,549.8a1.1,1.1 0 1,0 2.2,0a1.1,1.1 0 1,0 -2.2,0M434.5,549.8a1.1,1.1 0 1,0 2.2,0a1.1,1.1 0 1,0 -2.2,0M422.3,546.8a1.1,1.1 0 1,0 2.2,0a1.1,1.1 0 1,0 -2.2,0M425.3,546.8a1.1,1.1 0 1,0 2.2,0a1.1,1.1 0 1,0 -2.2,0M428.4,546.8a1.1,1.1 0 1,0 2.2,0a1.1,1.1 0 1,0 -2.2,0M431.4,546.8a1.1,1.1 0 1,0 2.2,0a1.1,1.1 0 1,0 -2.2,0M434.5,546.8a1.1,1.1 0 1,0 2.2,0a1.1,1.1 0 1,0 -2.2,0M437.5,546.8a1.1,1.1 0 1,0 2.2,0a1.1,1.1 0 1,0 -2.2,0M420.8,543.7a1.1,1.1 0 1,0 2.2,0a1.1,1.1 0 1,0 -2.2,0M423.8,543.7a1.1,1.1 0 1,0 2.2,0a1.1,1.1 0 1,0 -2.2,0M426.8,543.7a1.1,1.1 0 1,0 2.2,0a1.1,1.1 0 1,0 -2.2,0M429.9,543.7a1.1,1.1 0 1,0 2.2,0a1.1,1.1 0 1,0 -2.2,0M432.9,543.7a1.1,1.1 0 1,0 2.2,0a1.1,1.1 0 1,0 -2.2,0M436.0,543.7a1.1,1.1 0 1,0 2.2,0a1.1,1.1 0 1,0 -2.2,0M439.0,543.7a1.1,1.1 0 1,0 2.2,0a1.1,1.1 0 1,0 -2.2,0M422.3,540.7a1.1,1.1 0 1,0 2.2,0a1.1,1.1 0 1,0 -2.2,0M425.3,540.7a1.1,1.1 0 1,0 2.2,0a1.1,1.1 0 1,0 -2.2,0M428.4,540.7a1.1,1.1 0 1,0 2.2,0a1.1,1.1 0 1,0 -2.2,0M431.4,540.7a1.1,1.1 0 1,0 2.2,0a1.1,1.1 0 1,0 -2.2,0M434.5,540.7a1.1,1.1 0 1,0 2.2,0a1.1,1.1 0 1,0 -2.2,0M437.5,540.7a1.1,1.1 0 1,0 2.2,0a1.1,1.1 0 1,0 -2.2,0M420.8,537.6a1.1,1.1 0 1,0 2.2,0a1.1,1.1 0 1,0 -2.2,0M423.8,537.6a1.1,1.1 0 1,0 2.2,0a1.1,1.1 0 1,0 -2.2,0M426.8,537.6a1.1,1.1 0 1,0 2.2,0a1.1,1.1 0 1,0 -2.2,0M429.9,537.6a1.1,1.1 0 1,0 2.2,0a1.1,1.1 0 1,0 -2.2,0M432.9,537.6a1.1,1.1 0 1,0 2.2,0a1.1,1.1 0 1,0 -2.2,0M436.0,537.6a1.1,1.1 0 1,0 2.2,0a1.1,1.1 0 1,0 -2.2,0M439.0,537.6a1.1,1.1 0 1,0 2.2,0a1.1,1.1 0 1,0 -2.2,0M423.8,534.6a1.1,1.1 0 1,0 2.2,0a1.1,1.1 0 1,0 -2.2,0M426.8,534.6a1.1,1.1 0 1,0 2.2,0a1.1,1.1 0 1,0 -2.2,0M429.9,534.6a1.1,1.1 0 1,0 2.2,0a1.1,1.1 0 1,0 -2.2,0M432.9,534.6a1.1,1.1 0 1,0 2.2,0a1.1,1.1 0 1,0 -2.2,0M436.0,534.6a1.1,1.1 0 1,0 2.2,0a1.1,1.1 0 1,0 -2.2,0M422.3,531.5a1.1,1.1 0 1,0 2.2,0a1.1,1.1 0 1,0 -2.2,0M425.3,531.5a1.1,1.1 0 1,0 2.2,0a1.1,1.1 0 1,0 -2.2,0M428.4,531.5a1.1,1.1 0 1,0 2.2,0a1.1,1.1 0 1,0 -2.2,0M431.4,531.5a1.1,1.1 0 1,0 2.2,0a1.1,1.1 0 1,0 -2.2,0M434.5,531.5a1.1,1.1 0 1,0 2.2,0a1.1,1.1 0 1,0 -2.2,0M437.5,531.5a1.1,1.1 0 1,0 2.2,0a1.1,1.1 0 1,0 -2.2,0M423.8,528.5a1.1,1.1 0 1,0 2.2,0a1.1,1.1 0 1,0 -2.2,0M426.8,528.5a1.1,1.1 0 1,0 2.2,0a1.1,1.1 0 1,0 -2.2,0M429.9,528.5a1.1,1.1 0 1,0 2.2,0a1.1,1.1 0 1,0 -2.2,0M432.9,528.5a1.1,1.1 0 1,0 2.2,0a1.1,1.1 0 1,0 -2.2,0M436.0,528.5a1.1,1.1 0 1,0 2.2,0a1.1,1.1 0 1,0 -2.2,0M420.8,525.4a1.1,1.1 0 1,0 2.2,0a1.1,1.1 0 1,0 -2.2,0M423.8,525.4a1.1,1.1 0 1,0 2.2,0a1.1,1.1 0 1,0 -2.2,0M426.8,525.4a1.1,1.1 0 1,0 2.2,0a1.1,1.1 0 1,0 -2.2,0M429.9,525.4a1.1,1.1 0 1,0 2.2,0a1.1,1.1 0 1,0 -2.2,0M432.9,525.4a1.1,1.1 0 1,0 2.2,0a1.1,1.1 0 1,0 -2.2,0M436.0,525.4a1.1,1.1 0 1,0 2.2,0a1.1,1.1 0 1,0 -2.2,0M439.0,525.4a1.1,1.1 0 1,0 2.2,0a1.1,1.1 0 1,0 -2.2,0M420.8,522.4a1.1,1.1 0 1,0 2.2,0a1.1,1.1 0 1,0 -2.2,0M423.8,522.4a1.1,1.1 0 1,0 2.2,0a1.1,1.1 0 1,0 -2.2,0M426.8,522.4a1.1,1.1 0 1,0 2.2,0a1.1,1.1 0 1,0 -2.2,0M429.9,522.4a1.1,1.1 0 1,0 2.2,0a1.1,1.1 0 1,0 -2.2,0M432.9,522.4a1.1,1.1 0 1,0 2.2,0a1.1,1.1 0 1,0 -2.2,0M436.0,522.4a1.1,1.1 0 1,0 2.2,0a1.1,1.1 0 1,0 -2.2,0M439.0,522.4a1.1,1.1 0 1,0 2.2,0a1.1,1.1 0 1,0 -2.2,0M420.8,519.3a1.1,1.1 0 1,0 2.2,0a1.1,1.1 0 1,0 -2.2,0M423.8,519.3a1.1,1.1 0 1,0 2.2,0a1.1,1.1 0 1,0 -2.2,0M426.8,519.3a1.1,1.1 0 1,0 2.2,0a1.1,1.1 0 1,0 -2.2,0M429.9,519.3a1.1,1.1 0 1,0 2.2,0a1.1,1.1 0 1,0 -2.2,0M432.9,519.3a1.1,1.1 0 1,0 2.2,0a1.1,1.1 0 1,0 -2.2,0M436.0,519.3a1.1,1.1 0 1,0 2.2,0a1.1,1.1 0 1,0 -2.2,0M439.0,519.3a1.1,1.1 0 1,0 2.2,0a1.1,1.1 0 1,0 -2.2,0M420.8,516.3a1.1,1.1 0 1,0 2.2,0a1.1,1.1 0 1,0 -2.2,0M423.8,516.3a1.1,1.1 0 1,0 2.2,0a1.1,1.1 0 1,0 -2.2,0M426.8,516.3a1.1,1.1 0 1,0 2.2,0a1.1,1.1 0 1,0 -2.2,0M429.9,516.3a1.1,1.1 0 1,0 2.2,0a1.1,1.1 0 1,0 -2.2,0M432.9,516.3a1.1,1.1 0 1,0 2.2,0a1.1,1.1 0 1,0 -2.2,0M436.0,516.3a1.1,1.1 0 1,0 2.2,0a1.1,1.1 0 1,0 -2.2,0M439.0,516.3a1.1,1.1 0 1,0 2.2,0a1.1,1.1 0 1,0 -2.2,0M422.3,513.2a1.1,1.1 0 1,0 2.2,0a1.1,1.1 0 1,0 -2.2,0M425.3,513.2a1.1,1.1 0 1,0 2.2,0a1.1,1.1 0 1,0 -2.2,0M428.4,513.2a1.1,1.1 0 1,0 2.2,0a1.1,1.1 0 1,0 -2.2,0M431.4,513.2a1.1,1.1 0 1,0 2.2,0a1.1,1.1 0 1,0 -2.2,0M434.5,513.2a1.1,1.1 0 1,0 2.2,0a1.1,1.1 0 1,0 -2.2,0M437.5,513.2a1.1,1.1 0 1,0 2.2,0a1.1,1.1 0 1,0 -2.2,0M422.3,510.2a1.1,1.1 0 1,0 2.2,0a1.1,1.1 0 1,0 -2.2,0M425.3,510.2a1.1,1.1 0 1,0 2.2,0a1.1,1.1 0 1,0 -2.2,0M428.4,510.2a1.1,1.1 0 1,0 2.2,0a1.1,1.1 0 1,0 -2.2,0M431.4,510.2a1.1,1.1 0 1,0 2.2,0a1.1,1.1 0 1,0 -2.2,0M434.5,510.2a1.1,1.1 0 1,0 2.2,0a1.1,1.1 0 1,0 -2.2,0M437.5,510.2a1.1,1.1 0 1,0 2.2,0a1.1,1.1 0 1,0 -2.2,0M423.8,507.1a1.1,1.1 0 1,0 2.2,0a1.1,1.1 0 1,0 -2.2,0M426.8,507.1a1.1,1.1 0 1,0 2.2,0a1.1,1.1 0 1,0 -2.2,0M429.9,507.1a1.1,1.1 0 1,0 2.2,0a1.1,1.1 0 1,0 -2.2,0M432.9,507.1a1.1,1.1 0 1,0 2.2,0a1.1,1.1 0 1,0 -2.2,0M436.0,507.1a1.1,1.1 0 1,0 2.2,0a1.1,1.1 0 1,0 -2.2,0M426.8,504.1a1.1,1.1 0 1,0 2.2,0a1.1,1.1 0 1,0 -2.2,0M429.9,504.1a1.1,1.1 0 1,0 2.2,0a1.1,1.1 0 1,0 -2.2,0M432.9,504.1a1.1,1.1 0 1,0 2.2,0a1.1,1.1 0 1,0 -2.2,0M429.9,474.1a1.1,1.1 0 1,0 2.2,0a1.1,1.1 0 1,0 -2.2,0M429.9,479.1a1.1,1.1 0 1,0 2.2,0a1.1,1.1 0 1,0 -2.2,0M426.7,490.7a1.1,1.1 0 1,0 2.2,0a1.1,1.1 0 1,0 -2.2,0M429.8,489.8a1.1,1.1 0 1,0 2.2,0a1.1,1.1 0 1,0 -2.2,0M433.4,490.7a1.1,1.1 0 1,0 2.2,0a1.1,1.1 0 1,0 -2.2,0" fill="#e2572a" stroke="none" stroke-width="1"/>
<line x1="386.6" y1="535.3" x2="409.0" y2="535.3" stroke="#111" stroke-width="1.2"/>
<line x1="419.8" y1="523.4" x2="442.2" y2="523.4" stroke="#111" stroke-width="1.2"/>
<text x="395.3" y="568.8" font-size="8.4" text-anchor="middle" fill="#1a1a1a">NAT</text>
<text x="430.5" y="568.8" font-size="8.4" text-anchor="middle" fill="#1a1a1a">T</text>
<text x="352.2" y="496.8" font-size="7.8" text-anchor="middle" fill="#1a1a1a" transform="rotate(-90 352.2 496.8)">Relative STN1 protein level</text>
<text x="531.0" y="428.0" font-size="17" text-anchor="start" fill="#000" font-weight="bold">j</text>
<line x1="589.5" y1="439.7" x2="589.5" y2="555.6" stroke="#111" stroke-width="1.1"/>
<line x1="589.5" y1="555.6" x2="666.4" y2="555.6" stroke="#111" stroke-width="1.1"/>
<line x1="584.7" y1="555.6" x2="589.5" y2="555.6" stroke="#111" stroke-width="1.0"/>
<text x="580.2" y="558.7" font-size="8.8" text-anchor="end" fill="#1a1a1a">0</text>
<line x1="584.7" y1="517.0" x2="589.5" y2="517.0" stroke="#111" stroke-width="1.0"/>
<text x="580.2" y="520.1" font-size="8.8" text-anchor="end" fill="#1a1a1a">10</text>
<line x1="584.7" y1="478.3" x2="589.5" y2="478.3" stroke="#111" stroke-width="1.0"/>
<text x="580.2" y="481.4" font-size="8.8" text-anchor="end" fill="#1a1a1a">20</text>
<line x1="584.7" y1="439.7" x2="589.5" y2="439.7" stroke="#111" stroke-width="1.0"/>
<text x="580.2" y="442.8" font-size="8.8" text-anchor="end" fill="#1a1a1a">30</text>
<text x="628.4" y="433.0" font-size="8.1" text-anchor="middle" fill="#1a1a1a">P = 0.0223</text>
<path d="M611.3,442.2 L611.3,435.5 L644.6,435.5 L644.6,466.5" fill="none" stroke="#111" stroke-width="0.9"/>
<path d="M608.3,552.5a1.1,1.1 0 1,0 2.2,0a1.1,1.1 0 1,0 -2.2,0M612.1,552.5a1.1,1.1 0 1,0 2.2,0a1.1,1.1 0 1,0 -2.2,0M604.5,548.7a1.1,1.1 0 1,0 2.2,0a1.1,1.1 0 1,0 -2.2,0M608.3,548.7a1.1,1.1 0 1,0 2.2,0a1.1,1.1 0 1,0 -2.2,0M612.1,548.7a1.1,1.1 0 1,0 2.2,0a1.1,1.1 0 1,0 -2.2,0M615.9,548.7a1.1,1.1 0 1,0 2.2,0a1.1,1.1 0 1,0 -2.2,0M602.6,544.9a1.1,1.1 0 1,0 2.2,0a1.1,1.1 0 1,0 -2.2,0M606.4,544.9a1.1,1.1 0 1,0 2.2,0a1.1,1.1 0 1,0 -2.2,0M610.2,544.9a1.1,1.1 0 1,0 2.2,0a1.1,1.1 0 1,0 -2.2,0M614.0,544.9a1.1,1.1 0 1,0 2.2,0a1.1,1.1 0 1,0 -2.2,0M617.8,544.9a1.1,1.1 0 1,0 2.2,0a1.1,1.1 0 1,0 -2.2,0M600.7,541.1a1.1,1.1 0 1,0 2.2,0a1.1,1.1 0 1,0 -2.2,0M604.5,541.1a1.1,1.1 0 1,0 2.2,0a1.1,1.1 0 1,0 -2.2,0M608.3,541.1a1.1,1.1 0 1,0 2.2,0a1.1,1.1 0 1,0 -2.2,0M612.1,541.1a1.1,1.1 0 1,0 2.2,0a1.1,1.1 0 1,0 -2.2,0M615.9,541.1a1.1,1.1 0 1,0 2.2,0a1.1,1.1 0 1,0 -2.2,0M619.7,541.1a1.1,1.1 0 1,0 2.2,0a1.1,1.1 0 1,0 -2.2,0M602.6,537.3a1.1,1.1 0 1,0 2.2,0a1.1,1.1 0 1,0 -2.2,0M606.4,537.3a1.1,1.1 0 1,0 2.2,0a1.1,1.1 0 1,0 -2.2,0M610.2,537.3a1.1,1.1 0 1,0 2.2,0a1.1,1.1 0 1,0 -2.2,0M614.0,537.3a1.1,1.1 0 1,0 2.2,0a1.1,1.1 0 1,0 -2.2,0M617.8,537.3a1.1,1.1 0 1,0 2.2,0a1.1,1.1 0 1,0 -2.2,0M604.5,533.5a1.1,1.1 0 1,0 2.2,0a1.1,1.1 0 1,0 -2.2,0M608.3,533.5a1.1,1.1 0 1,0 2.2,0a1.1,1.1 0 1,0 -2.2,0M612.1,533.5a1.1,1.1 0 1,0 2.2,0a1.1,1.1 0 1,0 -2.2,0M615.9,533.5a1.1,1.1 0 1,0 2.2,0a1.1,1.1 0 1,0 -2.2,0M606.4,529.7a1.1,1.1 0 1,0 2.2,0a1.1,1.1 0 1,0 -2.2,0M610.2,529.7a1.1,1.1 0 1,0 2.2,0a1.1,1.1 0 1,0 -2.2,0M614.0,529.7a1.1,1.1 0 1,0 2.2,0a1.1,1.1 0 1,0 -2.2,0M602.6,525.9a1.1,1.1 0 1,0 2.2,0a1.1,1.1 0 1,0 -2.2,0M606.4,525.9a1.1,1.1 0 1,0 2.2,0a1.1,1.1 0 1,0 -2.2,0M610.2,525.9a1.1,1.1 0 1,0 2.2,0a1.1,1.1 0 1,0 -2.2,0M614.0,525.9a1.1,1.1 0 1,0 2.2,0a1.1,1.1 0 1,0 -2.2,0M617.8,525.9a1.1,1.1 0 1,0 2.2,0a1.1,1.1 0 1,0 -2.2,0M600.7,522.1a1.1,1.1 0 1,0 2.2,0a1.1,1.1 0 1,0 -2.2,0M604.5,522.1a1.1,1.1 0 1,0 2.2,0a1.1,1.1 0 1,0 -2.2,0M608.3,522.1a1.1,1.1 0 1,0 2.2,0a1.1,1.1 0 1,0 -2.2,0M612.1,522.1a1.1,1.1 0 1,0 2.2,0a1.1,1.1 0 1,0 -2.2,0M615.9,522.1a1.1,1.1 0 1,0 2.2,0a1.1,1.1 0 1,0 -2.2,0M619.7,522.1a1.1,1.1 0 1,0 2.2,0a1.1,1.1 0 1,0 -2.2,0M602.6,518.3a1.1,1.1 0 1,0 2.2,0a1.1,1.1 0 1,0 -2.2,0M606.4,518.3a1.1,1.1 0 1,0 2.2,0a1.1,1.1 0 1,0 -2.2,0M610.2,518.3a1.1,1.1 0 1,0 2.2,0a1.1,1.1 0 1,0 -2.2,0M614.0,518.3a1.1,1.1 0 1,0 2.2,0a1.1,1.1 0 1,0 -2.2,0M617.8,518.3a1.1,1.1 0 1,0 2.2,0a1.1,1.1 0 1,0 -2.2,0M600.7,514.5a1.1,1.1 0 1,0 2.2,0a1.1,1.1 0 1,0 -2.2,0M604.5,514.5a1.1,1.1 0 1,0 2.2,0a1.1,1.1 0 1,0 -2.2,0M608.3,514.5a1.1,1.1 0 1,0 2.2,0a1.1,1.1 0 1,0 -2.2,0M612.1,514.5a1.1,1.1 0 1,0 2.2,0a1.1,1.1 0 1,0 -2.2,0M615.9,514.5a1.1,1.1 0 1,0 2.2,0a1.1,1.1 0 1,0 -2.2,0M619.7,514.5a1.1,1.1 0 1,0 2.2,0a1.1,1.1 0 1,0 -2.2,0M602.6,510.7a1.1,1.1 0 1,0 2.2,0a1.1,1.1 0 1,0 -2.2,0M606.4,510.7a1.1,1.1 0 1,0 2.2,0a1.1,1.1 0 1,0 -2.2,0M610.2,510.7a1.1,1.1 0 1,0 2.2,0a1.1,1.1 0 1,0 -2.2,0M614.0,510.7a1.1,1.1 0 1,0 2.2,0a1.1,1.1 0 1,0 -2.2,0M617.8,510.7a1.1,1.1 0 1,0 2.2,0a1.1,1.1 0 1,0 -2.2,0M600.7,506.9a1.1,1.1 0 1,0 2.2,0a1.1,1.1 0 1,0 -2.2,0M604.5,506.9a1.1,1.1 0 1,0 2.2,0a1.1,1.1 0 1,0 -2.2,0M608.3,506.9a1.1,1.1 0 1,0 2.2,0a1.1,1.1 0 1,0 -2.2,0M612.1,506.9a1.1,1.1 0 1,0 2.2,0a1.1,1.1 0 1,0 -2.2,0M615.9,506.9a1.1,1.1 0 1,0 2.2,0a1.1,1.1 0 1,0 -2.2,0M619.7,506.9a1.1,1.1 0 1,0 2.2,0a1.1,1.1 0 1,0 -2.2,0M604.5,503.1a1.1,1.1 0 1,0 2.2,0a1.1,1.1 0 1,0 -2.2,0M608.3,503.1a1.1,1.1 0 1,0 2.2,0a1.1,1.1 0 1,0 -2.2,0M612.1,503.1a1.1,1.1 0 1,0 2.2,0a1.1,1.1 0 1,0 -2.2,0M615.9,503.1a1.1,1.1 0 1,0 2.2,0a1.1,1.1 0 1,0 -2.2,0M606.4,499.3a1.1,1.1 0 1,0 2.2,0a1.1,1.1 0 1,0 -2.2,0M610.2,499.3a1.1,1.1 0 1,0 2.2,0a1.1,1.1 0 1,0 -2.2,0M614.0,499.3a1.1,1.1 0 1,0 2.2,0a1.1,1.1 0 1,0 -2.2,0M610.2,448.8a1.1,1.1 0 1,0 2.2,0a1.1,1.1 0 1,0 -2.2,0M610.2,455.3a1.1,1.1 0 1,0 2.2,0a1.1,1.1 0 1,0 -2.2,0M608.4,471.1a1.1,1.1 0 1,0 2.2,0a1.1,1.1 0 1,0 -2.2,0M611.9,473.1a1.1,1.1 0 1,0 2.2,0a1.1,1.1 0 1,0 -2.2,0M608.4,483.3a1.1,1.1 0 1,0 2.2,0a1.1,1.1 0 1,0 -2.2,0M611.9,484.2a1.1,1.1 0 1,0 2.2,0a1.1,1.1 0 1,0 -2.2,0M610.2,490.1a1.1,1.1 0 1,0 2.2,0a1.1,1.1 0 1,0 -2.2,0M610.2,494.7a1.1,1.1 0 1,0 2.2,0a1.1,1.1 0 1,0 -2.2,0" fill="#f5a336" stroke="none" stroke-width="1"/>
<path d="M643.2,473.5a1.1,1.1 0 1,0 2.2,0a1.1,1.1 0 1,0 -2.2,0M650.8,485.0a1.1,1.1 0 1,0 2.2,0a1.1,1.1 0 1,0 -2.2,0M636.4,488.4a1.1,1.1 0 1,0 2.2,0a1.1,1.1 0 1,0 -2.2,0M636.4,491.0a1.1,1.1 0 1,0 2.2,0a1.1,1.1 0 1,0 -2.2,0M641.1,487.6a1.1,1.1 0 1,0 2.2,0a1.1,1.1 0 1,0 -2.2,0M645.7,488.1a1.1,1.1 0 1,0 2.2,0a1.1,1.1 0 1,0 -2.2,0M641.1,491.0a1.1,1.1 0 1,0 2.2,0a1.1,1.1 0 1,0 -2.2,0M645.7,490.6a1.1,1.1 0 1,0 2.2,0a1.1,1.1 0 1,0 -2.2,0M641.1,495.2a1.1,1.1 0 1,0 2.2,0a1.1,1.1 0 1,0 -2.2,0M645.7,494.7a1.1,1.1 0 1,0 2.2,0a1.1,1.1 0 1,0 -2.2,0M643.2,499.8a1.1,1.1 0 1,0 2.2,0a1.1,1.1 0 1,0 -2.2,0M643.2,505.1a1.1,1.1 0 1,0 2.2,0a1.1,1.1 0 1,0 -2.2,0M643.2,508.0a1.1,1.1 0 1,0 2.2,0a1.1,1.1 0 1,0 -2.2,0M638.9,511.4a1.1,1.1 0 1,0 2.2,0a1.1,1.1 0 1,0 -2.2,0M647.9,510.2a1.1,1.1 0 1,0 2.2,0a1.1,1.1 0 1,0 -2.2,0M643.2,512.2a1.1,1.1 0 1,0 2.2,0a1.1,1.1 0 1,0 -2.2,0M643.2,514.8a1.1,1.1 0 1,0 2.2,0a1.1,1.1 0 1,0 -2.2,0M641.1,519.0a1.1,1.1 0 1,0 2.2,0a1.1,1.1 0 1,0 -2.2,0M645.7,518.5a1.1,1.1 0 1,0 2.2,0a1.1,1.1 0 1,0 -2.2,0M641.1,536.0a1.1,1.1 0 1,0 2.2,0a1.1,1.1 0 1,0 -2.2,0M645.7,534.0a1.1,1.1 0 1,0 2.2,0a1.1,1.1 0 1,0 -2.2,0M641.1,547.0a1.1,1.1 0 1,0 2.2,0a1.1,1.1 0 1,0 -2.2,0M645.7,546.5a1.1,1.1 0 1,0 2.2,0a1.1,1.1 0 1,0 -2.2,0" fill="#e5502a" stroke="none" stroke-width="1"/>
<line x1="600.6" y1="517.9" x2="622.2" y2="517.9" stroke="#111" stroke-width="1.2"/>
<line x1="634.1" y1="502.2" x2="655.7" y2="502.2" stroke="#111" stroke-width="1.2"/>
<text x="610.4" y="570.4" font-size="8.4" text-anchor="middle" fill="#1a1a1a">M0</text>
<text x="642.2" y="570.4" font-size="8.4" text-anchor="middle" fill="#1a1a1a">M1</text>
<text x="566.3" y="499.3" font-size="7.8" text-anchor="middle" fill="#1a1a1a" transform="rotate(-90 566.3 499.3)">Relative STN1 protein level</text>
<text x="332.0" y="576.5" font-size="17" text-anchor="start" fill="#000" font-weight="bold">k</text>
<rect x="370.7" y="597.3" width="93.8" height="57.8" fill="#fff" stroke="none" stroke-width="1"/>
<line x1="374.5" y1="597.3" x2="374.5" y2="655.1" stroke="#e2e2e2" stroke-width="0.5"/>
<line x1="388.9" y1="597.3" x2="388.9" y2="655.1" stroke="#ececec" stroke-width="0.5"/>
<line x1="403.3" y1="597.3" x2="403.3" y2="655.1" stroke="#e2e2e2" stroke-width="0.5"/>
<line x1="417.6" y1="597.3" x2="417.6" y2="655.1" stroke="#ececec" stroke-width="0.5"/>
<line x1="432.0" y1="597.3" x2="432.0" y2="655.1" stroke="#e2e2e2" stroke-width="0.5"/>
<line x1="446.4" y1="597.3" x2="446.4" y2="655.1" stroke="#ececec" stroke-width="0.5"/>
<line x1="460.8" y1="597.3" x2="460.8" y2="655.1" stroke="#e2e2e2" stroke-width="0.5"/>
<line x1="370.7" y1="652.5" x2="464.5" y2="652.5" stroke="#ececec" stroke-width="0.5"/>
<line x1="370.7" y1="645.9" x2="464.5" y2="645.9" stroke="#ececec" stroke-width="0.5"/>
<line x1="370.7" y1="639.4" x2="464.5" y2="639.4" stroke="#ececec" stroke-width="0.5"/>
<line x1="370.7" y1="632.8" x2="464.5" y2="632.8" stroke="#ececec" stroke-width="0.5"/>
<line x1="370.7" y1="626.2" x2="464.5" y2="626.2" stroke="#ececec" stroke-width="0.5"/>
<line x1="370.7" y1="619.7" x2="464.5" y2="619.7" stroke="#ececec" stroke-width="0.5"/>
<line x1="370.7" y1="613.1" x2="464.5" y2="613.1" stroke="#ececec" stroke-width="0.5"/>
<line x1="370.7" y1="606.6" x2="464.5" y2="606.6" stroke="#ececec" stroke-width="0.5"/>
<line x1="370.7" y1="600.0" x2="464.5" y2="600.0" stroke="#ececec" stroke-width="0.5"/>
<path d="M374.5,600.0 H375.2 V600.6 H375.9 V601.8 H376.6 V602.4 H377.3 V603.0 H378.0 V604.2 H378.6 V604.8 H379.3 V606.0 H380.0 V606.6 H380.7 V607.8 H381.4 V608.9 H382.1 V610.7 H382.8 V611.9 H383.5 V613.1 H384.2 V614.9 H384.9 V616.1 H385.5 V617.9 H386.2 V619.1 H386.9 V620.9 H387.6 V622.1 H388.3 V623.9 H389.0 V625.7 H389.7 V627.4 H390.4 V629.2 H391.1 V630.4 H391.8 V632.2 H392.5 V633.4 H393.1 V634.6 H393.8 V635.8 H394.5 V637.0 H395.2 V638.2 H395.9 V638.8 H396.6 V638.8 H397.3 V638.8 H398.0 V638.8 H398.7 V638.8 H399.4 V638.8 H400.0 V638.8 H400.7 V638.8 H401.4 V638.8 H402.1 V638.8 H402.8 V638.8 H403.5 V638.8 H404.2 V638.8 H404.9 V638.8 H405.6 V638.8 H406.3 V640.0 H406.9 V641.2 H407.6 V641.2 H408.3 V641.2 H409.0 V641.2 H409.7 V641.2 H410.4 V641.2 H411.1 V641.2 H411.8 V641.2 H412.5 V641.2 H413.2 V641.2 H413.9 V641.2 H414.5 V641.2 H415.2 V641.2 H415.9 V641.2 H416.6 V641.2 H417.3 V641.2 H418.0 V645.3 H418.7 V645.3 H419.4 V645.3 H420.1 V645.3 H420.8 V645.3 H421.4 V645.3 H422.1 V645.3 H422.8 V645.3 H423.5 V645.3 H424.2 V645.3 H424.9 V645.3 H425.6 V645.3 H426.3 V645.3 H427.0 V645.3 H427.7 V645.3 H428.4 V645.3 H429.0 V645.3 H429.7 V645.3 H430.4 V645.3 H431.1 V645.3 H431.8 V645.3 H432.5 V645.3 H433.2 V645.3 H433.9 V645.3 H434.6 V645.3 H435.3 V645.3 H435.9 V645.3 H436.6 V652.5" fill="none" stroke="#3d86c6" stroke-width="0.9"/>
<path d="M374.5,600.0 H375.4 V601.2 H376.2 V601.8 H377.1 V603.0 H378.0 V603.6 H378.9 V604.8 H379.7 V605.4 H380.6 V606.6 H381.5 V607.2 H382.4 V607.2 H383.2 V607.8 H384.1 V608.4 H385.0 V608.9 H385.8 V609.5 H386.7 V610.7 H387.6 V612.5 H388.5 V613.7 H389.3 V614.9 H390.2 V616.1 H391.1 V616.7 H391.9 V617.9 H392.8 V620.9 H393.7 V623.3 H394.6 V625.7 H395.4 V626.8 H396.3 V626.8 H397.2 V627.4 H398.1 V627.4 H398.9 V627.4 H399.8 V628.0 H400.7 V628.0 H401.5 V628.6 H402.4 V628.6 H403.3 V629.2 H404.2 V629.8 H405.0 V629.8 H405.9 V630.4 H406.8 V630.4 H407.6 V631.0 H408.5 V631.6 H409.4 V631.6 H410.3 V632.2 H411.1 V632.8 H412.0 V632.8 H412.9 V633.4 H413.8 V633.4 H414.6 V633.4 H415.5 V633.4 H416.4 V633.4 H417.2 V633.4 H418.1 V633.4 H419.0 V633.4 H419.9 V633.4 H420.7 V633.4 H421.6 V633.4 H422.5 V633.4 H423.3 V633.4 H424.2 V633.4 H425.1 V633.4 H426.0 V633.4 H426.8 V633.4 H427.7 V633.4 H428.6 V633.4 H429.5 V633.4 H430.3 V633.4 H431.2 V633.4 H432.1 V634.0 H432.9 V638.2 H433.8 V638.2 H434.7 V638.2 H435.6 V638.2 H436.4 V638.2 H437.3 V638.2 H438.2 V638.2 H439.0 V638.2 H439.9 V638.2 H440.8 V638.2 H441.7 V638.2 H442.5 V638.2 H443.4 V638.2 H444.3 V638.2 H445.2 V638.2 H446.0 V638.2 H446.9 V638.2 H447.8 V638.2 H448.6 V638.2 H449.5 V638.2 H450.4 V638.2 H451.3 V638.2 H452.1 V638.2 H453.0 V638.2" fill="none" stroke="#e7b040" stroke-width="0.9"/>
<rect x="370.7" y="597.3" width="93.8" height="57.8" fill="none" stroke="#888" stroke-width="0.7"/>
<line x1="368.7" y1="600.0" x2="370.7" y2="600.0" stroke="#333" stroke-width="0.7"/>
<text x="368.1" y="602.7" font-size="7.4" text-anchor="end" fill="#333">1.00</text>
<line x1="368.7" y1="613.1" x2="370.7" y2="613.1" stroke="#333" stroke-width="0.7"/>
<text x="368.1" y="615.8" font-size="7.4" text-anchor="end" fill="#333">0.75</text>
<line x1="368.7" y1="626.2" x2="370.7" y2="626.2" stroke="#333" stroke-width="0.7"/>
<text x="368.1" y="629.0" font-size="7.4" text-anchor="end" fill="#333">0.50</text>
<line x1="368.7" y1="639.4" x2="370.7" y2="639.4" stroke="#333" stroke-width="0.7"/>
<text x="368.1" y="642.1" font-size="7.4" text-anchor="end" fill="#333">0.25</text>
<line x1="368.7" y1="652.5" x2="370.7" y2="652.5" stroke="#333" stroke-width="0.7"/>
<text x="368.1" y="655.2" font-size="7.4" text-anchor="end" fill="#333">0.00</text>
<line x1="374.5" y1="655.1" x2="374.5" y2="657.1" stroke="#333" stroke-width="0.7"/>
<text x="374.5" y="663.3" font-size="7.6" text-anchor="middle" fill="#333">0</text>
<line x1="403.3" y1="655.1" x2="403.3" y2="657.1" stroke="#333" stroke-width="0.7"/>
<text x="403.3" y="663.3" font-size="7.6" text-anchor="middle" fill="#333">1000</text>
<line x1="432.0" y1="655.1" x2="432.0" y2="657.1" stroke="#333" stroke-width="0.7"/>
<text x="432.0" y="663.3" font-size="7.6" text-anchor="middle" fill="#333">2000</text>
<line x1="460.8" y1="655.1" x2="460.8" y2="657.1" stroke="#333" stroke-width="0.7"/>
<text x="460.8" y="663.3" font-size="7.6" text-anchor="middle" fill="#333">3000</text>
<text x="374.0" y="649.2" font-size="8.2" text-anchor="start" fill="#333">p=0.00086</text>
<text x="413.3" y="592.5" font-size="8.2" text-anchor="middle" fill="#1a1a1a">OS of <tspan font-style="italic">STN1</tspan></text>
<text x="346.2" y="624.4" font-size="8.0" text-anchor="middle" fill="#1a1a1a" transform="rotate(-90 346.2 624.4)">Survival probability</text>
<text x="369.5" y="670.6" font-size="7.8" text-anchor="start" fill="#1a1a1a" font-style="italic">STN1</text>
<rect x="370.7" y="673.0" width="93.8" height="14.4" fill="none" stroke="#888" stroke-width="0.7"/>
<text x="368.6" y="679.2" font-size="7.4" text-anchor="end" fill="#3d86c6">group=high</text>
<text x="368.6" y="686.7" font-size="7.4" text-anchor="end" fill="#e7b040">group=low</text>
<text x="373.7" y="679.2" font-size="7.4" text-anchor="start" fill="#333">88</text>
<text x="373.7" y="686.7" font-size="7.4" text-anchor="start" fill="#333">87</text>
<text x="403.3" y="679.2" font-size="7.4" text-anchor="middle" fill="#333">6</text>
<text x="403.3" y="686.7" font-size="7.4" text-anchor="middle" fill="#333">15</text>
<text x="432.0" y="679.2" font-size="7.4" text-anchor="middle" fill="#333">2</text>
<text x="432.0" y="686.7" font-size="7.4" text-anchor="middle" fill="#333">4</text>
<text x="460.3" y="679.2" font-size="7.4" text-anchor="middle" fill="#333">0</text>
<text x="460.3" y="686.7" font-size="7.4" text-anchor="middle" fill="#333">0</text>
<text x="374.5" y="695.4" font-size="7.6" text-anchor="middle" fill="#333">0</text>
<text x="403.3" y="695.4" font-size="7.6" text-anchor="middle" fill="#333">1000</text>
<text x="432.0" y="695.4" font-size="7.6" text-anchor="middle" fill="#333">2000</text>
<text x="460.8" y="695.4" font-size="7.6" text-anchor="middle" fill="#333">3000</text>
<text x="417.7" y="705.5" font-size="8.4" text-anchor="middle" fill="#1a1a1a">Days</text>
<text x="530.0" y="575.5" font-size="17" text-anchor="start" fill="#000" font-weight="bold">l</text>
<line x1="583.0" y1="612.5" x2="583.0" y2="668.3" stroke="#111" stroke-width="1.1"/>
<line x1="583.0" y1="668.3" x2="666.6" y2="668.3" stroke="#111" stroke-width="1.1"/>
<line x1="580.5" y1="668.3" x2="583.0" y2="668.3" stroke="#111" stroke-width="0.9"/>
<text x="579.2" y="671.1" font-size="8" text-anchor="end" fill="#1a1a1a">0</text>
<line x1="580.5" y1="640.4" x2="583.0" y2="640.4" stroke="#111" stroke-width="0.9"/>
<text x="579.2" y="643.2" font-size="8" text-anchor="end" fill="#1a1a1a">50</text>
<line x1="580.5" y1="612.5" x2="583.0" y2="612.5" stroke="#111" stroke-width="0.9"/>
<text x="579.2" y="615.3" font-size="8" text-anchor="end" fill="#1a1a1a">100</text>
<line x1="583.0" y1="668.3" x2="583.0" y2="670.8" stroke="#111" stroke-width="0.9"/>
<text x="583.0" y="681.0" font-size="8" text-anchor="middle" fill="#1a1a1a">0</text>
<line x1="599.7" y1="668.3" x2="599.7" y2="670.8" stroke="#111" stroke-width="0.9"/>
<text x="599.7" y="681.0" font-size="8" text-anchor="middle" fill="#1a1a1a">10</text>
<line x1="616.4" y1="668.3" x2="616.4" y2="670.8" stroke="#111" stroke-width="0.9"/>
<text x="616.4" y="681.0" font-size="8" text-anchor="middle" fill="#1a1a1a">20</text>
<line x1="633.2" y1="668.3" x2="633.2" y2="670.8" stroke="#111" stroke-width="0.9"/>
<text x="633.2" y="681.0" font-size="8" text-anchor="middle" fill="#1a1a1a">30</text>
<line x1="649.9" y1="668.3" x2="649.9" y2="670.8" stroke="#111" stroke-width="0.9"/>
<text x="649.9" y="681.0" font-size="8" text-anchor="middle" fill="#1a1a1a">40</text>
<line x1="666.6" y1="668.3" x2="666.6" y2="670.8" stroke="#111" stroke-width="0.9"/>
<text x="666.6" y="681.0" font-size="8" text-anchor="middle" fill="#1a1a1a">50</text>
<text x="624.5" y="693.3" font-size="8" text-anchor="middle" fill="#1a1a1a">months</text>
<text x="557.8" y="646.7" font-size="8" text-anchor="middle" fill="#1a1a1a" transform="rotate(-90 557.8 646.7)">Percent survival</text>
<path d="M583.0,612.5 H583.0 V612.5 H583.9 V612.5 H584.8 V612.5 H585.7 V612.5 H586.6 V612.5 H587.5 V612.5 H588.4 V612.5 H589.4 V612.5 H590.3 V612.5 H591.2 V613.7 H592.1 V613.7 H593.0 V613.7 H593.9 V615.0 H594.8 V615.0 H595.7 V615.0 H596.6 V616.2 H597.5 V616.2 H598.4 V616.2 H599.3 V617.5 H600.2 V621.2 H601.2 V622.4 H602.1 V622.4 H603.0 V623.7 H603.9 V623.7 H604.8 V624.9 H605.7 V624.9 H606.6 V626.1 H607.5 V627.4 H608.4 V629.9 H609.3 V631.1 H610.2 V632.3 H611.1 V634.8 H612.0 V637.3 H613.0 V638.5 H613.9 V639.8 H614.8 V641.0 H615.7 V641.0 H616.6 V642.3 H617.5 V642.3 H618.4 V642.3 H619.3 V642.3 H620.2 V642.3 H621.1 V643.5 H622.0 V643.5 H622.9 V644.7 H623.8 V646.0 H624.8 V647.2 H625.7 V648.5 H626.6 V649.7 H627.5 V652.2 H628.4 V653.4 H629.3 V653.4 H630.2 V653.4 H631.1 V653.4 H632.0 V654.7 H632.9 V654.7 H633.8 V654.7 H634.7 V655.9 H635.6 V657.1 H636.6 V658.4 H637.5 V659.6 H638.4 V660.9 H639.3 V663.3 H640.2 V663.3 H641.1 V663.3 H642.0 V663.3 H642.9 V663.3 H643.8 V663.3 H644.7 V663.3 H645.6 V663.3 H646.5 V663.3" fill="none" stroke="#3f7fc4" stroke-width="0.9"/>
<path d="M583.0,612.5 H583.0 V612.5 H583.8 V612.5 H584.7 V612.5 H585.5 V612.5 H586.3 V612.5 H587.2 V612.5 H588.0 V612.5 H588.8 V612.5 H589.7 V616.2 H590.5 V619.9 H591.3 V622.4 H592.2 V624.9 H593.0 V626.1 H593.8 V627.4 H594.7 V628.6 H595.5 V628.6 H596.3 V629.9 H597.2 V629.9 H598.0 V631.1 H598.8 V631.1 H599.7 V632.3 H600.5 V632.3 H601.3 V633.6 H602.2 V634.8 H603.0 V636.1 H603.8 V636.1 H604.7 V637.3 H605.5 V638.5 H606.3 V639.8 H607.2 V641.0 H608.0 V641.0 H608.8 V642.3 H609.7 V643.5 H610.5 V644.7 H611.3 V644.7 H612.2 V646.0 H613.0 V648.5 H613.8 V649.7 H614.7 V650.9 H615.5 V650.9 H616.3 V652.2 H617.2 V653.4 H618.0 V654.7 H618.8 V657.1 H619.7 V658.4 H620.5 V660.9 H621.3 V662.1 H622.2 V663.3 H623.0 V663.3 H623.8 V663.3 H624.7 V663.3 H625.5 V663.3 H626.3 V663.3 H627.2 V664.6 H628.0 V664.6 H628.8 V665.8 H629.7 V665.8 H630.5 V665.8 H631.3 V667.1 H632.2 V667.1 H633.0 V667.1" fill="none" stroke="#e8603c" stroke-width="0.9"/>
<line x1="599.6" y1="592.3" x2="608.8" y2="592.3" stroke="#3f7fc4" stroke-width="1"/>
<circle cx="604.2" cy="592.3" r="0.90" fill="#3f7fc4"/>
<line x1="599.6" y1="604.1" x2="608.8" y2="604.1" stroke="#e8603c" stroke-width="1"/>
<circle cx="604.2" cy="604.1" r="0.90" fill="#e8603c"/>
<text x="612.7" y="595.0" font-size="8" text-anchor="start" fill="#1a1a1a">STN1 low(n=45)</text>
<text x="612.7" y="606.8" font-size="8" text-anchor="start" fill="#1a1a1a">STN1 high(n=45)</text>
<text x="645.6" y="652.9" font-size="8" text-anchor="start" fill="#1a1a1a">P = 0.0002</text>
<text x="2.0" y="430.0" font-size="17" text-anchor="start" fill="#000" font-weight="bold">h</text>
<text x="78.6" y="448.6" font-size="9.2" text-anchor="middle" fill="#1a1a1a">T</text>
<text x="194.0" y="448.6" font-size="9.2" text-anchor="middle" fill="#1a1a1a">NAT</text>
<rect x="20.1" y="454.7" width="233.5" height="112.0" fill="#ebe7e4" stroke="none" stroke-width="1"/>
<clipPath id="cp23"><path d="M72.8,456.5 C100,456 119,478 119.5,505 C120,530 105,552 85,555.5 C70,557 45,552 33,535 C24,520 25,490 32,476 C42,462 58,456.5 72.8,456.5 Z"/></clipPath><g clip-path="url(#cp23)">
<rect x="25.0" y="456.0" width="96.0" height="100.0" fill="#ddd7db" stroke="none" stroke-width="1"/>
<filter id="nf24" x="25" y="456" width="96" height="100" filterUnits="userSpaceOnUse"><feTurbulence type="fractalNoise" baseFrequency="0.05" numOctaves="2" seed="41" result="n"/><feColorMatrix in="n" type="matrix" values="0 0 0 0 0  0 0 0 0 0  0 0 0 0 0  0 0 0 2.40 -0.96" result="a"/><feFlood flood-color="#cec6d6"/><feComposite in2="a" operator="in"/></filter>
<rect x="25" y="456" width="96" height="100" filter="url(#nf24)"/>
<filter id="nf25" x="25" y="456" width="96" height="100" filterUnits="userSpaceOnUse"><feTurbulence type="fractalNoise" baseFrequency="0.08" numOctaves="2" seed="43" result="n"/><feColorMatrix in="n" type="matrix" values="0 0 0 0 0  0 0 0 0 0  0 0 0 0 0  0 0 0 2.40 -0.96" result="a"/><feFlood flood-color="#ece8e6"/><feComposite in2="a" operator="in"/></filter>
<rect x="25" y="456" width="96" height="100" filter="url(#nf25)"/>
<path d="M79.3,520.1 q2.2,-2.8 2.6,-5.6" fill="none" stroke="#c49a70" stroke-width="0.9454054777796406" opacity="0.75"/>
<path d="M109.8,477.7 q1.0,-4.4 1.9,-8.7" fill="none" stroke="#c49a70" stroke-width="0.9830989825987299" opacity="0.75"/>
<path d="M75.5,502.3 q1.4,-3.8 5.1,-7.5" fill="none" stroke="#c49a70" stroke-width="0.6546297092670266" opacity="0.75"/>
<path d="M72.6,465.0 q0.3,-4.9 1.6,-9.8" fill="none" stroke="#c49a70" stroke-width="0.923293934317239" opacity="0.75"/>
<path d="M111.5,512.8 q-2.0,-2.4 1.3,-4.8" fill="none" stroke="#c49a70" stroke-width="0.9900112110661476" opacity="0.75"/>
<path d="M53.6,480.3 q0.3,-4.3 5.1,-8.6" fill="none" stroke="#c49a70" stroke-width="0.6608355707286586" opacity="0.75"/>
<path d="M49.8,485.9 q-3.6,-3.3 -4.8,-6.7" fill="none" stroke="#c49a70" stroke-width="0.6971047088095634" opacity="0.75"/>
<path d="M44.7,470.5 q-1.6,-4.6 -6.1,-9.1" fill="none" stroke="#c49a70" stroke-width="0.7798259699793983" opacity="0.75"/>
<path d="M39.1,474.2 q-4.1,-2.9 -3.0,-5.8" fill="none" stroke="#c49a70" stroke-width="0.6377021422541439" opacity="0.75"/>
<path d="M46.3,478.3 q0.7,-3.7 1.7,-7.5" fill="none" stroke="#c49a70" stroke-width="0.6790305882306004" opacity="0.75"/>
<path d="M76.5,534.6 q-0.6,-2.2 -1.0,-4.4" fill="none" stroke="#c49a70" stroke-width="0.6895844778339539" opacity="0.75"/>
<path d="M98.2,470.5 q1.3,-1.8 2.0,-3.6" fill="none" stroke="#c49a70" stroke-width="0.7217987020426528" opacity="0.75"/>
<path d="M56.4,544.4 q0.7,-2.5 1.5,-5.1" fill="none" stroke="#c49a70" stroke-width="0.8061313535399635" opacity="0.75"/>
<path d="M31.0,468.3 q0.5,-4.9 1.5,-9.7" fill="none" stroke="#c49a70" stroke-width="0.7110311945781709" opacity="0.75"/>
<path d="M73.6,484.8 q2.7,-5.1 5.7,-10.2" fill="none" stroke="#c49a70" stroke-width="0.5102662174368047" opacity="0.75"/>
<path d="M63.7,536.3 q-2.4,-2.4 -1.0,-4.7" fill="none" stroke="#c49a70" stroke-width="0.8558374692488859" opacity="0.75"/>
<path d="M84.0,487.2 q3.7,-5.0 1.8,-9.9" fill="none" stroke="#c49a70" stroke-width="0.9156494156572148" opacity="0.75"/>
<path d="M67.1,536.9 q4.5,-4.6 5.9,-9.2" fill="none" stroke="#c49a70" stroke-width="0.7933219025169148" opacity="0.75"/>
<path d="M74.0,540.8 q-0.7,-4.8 1.8,-9.6" fill="none" stroke="#c49a70" stroke-width="0.5460923381038001" opacity="0.75"/>
<path d="M52.3,515.4 q-1.5,-2.8 0.6,-5.6" fill="none" stroke="#c49a70" stroke-width="0.9750496954059443" opacity="0.75"/>
<path d="M34.4,548.0 q4.5,-4.0 3.1,-8.0" fill="none" stroke="#c49a70" stroke-width="0.8398826694913961" opacity="0.75"/>
<path d="M28.6,549.2 q1.4,-5.6 -1.0,-11.3" fill="none" stroke="#c49a70" stroke-width="0.5690507384277459" opacity="0.75"/>
<path d="M31.6,462.0 q0.3,-4.8 3.9,-9.6" fill="none" stroke="#c49a70" stroke-width="0.5563689967042191" opacity="0.75"/>
<path d="M61.0,535.9 q4.6,-5.2 3.6,-10.3" fill="none" stroke="#c49a70" stroke-width="0.8773484553082587" opacity="0.75"/>
<path d="M103.2,461.6 q-2.5,-4.4 -6.3,-8.9" fill="none" stroke="#c49a70" stroke-width="0.6634083633303354" opacity="0.75"/>
<path d="M39.5,491.6 q-1.0,-3.9 -1.5,-7.8" fill="none" stroke="#c49a70" stroke-width="0.6011039088205774" opacity="0.75"/>
<path d="M35.4,479.3 q-1.6,-2.1 -2.1,-4.3" fill="none" stroke="#c49a70" stroke-width="0.5650655371594188" opacity="0.75"/>
<path d="M100.0,511.8 q-1.7,-4.6 -0.3,-9.1" fill="none" stroke="#c49a70" stroke-width="0.5117076077445502" opacity="0.75"/>
<path d="M35.1,492.0 q-1.6,-3.0 -1.0,-5.9" fill="none" stroke="#c49a70" stroke-width="0.9168566197732196" opacity="0.75"/>
<path d="M28.8,502.7 q0.9,-3.1 -0.8,-6.2" fill="none" stroke="#c49a70" stroke-width="0.6122277556443219" opacity="0.75"/>
<path d="M31.8,475.1 q-0.3,-2.7 4.1,-5.4" fill="none" stroke="#c49a70" stroke-width="0.9854330427488386" opacity="0.75"/>
<path d="M86.1,550.9 q-3.8,-5.1 -2.1,-10.3" fill="none" stroke="#c49a70" stroke-width="0.6187733213327105" opacity="0.75"/>
<path d="M99.5,509.0 q3.6,-3.3 2.7,-6.5" fill="none" stroke="#c49a70" stroke-width="0.5387945094916498" opacity="0.75"/>
<path d="M84.1,477.9 q-2.4,-5.2 -4.0,-10.3" fill="none" stroke="#c49a70" stroke-width="0.906278903440733" opacity="0.75"/>
<path d="M53.6,529.4 q0.8,-3.8 4.7,-7.7" fill="none" stroke="#c49a70" stroke-width="0.8341301035390504" opacity="0.75"/>
<path d="M113.6,536.1 q-2.6,-3.6 -0.4,-7.2" fill="none" stroke="#c49a70" stroke-width="0.8842507319181574" opacity="0.75"/>
<path d="M42.2,480.8 q-2.2,-2.2 -2.9,-4.4" fill="none" stroke="#c49a70" stroke-width="0.7383189235303109" opacity="0.75"/>
<path d="M43.8,500.3 q-1.4,-2.2 1.7,-4.5" fill="none" stroke="#c49a70" stroke-width="0.7611908183030867" opacity="0.75"/>
<path d="M109.4,547.2 q2.5,-2.4 0.5,-4.7" fill="none" stroke="#c49a70" stroke-width="0.9963547739908492" opacity="0.75"/>
<path d="M108.9,510.4 q1.2,-4.3 -1.1,-8.6" fill="none" stroke="#c49a70" stroke-width="0.9971469508165735" opacity="0.75"/>
<path d="M72.4,508.1 q-0.7,-4.1 -1.9,-8.1" fill="none" stroke="#c49a70" stroke-width="0.6415502935508157" opacity="0.75"/>
<path d="M69.2,547.0 q-2.1,-2.9 -1.9,-5.7" fill="none" stroke="#c49a70" stroke-width="0.9292463044953219" opacity="0.75"/>
<path d="M55.3,538.6 q4.8,-4.6 6.0,-9.2" fill="none" stroke="#c49a70" stroke-width="0.5973575834406595" opacity="0.75"/>
<path d="M68.5,538.2 q0.9,-4.2 -2.7,-8.4" fill="none" stroke="#c49a70" stroke-width="0.9667742936548537" opacity="0.75"/>
<path d="M59.6,471.3 q-1.5,-2.7 -3.6,-5.4" fill="none" stroke="#c49a70" stroke-width="0.6402266160694156" opacity="0.75"/>
<path d="M102.1,521.8 q-0.1,-5.2 1.9,-10.4" fill="none" stroke="#c49a70" stroke-width="0.8249832885802832" opacity="0.75"/>
<path d="M59.6,487.5 q0.0,-4.6 -4.8,-9.1" fill="none" stroke="#c49a70" stroke-width="0.5155725436269916" opacity="0.75"/>
<path d="M92.5,465.9 q2.1,-3.3 -0.6,-6.5" fill="none" stroke="#c49a70" stroke-width="0.7164883644652184" opacity="0.75"/>
<path d="M74.0,493.8 q-3.5,-2.8 -1.7,-5.7" fill="none" stroke="#c49a70" stroke-width="0.5071873721918068" opacity="0.75"/>
<path d="M77.5,530.1 q3.7,-2.9 1.5,-5.9" fill="none" stroke="#c49a70" stroke-width="0.5393982988792807" opacity="0.75"/>
<path d="M66.8,491.7 q-1.0,-5.4 -4.5,-10.8" fill="none" stroke="#c49a70" stroke-width="0.565717480023551" opacity="0.75"/>
<path d="M43.9,536.9 q-1.7,-3.2 -0.9,-6.3" fill="none" stroke="#c49a70" stroke-width="0.662698584297879" opacity="0.75"/>
<path d="M81.0,489.6 q0.5,-2.2 0.6,-4.5" fill="none" stroke="#c49a70" stroke-width="0.7918650092774155" opacity="0.75"/>
<path d="M56.8,542.4 q2.0,-3.9 5.1,-7.8" fill="none" stroke="#c49a70" stroke-width="0.5829517467520713" opacity="0.75"/>
<path d="M84.3,487.5 q-3.5,-3.8 -3.3,-7.6" fill="none" stroke="#c49a70" stroke-width="0.8196347597612343" opacity="0.75"/>
<path d="M96.4,461.1 q-0.4,-2.7 1.1,-5.4" fill="none" stroke="#c49a70" stroke-width="0.8616036261534958" opacity="0.75"/>
<path d="M114.9,489.8 q3.8,-3.2 2.3,-6.4" fill="none" stroke="#c49a70" stroke-width="0.5868478034295841" opacity="0.75"/>
<path d="M87.8,467.9 q3.0,-4.9 1.0,-9.9" fill="none" stroke="#c49a70" stroke-width="0.8826826108275857" opacity="0.75"/>
<path d="M77.5,498.0 q1.5,-4.5 1.7,-9.0" fill="none" stroke="#c49a70" stroke-width="0.8570269831213678" opacity="0.75"/>
<path d="M95.1,549.0 q2.4,-5.4 1.9,-10.8" fill="none" stroke="#c49a70" stroke-width="0.6900582724479268" opacity="0.75"/>
<path d="M100.2,494.7 q4.8,-5.0 4.8,-9.9" fill="none" stroke="#c49a70" stroke-width="0.9550870066499478" opacity="0.75"/>
<path d="M90.3,507.3 q1.2,-4.4 -2.3,-8.8" fill="none" stroke="#c49a70" stroke-width="0.6792729636247692" opacity="0.75"/>
<path d="M46.9,531.9 q-0.7,-2.4 3.0,-4.8" fill="none" stroke="#c49a70" stroke-width="0.5561255489358717" opacity="0.75"/>
<path d="M77.7,539.0 q-4.3,-4.9 -3.1,-9.8" fill="none" stroke="#c49a70" stroke-width="0.604595825917227" opacity="0.75"/>
<path d="M77.2,532.0 q-0.8,-4.8 0.1,-9.5" fill="none" stroke="#c49a70" stroke-width="0.6887445499667819" opacity="0.75"/>
<path d="M74.9,460.2 q-0.3,-3.2 -2.5,-6.4" fill="none" stroke="#c49a70" stroke-width="0.5983667998505623" opacity="0.75"/>
<path d="M49.9,554.1 q2.5,-3.6 1.6,-7.1" fill="none" stroke="#c49a70" stroke-width="0.8574679421700366" opacity="0.75"/>
<path d="M101.5,513.1 q-0.0,-2.4 0.8,-4.7" fill="none" stroke="#c49a70" stroke-width="0.6961473947011741" opacity="0.75"/>
<path d="M51.0,494.7 q-0.9,-2.5 2.9,-5.0" fill="none" stroke="#c49a70" stroke-width="0.6673763557524397" opacity="0.75"/>
<path d="M43.2,462.2 q-0.6,-3.6 4.4,-7.1" fill="none" stroke="#c49a70" stroke-width="0.7656223209685418" opacity="0.75"/>
<filter id="sf26" x="25" y="456" width="96" height="100" filterUnits="userSpaceOnUse"><feTurbulence type="fractalNoise" baseFrequency="0.5" numOctaves="1" seed="45" result="n"/><feColorMatrix in="n" type="matrix" values="0 0 0 0 0  0 0 0 0 0  0 0 0 0 0  8 0 0 0 -4.96" result="a"/><feFlood flood-color="#aaa4c0"/><feComposite in2="a" operator="in"/><feGaussianBlur stdDeviation="0.4"/></filter>
<rect x="25" y="456" width="96" height="100" filter="url(#sf26)" opacity="0.5"/>
<path d="M95,470 Q100,500 92,540" fill="none" stroke="#ebe7e4" stroke-width="3"/>
<path d="M105,520 Q112,505 118,470" fill="none" stroke="#ebe7e4" stroke-width="2"/>
<path d="M70,457 L72,478" fill="none" stroke="#ebe7e4" stroke-width="2"/>
</g>
<path d="M35.5,480 Q70,475 110.8,478" fill="none" stroke="#5a3a50" stroke-width="1.4" opacity="0.8"/>
<circle cx="40.0" cy="473.0" r="1.50" fill="#b07a4c"/>
<circle cx="45.0" cy="472.0" r="1.30" fill="#b07a4c"/>
<circle cx="116.0" cy="468.0" r="1.10" fill="#c08850"/>
<clipPath id="cp27"><ellipse cx="192.7" cy="514.8" rx="51.3" ry="51"/></clipPath><g clip-path="url(#cp27)">
<rect x="140.0" y="462.0" width="106.0" height="106.0" fill="#a9a1ae" stroke="none" stroke-width="1"/>
<filter id="nf28" x="140" y="462" width="106" height="106" filterUnits="userSpaceOnUse"><feTurbulence type="fractalNoise" baseFrequency="0.08" numOctaves="2" seed="51" result="n"/><feColorMatrix in="n" type="matrix" values="0 0 0 0 0  0 0 0 0 0  0 0 0 0 0  0 0 0 2.00 -0.80" result="a"/><feFlood flood-color="#9a92a6"/><feComposite in2="a" operator="in"/></filter>
<rect x="140" y="462" width="106" height="106" filter="url(#nf28)"/>
<filter id="nf29" x="140" y="462" width="106" height="106" filterUnits="userSpaceOnUse"><feTurbulence type="fractalNoise" baseFrequency="0.06" numOctaves="2" seed="53" result="n"/><feColorMatrix in="n" type="matrix" values="0 0 0 0 0  0 0 0 0 0  0 0 0 0 0  0 0 0 2.00 -0.80" result="a"/><feFlood flood-color="#bcb2bc"/><feComposite in2="a" operator="in"/></filter>
<rect x="140" y="462" width="106" height="106" filter="url(#nf29)"/>
<filter id="sf30" x="140" y="462" width="106" height="106" filterUnits="userSpaceOnUse"><feTurbulence type="fractalNoise" baseFrequency="0.6" numOctaves="1" seed="55" result="n"/><feColorMatrix in="n" type="matrix" values="0 0 0 0 0  0 0 0 0 0  0 0 0 0 0  8 0 0 0 -4.80" result="a"/><feFlood flood-color="#867ea4"/><feComposite in2="a" operator="in"/><feGaussianBlur stdDeviation="0.4"/></filter>
<rect x="140" y="462" width="106" height="106" filter="url(#sf30)" opacity="0.55"/>
<filter id="sf31" x="140" y="462" width="106" height="106" filterUnits="userSpaceOnUse"><feTurbulence type="fractalNoise" baseFrequency="0.6" numOctaves="1" seed="57" result="n"/><feColorMatrix in="n" type="matrix" values="0 0 0 0 0  0 0 0 0 0  0 0 0 0 0  8 0 0 0 -5.60" result="a"/><feFlood flood-color="#b88c64"/><feComposite in2="a" operator="in"/><feGaussianBlur stdDeviation="0.2"/></filter>
<rect x="140" y="462" width="106" height="106" filter="url(#sf31)" opacity="0.5"/>
<path d="M189,462 L188.5,482" fill="none" stroke="#e8e4e2" stroke-width="2.6"/>
<path d="M203,512 Q190,525 180,540 Q172,552 165,566" fill="none" stroke="#e8e4e2" stroke-width="2.6"/>
<path d="M150,548 Q190,540 240,552" fill="none" stroke="#e8e4e2" stroke-width="2.0"/>
<path d="M225,470 L232,480" fill="none" stroke="#e8e4e2" stroke-width="1.5"/>
<path d="M142,530 Q150,540 160,548" fill="none" stroke="#e8e4e2" stroke-width="1.5"/>
<circle cx="157.0" cy="500.0" r="1.40" fill="#eae6e6"/>
<circle cx="170.0" cy="506.0" r="1.20" fill="#eae6e6"/>
<circle cx="212.0" cy="501.0" r="1.60" fill="#eae6e6"/>
<circle cx="221.0" cy="527.0" r="1.20" fill="#eae6e6"/>
</g>
<path d="M152,479.5 Q190,474 237.6,483" fill="none" stroke="#4e3048" stroke-width="1.5" opacity="0.85"/>
<circle cx="232.0" cy="465.0" r="1.00" fill="#222"/>
<rect x="20.1" y="454.7" width="233.5" height="112.0" fill="none" stroke="#111" stroke-width="1.3"/>
<line x1="21.7" y1="563.6" x2="55.0" y2="563.6" stroke="#111" stroke-width="1.3"/>
<rect x="53.5" y="494.5" width="27.6" height="29.0" fill="none" stroke="#111" stroke-width="1.3"/>
<rect x="175.4" y="484.1" width="28.1" height="29.0" fill="none" stroke="#111" stroke-width="1.3"/>
<clipPath id="cp32"><rect x="50.7" y="580.3" width="83.6" height="84.9"/></clipPath><g clip-path="url(#cp32)">
<rect x="50.7" y="580.3" width="83.6" height="84.9" fill="#e6dfdc" stroke="none" stroke-width="1"/>
<filter id="nf33" x="50.7" y="580.3" width="83.6" height="84.9" filterUnits="userSpaceOnUse"><feTurbulence type="fractalNoise" baseFrequency="0.06" numOctaves="2" seed="61" result="n"/><feColorMatrix in="n" type="matrix" values="0 0 0 0 0  0 0 0 0 0  0 0 0 0 0  0 0 0 2.00 -0.80" result="a"/><feFlood flood-color="#d6cfdc"/><feComposite in2="a" operator="in"/></filter>
<rect x="50.7" y="580.3" width="83.6" height="84.9" filter="url(#nf33)"/>
<filter id="sf34" x="50.7" y="580.3" width="83.6" height="84.9" filterUnits="userSpaceOnUse"><feTurbulence type="fractalNoise" baseFrequency="0.7" numOctaves="1" seed="63" result="n"/><feColorMatrix in="n" type="matrix" values="0 0 0 0 0  0 0 0 0 0  0 0 0 0 0  8 0 0 0 -4.80" result="a"/><feFlood flood-color="#8a92c8"/><feComposite in2="a" operator="in"/><feGaussianBlur stdDeviation="0.4"/></filter>
<rect x="50.7" y="580.3" width="83.6" height="84.9" filter="url(#sf34)" opacity="0.65"/>
<g filter="url(#sb2)">
<path d="M50,584 Q52,592 62,591 Q74,592 79,586 L80,579 Z" fill="#efebe7" stroke="#d2a678" stroke-width="1.9" opacity="0.9"/>
<path d="M58,606 Q70,604 80,609 Q92,614 104,612 Q110,609 108,606 Q96,607 86,604 Q72,600 58,606 Z" fill="#efebe7" stroke="#d2a678" stroke-width="1.9" opacity="0.9"/>
<path d="M92,600 Q102,604 108,610 Q112,608 108,602 Q100,597 92,600 Z" fill="#efebe7" stroke="#d2a678" stroke-width="1.9" opacity="0.9"/>
<path d="M51,626 Q68,622 78,632 Q80,642 70,644 Q58,645 51,640 Z" fill="#efebe7" stroke="#d2a678" stroke-width="1.9" opacity="0.9"/>
<path d="M81,651 Q90,646 102,649 Q108,656 104,662 Q94,666 84,663 Q78,657 81,651 Z" fill="#efebe7" stroke="#d2a678" stroke-width="1.9" opacity="0.9"/>
<path d="M113,580 Q112,600 114,615 Q116,625 120,624 Q124,610 121,595 Q120,585 122,580 Z" fill="#efebe7" stroke="#d2a678" stroke-width="1.9" opacity="0.9"/>
<path d="M122,612 Q130,606 135,612 L135,625 Q128,628 122,620 Z" fill="#efebe7" stroke="#d2a678" stroke-width="1.9" opacity="0.9"/>
<path d="M123,640 Q130,636 135,640 L135,652 Q128,654 123,648 Z" fill="#efebe7" stroke="#d2a678" stroke-width="1.9" opacity="0.9"/>
<path d="M66,620 Q80,618 92,624 Q96,628 90,630 Q78,628 66,620 Z" fill="#efebe7" stroke="#d2a678" stroke-width="1.9" opacity="0.9"/>
<path d="M95,630 Q105,632 112,640 Q108,644 100,638 Z" fill="#efebe7" stroke="#d2a678" stroke-width="1.9" opacity="0.9"/>
</g>
<path d="M66,627 L67.5,637" fill="none" stroke="#7070b0" stroke-width="1.6"/>
</g>
<rect x="50.7" y="580.3" width="83.6" height="84.9" fill="none" stroke="#111" stroke-width="1.3"/>
<line x1="55.0" y1="662.2" x2="72.9" y2="662.2" stroke="#111" stroke-width="1.3"/>
<clipPath id="cp35"><rect x="144.9" y="580.3" width="84.5" height="84.9"/></clipPath><g clip-path="url(#cp35)">
<rect x="144.9" y="580.3" width="84.5" height="84.9" fill="#cdc4c4" stroke="none" stroke-width="1"/>
<filter id="nf36" x="144.9" y="580.3" width="84.5" height="84.9" filterUnits="userSpaceOnUse"><feTurbulence type="fractalNoise" baseFrequency="0.05" numOctaves="2" seed="71" result="n"/><feColorMatrix in="n" type="matrix" values="0 0 0 0 0  0 0 0 0 0  0 0 0 0 0  0 0 0 2.00 -0.80" result="a"/><feFlood flood-color="#bcb0c0"/><feComposite in2="a" operator="in"/></filter>
<rect x="144.9" y="580.3" width="84.5" height="84.9" filter="url(#nf36)"/>
<g filter="url(#sb)" opacity="0.7">
<path d="M169.9,580.3 Q176.9,610.3 180.9,630.3 Q184.9,650.3 188.9,665.3" fill="none" stroke="#ece8e4" stroke-width="3"/>
<path d="M194.9,600.3 Q202.9,625.3 206.9,640.3" fill="none" stroke="#ece8e4" stroke-width="2.5"/>
<path d="M228.9,615.3 Q219.9,635.3 214.9,655.3" fill="none" stroke="#ece8e4" stroke-width="4"/>
</g>
<filter id="sf37" x="144.9" y="580.3" width="84.5" height="84.9" filterUnits="userSpaceOnUse"><feTurbulence type="fractalNoise" baseFrequency="0.8" numOctaves="1" seed="73" result="n"/><feColorMatrix in="n" type="matrix" values="0 0 0 0 0  0 0 0 0 0  0 0 0 0 0  9 0 0 0 -5.08" result="a"/><feFlood flood-color="#6a74b4"/><feComposite in2="a" operator="in"/><feGaussianBlur stdDeviation="0.35"/></filter>
<rect x="144.9" y="580.3" width="84.5" height="84.9" filter="url(#sf37)" opacity="0.8"/>
<filter id="sf38" x="144.9" y="580.3" width="84.5" height="84.9" filterUnits="userSpaceOnUse"><feTurbulence type="fractalNoise" baseFrequency="0.85" numOctaves="1" seed="75" result="n"/><feColorMatrix in="n" type="matrix" values="0 0 0 0 0  0 0 0 0 0  0 0 0 0 0  9 0 0 0 -5.40" result="a"/><feFlood flood-color="#b48454"/><feComposite in2="a" operator="in"/><feGaussianBlur stdDeviation="0.35"/></filter>
<rect x="144.9" y="580.3" width="84.5" height="84.9" filter="url(#sf38)" opacity="0.6"/>
</g>
<rect x="144.9" y="580.3" width="84.5" height="84.9" fill="none" stroke="#111" stroke-width="1.3"/>
<line x1="53.5" y1="523.5" x2="50.7" y2="580.3" stroke="#111" stroke-width="1.2"/>
<line x1="81.1" y1="523.5" x2="134.3" y2="580.3" stroke="#111" stroke-width="1.2"/>
<line x1="175.4" y1="513.1" x2="144.9" y2="580.3" stroke="#111" stroke-width="1.2"/>
<line x1="203.5" y1="513.1" x2="229.4" y2="580.3" stroke="#111" stroke-width="1.2"/>
</svg></body></html>
